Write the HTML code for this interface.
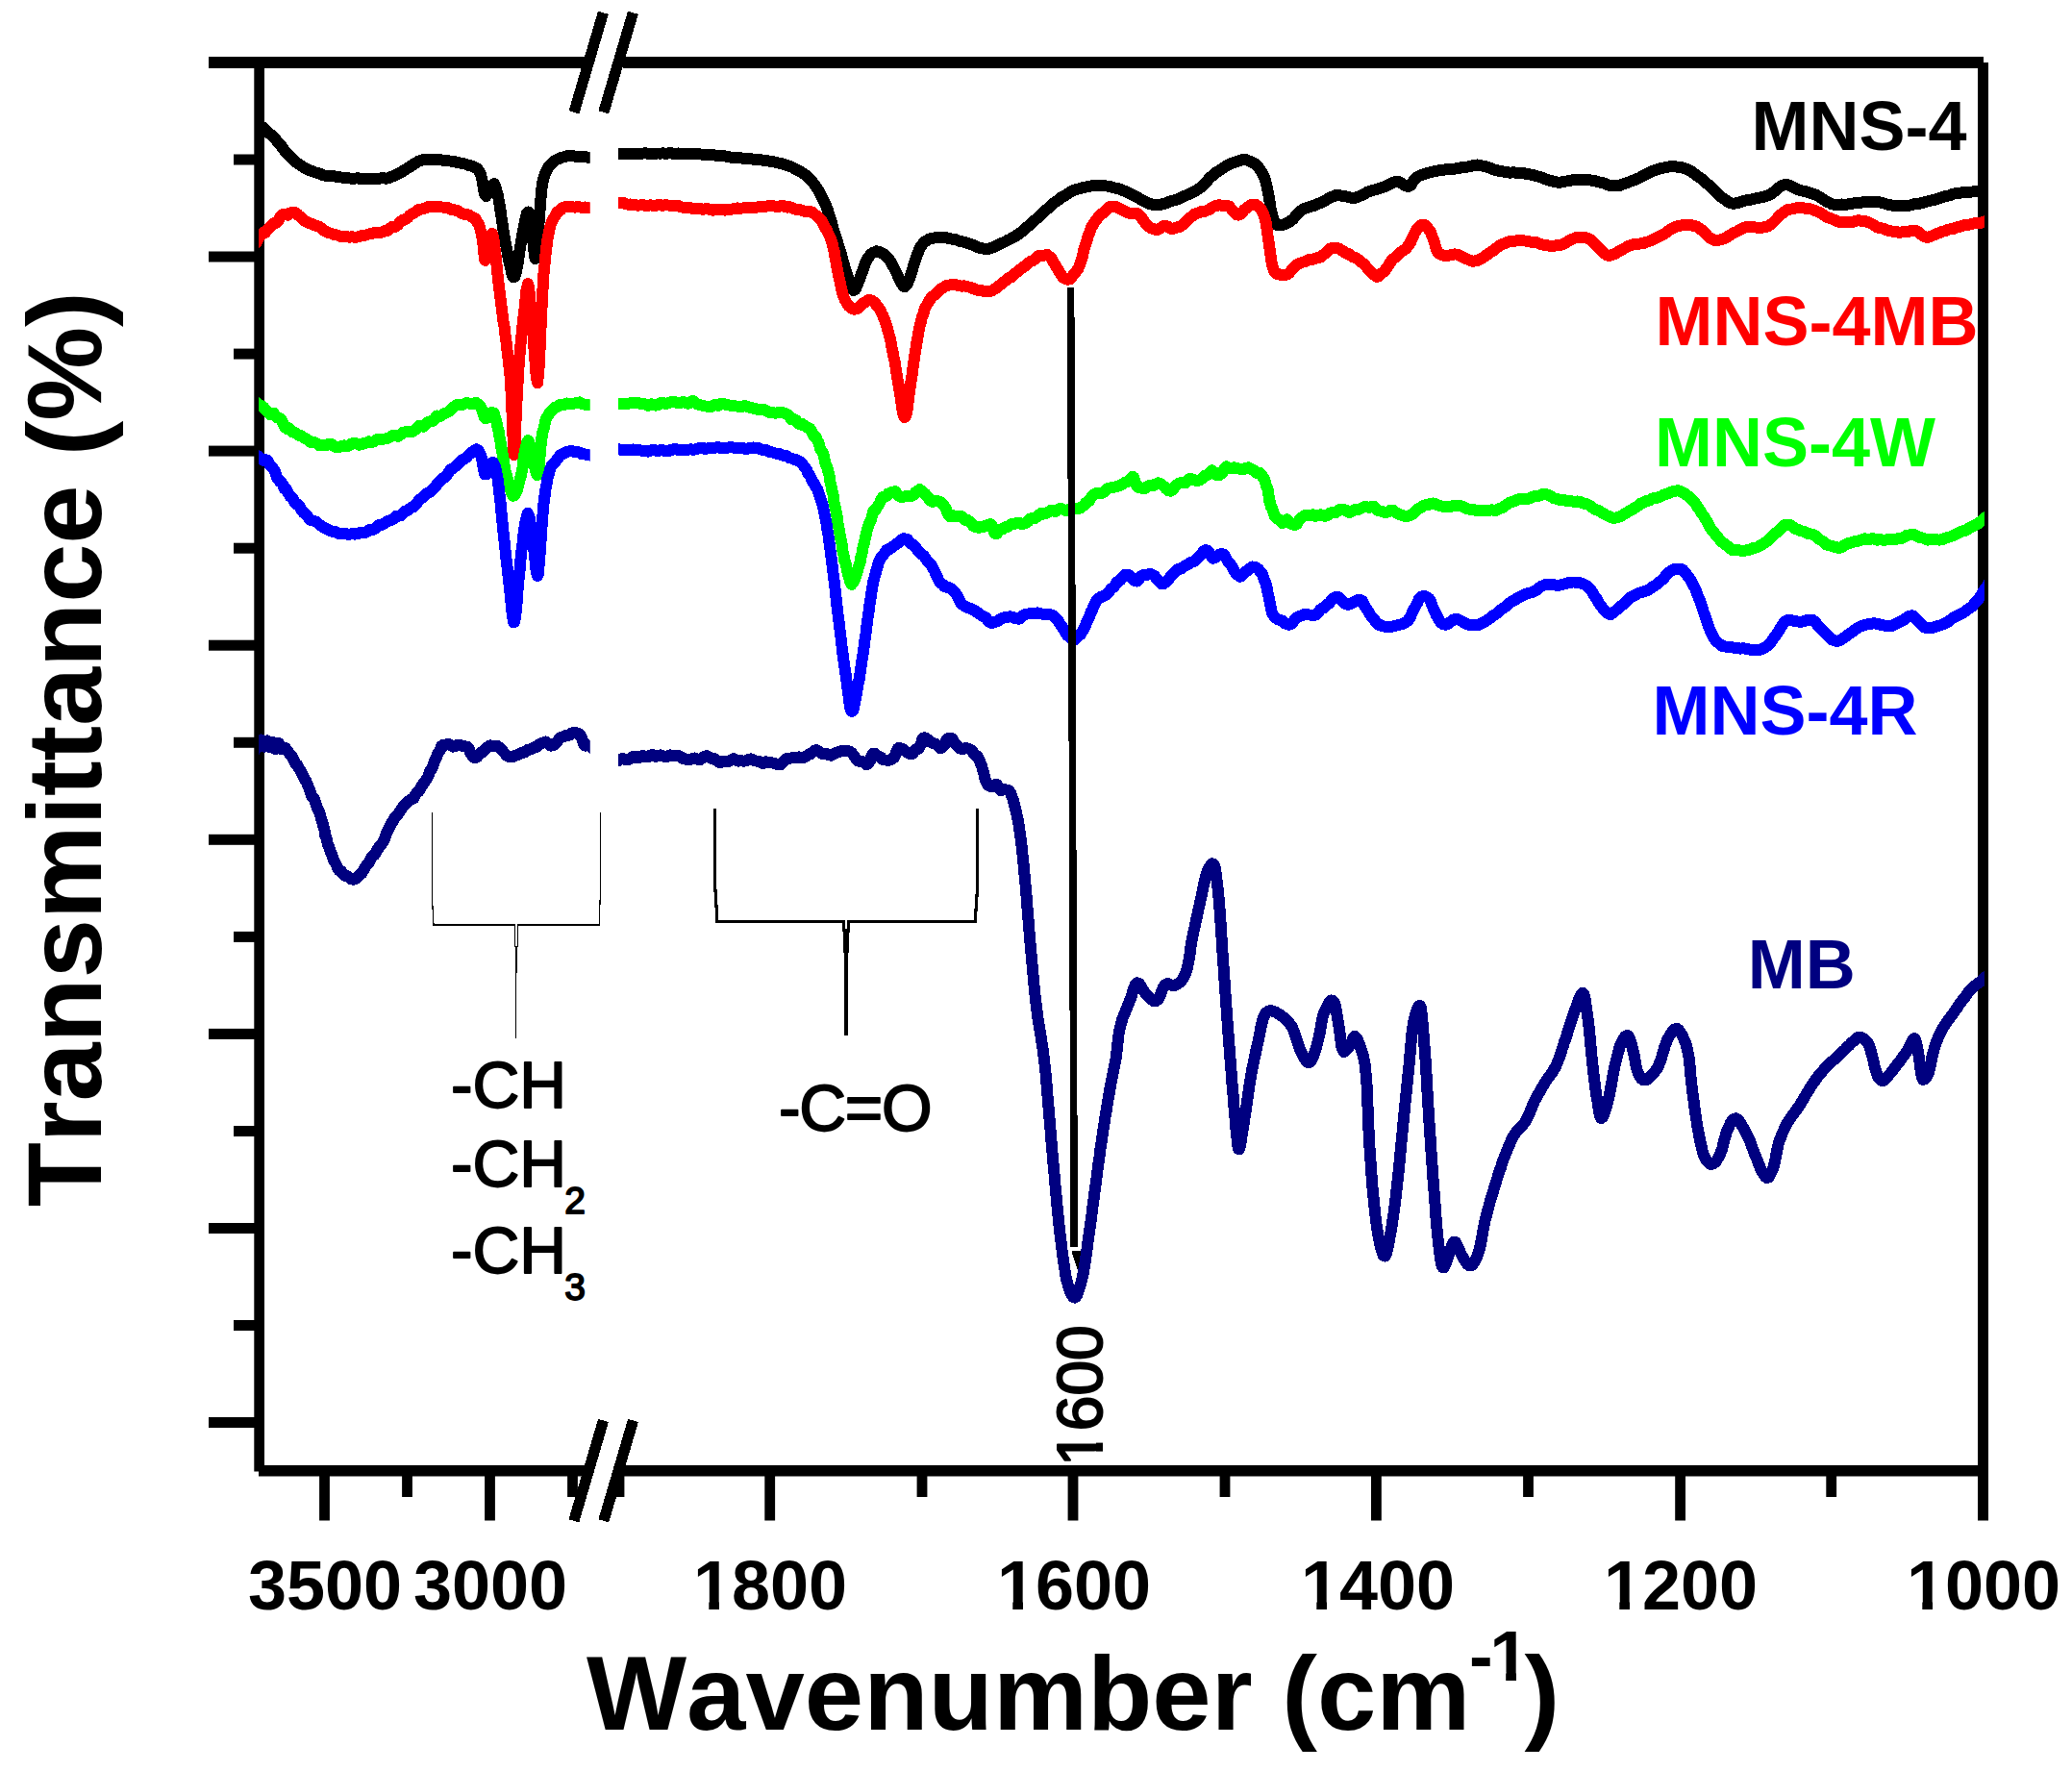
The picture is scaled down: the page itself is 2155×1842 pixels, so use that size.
<!DOCTYPE html>
<html lang="en"><head><meta charset="utf-8"><title>FTIR spectra</title>
<style>html,body{margin:0;padding:0;background:#fff;}svg{display:block;}text{font-family:"Liberation Sans",Arial,Helvetica,sans-serif;font-kerning:none;}.b{font-weight:bold;}</style></head><body>
<svg width="2155" height="1842" viewBox="0 0 2155 1842">
<rect x="0" y="0" width="2155" height="1842" fill="#ffffff"/>
<g id="brackets" fill="none" stroke="#000" shape-rendering="crispEdges">
<path d="M449.8,844.8 V940 L451,962 H535.2 V985 M538.4,985 V962 H623.2 L624.5,925 V844.8" stroke-width="1.2"/>
<path d="M536.8,984 V1012" stroke-width="2.4"/>
<path d="M536.8,1012 V1079.7" stroke-width="1.2"/>
<path d="M743.3,841 V915 L746,958.4 H877.6 V969 M882.7,970 V958.4 H1014.2 L1016.8,920 V841" stroke-width="3.2" stroke-linejoin="miter"/>
<path d="M880,966 V991" stroke-width="6"/>
<path d="M880,990 V1077" stroke-width="3.9"/>
</g>
<g id="axes" fill="#000">
<rect x="264.3" y="59" width="10.7" height="1471.5"/>
<rect x="2057" y="65" width="11" height="1516.5"/>
<rect x="217" y="59" width="393" height="12"/>
<rect x="648" y="59" width="1415" height="12"/>
<rect x="269" y="1524" width="340" height="11.5"/>
<rect x="648" y="1524" width="1420" height="11.5"/>
<rect x="217" y="261.5" width="48" height="11"/>
<rect x="217" y="463.6" width="48" height="11"/>
<rect x="217" y="665.7" width="48" height="11"/>
<rect x="217" y="867.8" width="48" height="11"/>
<rect x="217" y="1069.9" width="48" height="11"/>
<rect x="217" y="1272.0" width="48" height="11"/>
<rect x="217" y="1474.0" width="48" height="11"/>
<rect x="243" y="160.5" width="22" height="11"/>
<rect x="243" y="362.6" width="22" height="11"/>
<rect x="243" y="564.7" width="22" height="11"/>
<rect x="243" y="766.8" width="22" height="11"/>
<rect x="243" y="968.9" width="22" height="11"/>
<rect x="243" y="1171.0" width="22" height="11"/>
<rect x="243" y="1373.0" width="22" height="11"/>
<rect x="332.1" y="1530" width="10.8" height="51.5"/>
<rect x="504.1" y="1530" width="10.8" height="51.5"/>
<rect x="795.3" y="1530" width="10.8" height="51.5"/>
<rect x="1110.6" y="1530" width="10.8" height="51.5"/>
<rect x="1426.0" y="1530" width="10.8" height="51.5"/>
<rect x="1742.2" y="1530" width="10.8" height="51.5"/>
<rect x="418.1" y="1530" width="10.8" height="27"/>
<rect x="590.1" y="1530" width="10.8" height="27"/>
<rect x="638.6" y="1530" width="10.8" height="27"/>
<rect x="953.6" y="1530" width="10.8" height="27"/>
<rect x="1268.6" y="1530" width="10.8" height="27"/>
<rect x="1584.1" y="1530" width="10.8" height="27"/>
<rect x="1899.3" y="1530" width="10.8" height="27"/>
</g>
<g id="breaks" shape-rendering="crispEdges" stroke="#000" stroke-width="11.3" stroke-linecap="butt">
<polygon points="621,1500 611,1560 637,1560 650,1500" fill="#fff" stroke="none"/>
<polygon points="621,40 611,95 637,95 650,40" fill="#fff" stroke="none"/>
<line x1="627.5" y1="1477.5" x2="596.9" y2="1581.8"/>
<line x1="658.5" y1="1477.5" x2="627.8" y2="1581.8"/>
<line x1="627.4" y1="13.2" x2="597" y2="116.8"/>
<line x1="658.4" y1="13.2" x2="627.8" y2="116.8"/>
</g>
<defs><clipPath id="cl"><rect x="269.3" y="71" width="344.2" height="1453"/></clipPath><clipPath id="cr"><rect x="643" y="71" width="1420.8" height="1453"/></clipPath></defs>
<g id="curves" shape-rendering="crispEdges">
<g clip-path="url(#cl)"><polyline points="262.0,123.6 264.0,125.2 266.1,127.1 268.1,128.7 270.1,130.1 272.2,131.7 274.2,133.2 276.2,134.9 278.1,136.9 280.0,138.8 281.9,140.2 283.8,141.8 285.6,143.6 287.4,145.8 289.2,148.0 290.9,149.5 292.5,151.8 294.1,154.3 295.7,156.2 297.2,158.1 298.9,159.8 300.5,161.5 302.2,163.7 304.1,165.5 305.9,167.1 308.0,168.8 310.1,170.2 312.3,171.7 314.6,173.3 316.9,174.7 319.2,175.9 321.6,176.9 324.0,177.8 326.4,178.8 328.8,179.6 331.3,180.2 333.8,181.3 336.3,182.2 338.9,182.7 341.4,183.0 344.0,183.1 346.6,183.3 349.2,183.6 351.7,183.8 354.3,184.4 356.9,184.8 359.5,185.2 362.1,185.3 364.7,185.6 367.3,186.0 369.9,185.5 372.5,185.3 375.1,186.0 377.7,186.1 380.3,186.3 382.9,186.2 385.5,185.7 388.1,185.9 390.7,186.2 393.3,185.9 395.9,185.4 398.5,185.3 401.0,185.6 403.6,185.5 406.1,184.3 408.6,183.4 411.0,182.3 413.4,181.1 415.6,180.2 417.8,178.8 420.0,177.3 422.2,176.1 424.4,174.5 426.6,173.3 428.8,171.8 431.0,170.4 433.2,169.0 435.5,167.7 437.9,166.8 440.4,166.1 443.0,166.2 445.6,166.2 448.2,165.7 450.8,165.8 453.4,165.9 456.0,165.8 458.5,166.4 461.1,166.8 463.7,166.6 466.3,167.3 468.9,167.6 471.4,167.7 474.0,168.6 476.5,169.2 479.0,169.6 481.5,170.1 484.0,170.6 486.6,171.6 489.1,172.3 491.6,173.1 494.0,174.1 496.2,175.4 498.0,177.5 499.3,179.8 500.1,182.0 500.9,184.8 501.4,187.0 501.9,189.2 502.3,192.2 502.7,195.1 503.0,197.3 503.5,199.5 504.1,202.3 505.6,204.0 507.3,201.7 508.6,199.6 509.9,197.7 511.1,195.1 512.2,192.5 513.9,191.1 515.1,193.1 515.9,196.1 516.6,198.7 517.3,201.1 517.9,203.6 518.4,206.3 518.8,209.0 519.2,211.2 519.7,213.6 520.1,216.4 520.5,218.9 520.9,221.2 521.3,224.1 521.6,227.0 522.0,229.6 522.4,231.8 522.8,234.6 523.1,237.1 523.5,239.1 523.9,241.8 524.3,244.6 524.8,247.0 525.3,249.4 525.7,252.2 526.2,254.9 526.7,257.3 527.2,259.8 527.7,262.8 528.1,265.7 528.7,268.1 529.2,270.5 529.7,273.0 530.2,275.2 530.8,277.4 531.4,279.9 532.0,283.0 532.7,285.8 534.0,288.1 535.2,287.9 536.3,285.4 536.9,283.2 537.4,280.7 537.8,278.0 538.3,275.6 538.7,272.9 539.1,270.1 539.4,267.9 539.8,265.5 540.2,262.9 540.6,260.2 541.0,257.7 541.4,255.3 541.8,252.4 542.3,249.8 542.7,247.5 543.2,245.0 543.6,242.2 544.1,239.6 544.6,237.3 545.1,234.6 545.7,232.0 546.2,229.3 546.7,226.8 547.3,224.3 548.0,221.5 549.3,220.4 550.2,223.3 550.7,226.0 551.2,228.4 551.6,230.6 552.0,233.3 552.4,235.9 552.7,238.3 553.1,241.1 553.4,243.4 553.8,246.0 554.1,248.5 554.4,251.0 554.6,253.8 554.9,256.2 555.2,259.0 555.5,261.7 555.8,264.2 556.1,267.0 556.8,269.3 557.4,267.8 557.9,265.3 558.2,263.1 558.4,260.4 558.6,257.6 558.8,255.4 559.0,253.1 559.2,250.2 559.3,247.8 559.5,245.1 559.7,242.4 559.8,239.7 560.0,237.0 560.2,234.8 560.5,232.4 560.7,229.9 560.9,226.9 561.1,224.2 561.3,221.6 561.5,218.7 561.7,216.3 561.9,214.1 562.1,211.7 562.3,209.0 562.5,206.5 562.6,203.6 562.8,200.6 563.2,198.1 563.5,195.6 563.8,192.9 564.1,190.4 564.7,188.1 565.4,185.6 566.1,182.9 566.8,180.7 568.0,178.7 569.2,176.2 570.7,173.5 572.3,171.3 574.1,169.9 576.1,168.1 578.1,166.4 580.3,165.4 582.7,164.2 585.2,163.6 587.8,162.9 590.4,162.2 593.0,162.4 595.6,162.1 598.1,162.6 600.7,162.7 603.3,162.6 605.9,162.7 608.5,163.2 611.1,163.6 613.7,163.8 616.3,164.0 618.9,164.2 621.0,164.5" fill="none" stroke="#000000" stroke-width="11" stroke-linejoin="round" shape-rendering="auto"/><polyline points="262.0,123.6 264.0,125.2 266.1,127.1 268.1,128.7 270.1,130.1 272.2,131.7 274.2,133.2 276.2,134.9 278.1,136.9 280.0,138.8 281.9,140.2 283.8,141.8 285.6,143.6 287.4,145.8 289.2,148.0 290.9,149.5 292.5,151.8 294.1,154.3 295.7,156.2 297.2,158.1 298.9,159.8 300.5,161.5 302.2,163.7 304.1,165.5 305.9,167.1 308.0,168.8 310.1,170.2 312.3,171.7 314.6,173.3 316.9,174.7 319.2,175.9 321.6,176.9 324.0,177.8 326.4,178.8 328.8,179.6 331.3,180.2 333.8,181.3 336.3,182.2 338.9,182.7 341.4,183.0 344.0,183.1 346.6,183.3 349.2,183.6 351.7,183.8 354.3,184.4 356.9,184.8 359.5,185.2 362.1,185.3 364.7,185.6 367.3,186.0 369.9,185.5 372.5,185.3 375.1,186.0 377.7,186.1 380.3,186.3 382.9,186.2 385.5,185.7 388.1,185.9 390.7,186.2 393.3,185.9 395.9,185.4 398.5,185.3 401.0,185.6 403.6,185.5 406.1,184.3 408.6,183.4 411.0,182.3 413.4,181.1 415.6,180.2 417.8,178.8 420.0,177.3 422.2,176.1 424.4,174.5 426.6,173.3 428.8,171.8 431.0,170.4 433.2,169.0 435.5,167.7 437.9,166.8 440.4,166.1 443.0,166.2 445.6,166.2 448.2,165.7 450.8,165.8 453.4,165.9 456.0,165.8 458.5,166.4 461.1,166.8 463.7,166.6 466.3,167.3 468.9,167.6 471.4,167.7 474.0,168.6 476.5,169.2 479.0,169.6 481.5,170.1 484.0,170.6 486.6,171.6 489.1,172.3 491.6,173.1 494.0,174.1 496.2,175.4 498.0,177.5 499.3,179.8 500.1,182.0 500.9,184.8 501.4,187.0 501.9,189.2 502.3,192.2 502.7,195.1 503.0,197.3 503.5,199.5 504.1,202.3 505.6,204.0 507.3,201.7 508.6,199.6 509.9,197.7 511.1,195.1 512.2,192.5 513.9,191.1 515.1,193.1 515.9,196.1 516.6,198.7 517.3,201.1 517.9,203.6 518.4,206.3 518.8,209.0 519.2,211.2 519.7,213.6 520.1,216.4 520.5,218.9 520.9,221.2 521.3,224.1 521.6,227.0 522.0,229.6 522.4,231.8 522.8,234.6 523.1,237.1 523.5,239.1 523.9,241.8 524.3,244.6 524.8,247.0 525.3,249.4 525.7,252.2 526.2,254.9 526.7,257.3 527.2,259.8 527.7,262.8 528.1,265.7 528.7,268.1 529.2,270.5 529.7,273.0 530.2,275.2 530.8,277.4 531.4,279.9 532.0,283.0 532.7,285.8 534.0,288.1 535.2,287.9 536.3,285.4 536.9,283.2 537.4,280.7 537.8,278.0 538.3,275.6 538.7,272.9 539.1,270.1 539.4,267.9 539.8,265.5 540.2,262.9 540.6,260.2 541.0,257.7 541.4,255.3 541.8,252.4 542.3,249.8 542.7,247.5 543.2,245.0 543.6,242.2 544.1,239.6 544.6,237.3 545.1,234.6 545.7,232.0 546.2,229.3 546.7,226.8 547.3,224.3 548.0,221.5 549.3,220.4 550.2,223.3 550.7,226.0 551.2,228.4 551.6,230.6 552.0,233.3 552.4,235.9 552.7,238.3 553.1,241.1 553.4,243.4 553.8,246.0 554.1,248.5 554.4,251.0 554.6,253.8 554.9,256.2 555.2,259.0 555.5,261.7 555.8,264.2 556.1,267.0 556.8,269.3 557.4,267.8 557.9,265.3 558.2,263.1 558.4,260.4 558.6,257.6 558.8,255.4 559.0,253.1 559.2,250.2 559.3,247.8 559.5,245.1 559.7,242.4 559.8,239.7 560.0,237.0 560.2,234.8 560.5,232.4 560.7,229.9 560.9,226.9 561.1,224.2 561.3,221.6 561.5,218.7 561.7,216.3 561.9,214.1 562.1,211.7 562.3,209.0 562.5,206.5 562.6,203.6 562.8,200.6 563.2,198.1 563.5,195.6 563.8,192.9 564.1,190.4 564.7,188.1 565.4,185.6 566.1,182.9 566.8,180.7 568.0,178.7 569.2,176.2 570.7,173.5 572.3,171.3 574.1,169.9 576.1,168.1 578.1,166.4 580.3,165.4 582.7,164.2 585.2,163.6 587.8,162.9 590.4,162.2 593.0,162.4 595.6,162.1 598.1,162.6 600.7,162.7 603.3,162.6 605.9,162.7 608.5,163.2 611.1,163.6 613.7,163.8 616.3,164.0 618.9,164.2 621.0,164.5" fill="none" stroke="#000000" stroke-width="12" stroke-linejoin="round" shape-rendering="crispEdges"/></g>
<g clip-path="url(#cr)"><polyline points="635.0,160.0 637.6,160.1 640.2,160.2 642.8,159.9 645.4,159.6 648.0,159.7 650.6,159.7 653.2,159.9 655.8,160.1 658.4,159.9 661.0,159.8 663.6,159.8 666.2,159.6 668.8,159.5 671.4,159.4 674.0,159.7 676.6,159.6 679.2,159.6 681.8,159.5 684.4,159.5 687.0,159.6 689.6,159.4 692.2,159.7 694.8,159.5 697.4,159.2 700.0,159.7 702.6,159.9 705.2,159.5 707.8,159.9 710.4,160.3 713.0,159.9 715.6,159.8 718.2,159.8 720.8,159.9 723.4,160.3 726.0,160.3 728.6,160.5 731.2,160.5 733.8,160.5 736.4,161.0 739.0,161.3 741.6,161.3 744.1,161.6 746.7,161.9 749.3,162.0 751.9,162.0 754.5,162.5 757.1,163.2 759.7,163.6 762.3,163.7 764.8,163.7 767.4,163.8 770.0,164.3 772.6,164.7 775.2,164.7 777.8,164.8 780.4,165.2 782.9,165.5 785.5,166.0 788.1,166.2 790.7,166.1 793.3,166.7 795.9,167.1 798.4,167.3 801.0,167.7 803.6,168.1 806.1,168.7 808.6,169.4 811.2,169.8 813.7,170.4 816.2,171.2 818.7,172.1 821.1,172.9 823.5,173.7 825.8,175.0 828.2,176.3 830.4,177.4 832.7,178.6 834.9,180.1 837.0,181.5 839.1,183.2 841.1,185.2 842.9,187.0 844.6,189.0 846.3,190.8 847.8,193.0 849.2,195.2 850.6,197.1 851.9,199.5 853.2,202.1 854.4,204.0 855.6,206.1 856.7,208.8 857.7,211.2 858.8,213.3 859.8,215.6 860.7,217.9 861.5,220.7 862.4,223.6 863.2,226.2 863.9,228.5 864.6,230.5 865.4,232.9 866.1,235.8 866.8,238.5 867.5,240.9 868.3,243.1 869.1,245.6 869.8,248.2 870.6,250.7 871.4,253.1 872.1,255.8 872.9,258.5 873.6,260.6 874.4,262.8 875.2,265.7 875.9,268.1 876.6,270.7 877.3,273.3 878.0,275.7 878.7,278.3 879.5,280.5 880.2,282.8 880.9,285.3 881.7,288.0 882.6,290.7 883.4,292.9 884.3,295.5 885.1,298.0 886.2,300.1 887.8,302.1 889.7,301.0 890.7,298.7 891.7,296.1 892.6,293.9 893.6,291.6 894.5,289.1 895.4,286.4 896.3,283.9 897.2,281.7 898.0,279.3 898.8,276.7 899.7,274.0 900.8,271.6 902.0,269.5 903.5,267.4 905.2,265.1 907.1,263.4 909.2,262.3 911.6,261.4 914.2,261.7 916.5,262.9 918.7,264.1 920.7,265.8 922.5,267.5 924.2,269.1 925.7,271.3 927.1,273.6 928.4,276.1 929.7,278.5 930.8,280.6 932.0,283.0 933.1,285.1 934.1,287.5 935.1,290.1 936.3,292.4 937.4,294.5 938.9,296.6 940.8,298.3 942.6,296.9 944.0,294.6 945.0,291.9 945.9,289.6 946.7,287.4 947.4,285.1 948.2,282.6 949.0,280.2 949.8,277.6 950.6,274.7 951.5,272.3 952.3,270.0 953.1,267.4 953.9,265.1 954.8,262.7 955.7,260.0 956.8,257.7 958.1,255.8 959.7,253.6 961.6,251.6 963.8,250.2 966.1,248.9 968.5,248.1 971.0,247.5 973.6,247.4 976.2,247.3 978.8,247.2 981.4,247.2 984.0,247.3 986.5,247.9 989.1,248.5 991.6,248.9 994.2,249.3 996.7,250.3 999.2,251.2 1001.7,251.5 1004.2,252.2 1006.7,253.1 1009.1,253.9 1011.6,254.7 1014.0,255.8 1016.4,256.9 1018.9,257.7 1021.3,258.4 1023.9,258.7 1026.5,259.0 1029.0,258.6 1031.5,257.7 1033.9,256.8 1036.3,255.6 1038.6,254.4 1041.0,253.2 1043.3,252.3 1045.7,251.2 1048.0,249.8 1050.3,248.9 1052.6,247.6 1054.8,246.4 1057.0,245.1 1059.2,243.5 1061.2,242.1 1063.3,240.7 1065.3,238.8 1067.3,236.7 1069.3,235.2 1071.2,233.8 1073.2,232.1 1075.1,230.3 1077.0,228.5 1079.0,226.7 1080.9,224.8 1082.8,223.0 1084.7,221.3 1086.6,219.5 1088.6,217.8 1090.5,216.2 1092.4,214.3 1094.4,212.4 1096.4,210.8 1098.5,209.6 1100.6,208.1 1102.7,206.2 1104.8,204.9 1106.9,203.8 1109.2,202.4 1111.4,200.8 1113.7,199.6 1116.0,198.4 1118.5,197.2 1120.9,196.7 1123.4,196.2 1125.9,195.3 1128.5,194.8 1131.0,194.2 1133.6,193.6 1136.2,193.3 1138.8,193.0 1141.4,193.0 1144.0,193.3 1146.6,193.4 1149.2,193.3 1151.7,193.6 1154.3,194.0 1156.9,194.8 1159.4,195.5 1161.9,195.8 1164.4,196.6 1166.9,197.7 1169.3,198.5 1171.7,199.6 1174.0,200.7 1176.4,202.0 1178.7,203.0 1181.0,204.2 1183.3,205.4 1185.5,206.8 1187.7,208.1 1189.9,209.3 1192.3,210.6 1194.7,211.7 1197.2,212.3 1199.7,213.0 1202.3,213.2 1204.9,212.9 1207.5,212.6 1210.0,212.1 1212.5,211.3 1215.0,210.3 1217.5,209.4 1219.9,208.7 1222.4,208.0 1224.8,207.3 1227.3,206.0 1229.7,204.8 1232.1,203.8 1234.5,202.8 1236.9,201.7 1239.2,200.6 1241.5,199.4 1243.8,198.2 1245.9,196.9 1247.9,195.5 1249.9,194.0 1251.7,192.3 1253.6,190.3 1255.4,188.5 1257.2,186.2 1259.1,184.1 1261.0,182.8 1263.0,181.2 1265.1,179.3 1267.2,178.0 1269.4,176.6 1271.6,175.2 1273.8,173.7 1276.1,172.3 1278.4,171.0 1280.7,170.0 1283.0,169.3 1285.4,168.4 1287.8,167.4 1290.3,166.7 1292.9,166.1 1295.5,166.1 1298.0,167.0 1300.4,168.0 1302.7,169.1 1304.9,170.2 1306.9,171.7 1308.7,173.8 1310.3,176.0 1311.8,178.3 1313.1,180.6 1314.3,182.6 1315.3,184.9 1316.1,187.6 1316.7,190.4 1317.3,192.7 1317.8,194.9 1318.3,197.6 1318.8,200.3 1319.3,202.7 1319.8,205.1 1320.2,207.7 1320.6,210.4 1321.0,212.9 1321.4,215.4 1321.9,218.4 1322.5,221.0 1323.1,223.2 1323.7,225.6 1324.4,228.0 1325.2,230.6 1326.5,233.0 1328.6,234.1 1331.2,234.3 1333.7,234.0 1336.2,233.2 1338.6,232.1 1341.0,230.9 1343.0,229.3 1344.9,227.8 1346.6,225.8 1348.2,223.6 1350.0,221.7 1352.0,219.9 1354.1,218.5 1356.4,217.2 1358.8,216.2 1361.3,215.4 1363.7,214.5 1366.2,214.0 1368.6,213.1 1371.1,211.9 1373.4,211.0 1375.7,209.8 1378.0,208.6 1380.3,207.4 1382.6,205.9 1384.9,204.9 1387.4,203.9 1389.9,203.0 1392.4,203.1 1395.0,203.6 1397.5,204.1 1400.0,204.4 1402.5,205.0 1405.1,205.6 1407.7,206.0 1410.2,205.6 1412.7,204.6 1415.0,203.6 1417.3,202.6 1419.6,201.3 1421.9,200.0 1424.2,199.2 1426.7,198.3 1429.2,197.6 1431.7,196.8 1434.2,196.0 1436.7,195.2 1439.2,194.6 1441.6,193.8 1443.9,192.4 1446.2,191.0 1448.5,190.1 1450.9,189.1 1453.5,188.6 1455.9,189.5 1458.1,190.9 1460.3,192.2 1462.4,193.5 1464.9,193.9 1467.1,192.9 1468.4,191.0 1469.8,188.5 1471.3,186.5 1473.1,184.9 1475.4,183.3 1477.8,182.3 1480.2,181.5 1482.7,180.6 1485.3,179.8 1487.8,179.3 1490.3,178.6 1492.9,177.9 1495.4,177.5 1498.0,177.2 1500.6,176.8 1503.2,176.4 1505.7,176.4 1508.3,176.2 1510.9,175.7 1513.5,175.5 1516.1,175.4 1518.6,174.7 1521.2,173.9 1523.7,173.8 1526.3,173.5 1528.8,173.0 1531.4,172.4 1533.9,171.8 1536.5,171.5 1539.1,171.9 1541.7,172.6 1544.2,173.0 1546.7,173.9 1549.1,174.6 1551.6,175.4 1554.0,176.6 1556.5,177.1 1559.0,177.7 1561.5,178.1 1564.1,178.7 1566.7,179.3 1569.3,179.5 1571.9,179.5 1574.5,179.4 1577.1,179.7 1579.7,180.0 1582.2,180.2 1584.8,180.2 1587.4,180.8 1590.0,181.4 1592.6,181.6 1595.1,182.2 1597.6,183.1 1600.1,183.6 1602.6,184.3 1605.0,185.4 1607.4,186.2 1609.9,187.2 1612.3,187.8 1614.8,188.5 1617.4,189.2 1619.9,189.6 1622.5,189.7 1625.1,189.3 1627.7,188.6 1630.2,188.4 1632.8,188.0 1635.3,187.3 1637.9,187.1 1640.5,186.8 1643.1,187.0 1645.7,187.0 1648.3,187.0 1650.9,187.2 1653.4,187.4 1656.0,187.7 1658.6,188.1 1661.1,189.0 1663.7,189.5 1666.2,190.0 1668.7,190.7 1671.1,191.8 1673.6,192.7 1676.1,192.9 1678.7,193.4 1681.3,193.5 1683.9,193.2 1686.4,192.2 1688.9,191.2 1691.3,190.5 1693.7,189.5 1696.2,188.5 1698.6,187.8 1701.0,186.8 1703.4,185.8 1705.7,184.7 1708.0,183.3 1710.3,182.1 1712.7,181.0 1715.0,179.6 1717.4,178.4 1719.8,177.7 1722.2,176.9 1724.7,175.9 1727.2,175.2 1729.7,174.7 1732.3,174.0 1734.8,173.6 1737.4,173.3 1740.0,173.1 1742.6,173.3 1745.2,173.7 1747.7,173.8 1750.2,174.5 1752.7,175.4 1755.1,176.4 1757.4,177.4 1759.6,178.5 1761.8,180.3 1764.0,181.9 1766.0,183.4 1768.0,184.8 1770.0,186.2 1771.9,188.4 1773.9,190.0 1775.9,191.4 1777.8,193.2 1779.8,195.3 1781.7,197.1 1783.6,199.0 1785.5,200.8 1787.4,202.3 1789.3,204.2 1791.3,205.7 1793.4,206.9 1795.6,208.7 1797.8,210.4 1800.2,211.3 1802.7,211.7 1805.3,211.4 1807.8,210.8 1810.3,210.0 1812.8,209.1 1815.2,208.5 1817.8,208.2 1820.3,207.9 1822.8,207.1 1825.4,206.5 1827.9,206.0 1830.5,205.5 1833.0,205.0 1835.5,204.4 1838.0,203.6 1840.4,202.6 1842.7,201.3 1844.9,199.6 1846.9,198.0 1848.9,196.4 1850.9,194.6 1853.0,193.0 1855.5,192.2 1858.0,192.0 1860.5,192.5 1862.9,193.6 1865.3,194.9 1867.5,196.3 1869.9,197.2 1872.3,198.0 1874.8,198.6 1877.4,199.0 1879.9,199.8 1882.5,200.7 1884.9,201.3 1887.3,202.3 1889.6,203.2 1891.9,204.5 1894.0,205.9 1896.2,207.2 1898.4,208.8 1900.7,210.0 1903.0,211.0 1905.4,212.3 1907.9,212.9 1910.5,213.3 1913.1,213.1 1915.7,212.5 1918.3,212.7 1920.9,212.6 1923.5,212.3 1926.0,211.9 1928.6,211.2 1931.2,211.0 1933.8,210.8 1936.3,210.5 1938.9,210.1 1941.5,209.7 1944.1,209.9 1946.7,209.9 1949.3,210.2 1951.9,210.4 1954.5,210.4 1957.0,210.8 1959.6,211.5 1962.1,212.4 1964.7,213.2 1967.2,213.5 1969.8,213.7 1972.4,213.7 1975.0,214.2 1977.6,214.1 1980.2,213.8 1982.8,213.7 1985.3,213.7 1987.9,213.2 1990.5,212.4 1993.0,212.4 1995.6,211.8 1998.1,211.2 2000.7,210.7 2003.2,209.9 2005.7,209.2 2008.2,208.6 2010.7,208.2 2013.2,207.6 2015.7,206.7 2018.2,205.6 2020.7,204.8 2023.2,204.1 2025.7,203.7 2028.2,203.2 2030.7,202.1 2033.2,201.3 2035.8,201.3 2038.3,200.8 2040.9,200.1 2043.5,199.9 2046.1,200.0 2048.7,199.7 2051.3,199.5 2053.9,199.2 2056.5,199.0 2059.0,198.7 2061.6,198.4 2064.2,198.4 2065.0,198.5" fill="none" stroke="#000000" stroke-width="11" stroke-linejoin="round" shape-rendering="auto"/><polyline points="635.0,160.0 637.6,160.1 640.2,160.2 642.8,159.9 645.4,159.6 648.0,159.7 650.6,159.7 653.2,159.9 655.8,160.1 658.4,159.9 661.0,159.8 663.6,159.8 666.2,159.6 668.8,159.5 671.4,159.4 674.0,159.7 676.6,159.6 679.2,159.6 681.8,159.5 684.4,159.5 687.0,159.6 689.6,159.4 692.2,159.7 694.8,159.5 697.4,159.2 700.0,159.7 702.6,159.9 705.2,159.5 707.8,159.9 710.4,160.3 713.0,159.9 715.6,159.8 718.2,159.8 720.8,159.9 723.4,160.3 726.0,160.3 728.6,160.5 731.2,160.5 733.8,160.5 736.4,161.0 739.0,161.3 741.6,161.3 744.1,161.6 746.7,161.9 749.3,162.0 751.9,162.0 754.5,162.5 757.1,163.2 759.7,163.6 762.3,163.7 764.8,163.7 767.4,163.8 770.0,164.3 772.6,164.7 775.2,164.7 777.8,164.8 780.4,165.2 782.9,165.5 785.5,166.0 788.1,166.2 790.7,166.1 793.3,166.7 795.9,167.1 798.4,167.3 801.0,167.7 803.6,168.1 806.1,168.7 808.6,169.4 811.2,169.8 813.7,170.4 816.2,171.2 818.7,172.1 821.1,172.9 823.5,173.7 825.8,175.0 828.2,176.3 830.4,177.4 832.7,178.6 834.9,180.1 837.0,181.5 839.1,183.2 841.1,185.2 842.9,187.0 844.6,189.0 846.3,190.8 847.8,193.0 849.2,195.2 850.6,197.1 851.9,199.5 853.2,202.1 854.4,204.0 855.6,206.1 856.7,208.8 857.7,211.2 858.8,213.3 859.8,215.6 860.7,217.9 861.5,220.7 862.4,223.6 863.2,226.2 863.9,228.5 864.6,230.5 865.4,232.9 866.1,235.8 866.8,238.5 867.5,240.9 868.3,243.1 869.1,245.6 869.8,248.2 870.6,250.7 871.4,253.1 872.1,255.8 872.9,258.5 873.6,260.6 874.4,262.8 875.2,265.7 875.9,268.1 876.6,270.7 877.3,273.3 878.0,275.7 878.7,278.3 879.5,280.5 880.2,282.8 880.9,285.3 881.7,288.0 882.6,290.7 883.4,292.9 884.3,295.5 885.1,298.0 886.2,300.1 887.8,302.1 889.7,301.0 890.7,298.7 891.7,296.1 892.6,293.9 893.6,291.6 894.5,289.1 895.4,286.4 896.3,283.9 897.2,281.7 898.0,279.3 898.8,276.7 899.7,274.0 900.8,271.6 902.0,269.5 903.5,267.4 905.2,265.1 907.1,263.4 909.2,262.3 911.6,261.4 914.2,261.7 916.5,262.9 918.7,264.1 920.7,265.8 922.5,267.5 924.2,269.1 925.7,271.3 927.1,273.6 928.4,276.1 929.7,278.5 930.8,280.6 932.0,283.0 933.1,285.1 934.1,287.5 935.1,290.1 936.3,292.4 937.4,294.5 938.9,296.6 940.8,298.3 942.6,296.9 944.0,294.6 945.0,291.9 945.9,289.6 946.7,287.4 947.4,285.1 948.2,282.6 949.0,280.2 949.8,277.6 950.6,274.7 951.5,272.3 952.3,270.0 953.1,267.4 953.9,265.1 954.8,262.7 955.7,260.0 956.8,257.7 958.1,255.8 959.7,253.6 961.6,251.6 963.8,250.2 966.1,248.9 968.5,248.1 971.0,247.5 973.6,247.4 976.2,247.3 978.8,247.2 981.4,247.2 984.0,247.3 986.5,247.9 989.1,248.5 991.6,248.9 994.2,249.3 996.7,250.3 999.2,251.2 1001.7,251.5 1004.2,252.2 1006.7,253.1 1009.1,253.9 1011.6,254.7 1014.0,255.8 1016.4,256.9 1018.9,257.7 1021.3,258.4 1023.9,258.7 1026.5,259.0 1029.0,258.6 1031.5,257.7 1033.9,256.8 1036.3,255.6 1038.6,254.4 1041.0,253.2 1043.3,252.3 1045.7,251.2 1048.0,249.8 1050.3,248.9 1052.6,247.6 1054.8,246.4 1057.0,245.1 1059.2,243.5 1061.2,242.1 1063.3,240.7 1065.3,238.8 1067.3,236.7 1069.3,235.2 1071.2,233.8 1073.2,232.1 1075.1,230.3 1077.0,228.5 1079.0,226.7 1080.9,224.8 1082.8,223.0 1084.7,221.3 1086.6,219.5 1088.6,217.8 1090.5,216.2 1092.4,214.3 1094.4,212.4 1096.4,210.8 1098.5,209.6 1100.6,208.1 1102.7,206.2 1104.8,204.9 1106.9,203.8 1109.2,202.4 1111.4,200.8 1113.7,199.6 1116.0,198.4 1118.5,197.2 1120.9,196.7 1123.4,196.2 1125.9,195.3 1128.5,194.8 1131.0,194.2 1133.6,193.6 1136.2,193.3 1138.8,193.0 1141.4,193.0 1144.0,193.3 1146.6,193.4 1149.2,193.3 1151.7,193.6 1154.3,194.0 1156.9,194.8 1159.4,195.5 1161.9,195.8 1164.4,196.6 1166.9,197.7 1169.3,198.5 1171.7,199.6 1174.0,200.7 1176.4,202.0 1178.7,203.0 1181.0,204.2 1183.3,205.4 1185.5,206.8 1187.7,208.1 1189.9,209.3 1192.3,210.6 1194.7,211.7 1197.2,212.3 1199.7,213.0 1202.3,213.2 1204.9,212.9 1207.5,212.6 1210.0,212.1 1212.5,211.3 1215.0,210.3 1217.5,209.4 1219.9,208.7 1222.4,208.0 1224.8,207.3 1227.3,206.0 1229.7,204.8 1232.1,203.8 1234.5,202.8 1236.9,201.7 1239.2,200.6 1241.5,199.4 1243.8,198.2 1245.9,196.9 1247.9,195.5 1249.9,194.0 1251.7,192.3 1253.6,190.3 1255.4,188.5 1257.2,186.2 1259.1,184.1 1261.0,182.8 1263.0,181.2 1265.1,179.3 1267.2,178.0 1269.4,176.6 1271.6,175.2 1273.8,173.7 1276.1,172.3 1278.4,171.0 1280.7,170.0 1283.0,169.3 1285.4,168.4 1287.8,167.4 1290.3,166.7 1292.9,166.1 1295.5,166.1 1298.0,167.0 1300.4,168.0 1302.7,169.1 1304.9,170.2 1306.9,171.7 1308.7,173.8 1310.3,176.0 1311.8,178.3 1313.1,180.6 1314.3,182.6 1315.3,184.9 1316.1,187.6 1316.7,190.4 1317.3,192.7 1317.8,194.9 1318.3,197.6 1318.8,200.3 1319.3,202.7 1319.8,205.1 1320.2,207.7 1320.6,210.4 1321.0,212.9 1321.4,215.4 1321.9,218.4 1322.5,221.0 1323.1,223.2 1323.7,225.6 1324.4,228.0 1325.2,230.6 1326.5,233.0 1328.6,234.1 1331.2,234.3 1333.7,234.0 1336.2,233.2 1338.6,232.1 1341.0,230.9 1343.0,229.3 1344.9,227.8 1346.6,225.8 1348.2,223.6 1350.0,221.7 1352.0,219.9 1354.1,218.5 1356.4,217.2 1358.8,216.2 1361.3,215.4 1363.7,214.5 1366.2,214.0 1368.6,213.1 1371.1,211.9 1373.4,211.0 1375.7,209.8 1378.0,208.6 1380.3,207.4 1382.6,205.9 1384.9,204.9 1387.4,203.9 1389.9,203.0 1392.4,203.1 1395.0,203.6 1397.5,204.1 1400.0,204.4 1402.5,205.0 1405.1,205.6 1407.7,206.0 1410.2,205.6 1412.7,204.6 1415.0,203.6 1417.3,202.6 1419.6,201.3 1421.9,200.0 1424.2,199.2 1426.7,198.3 1429.2,197.6 1431.7,196.8 1434.2,196.0 1436.7,195.2 1439.2,194.6 1441.6,193.8 1443.9,192.4 1446.2,191.0 1448.5,190.1 1450.9,189.1 1453.5,188.6 1455.9,189.5 1458.1,190.9 1460.3,192.2 1462.4,193.5 1464.9,193.9 1467.1,192.9 1468.4,191.0 1469.8,188.5 1471.3,186.5 1473.1,184.9 1475.4,183.3 1477.8,182.3 1480.2,181.5 1482.7,180.6 1485.3,179.8 1487.8,179.3 1490.3,178.6 1492.9,177.9 1495.4,177.5 1498.0,177.2 1500.6,176.8 1503.2,176.4 1505.7,176.4 1508.3,176.2 1510.9,175.7 1513.5,175.5 1516.1,175.4 1518.6,174.7 1521.2,173.9 1523.7,173.8 1526.3,173.5 1528.8,173.0 1531.4,172.4 1533.9,171.8 1536.5,171.5 1539.1,171.9 1541.7,172.6 1544.2,173.0 1546.7,173.9 1549.1,174.6 1551.6,175.4 1554.0,176.6 1556.5,177.1 1559.0,177.7 1561.5,178.1 1564.1,178.7 1566.7,179.3 1569.3,179.5 1571.9,179.5 1574.5,179.4 1577.1,179.7 1579.7,180.0 1582.2,180.2 1584.8,180.2 1587.4,180.8 1590.0,181.4 1592.6,181.6 1595.1,182.2 1597.6,183.1 1600.1,183.6 1602.6,184.3 1605.0,185.4 1607.4,186.2 1609.9,187.2 1612.3,187.8 1614.8,188.5 1617.4,189.2 1619.9,189.6 1622.5,189.7 1625.1,189.3 1627.7,188.6 1630.2,188.4 1632.8,188.0 1635.3,187.3 1637.9,187.1 1640.5,186.8 1643.1,187.0 1645.7,187.0 1648.3,187.0 1650.9,187.2 1653.4,187.4 1656.0,187.7 1658.6,188.1 1661.1,189.0 1663.7,189.5 1666.2,190.0 1668.7,190.7 1671.1,191.8 1673.6,192.7 1676.1,192.9 1678.7,193.4 1681.3,193.5 1683.9,193.2 1686.4,192.2 1688.9,191.2 1691.3,190.5 1693.7,189.5 1696.2,188.5 1698.6,187.8 1701.0,186.8 1703.4,185.8 1705.7,184.7 1708.0,183.3 1710.3,182.1 1712.7,181.0 1715.0,179.6 1717.4,178.4 1719.8,177.7 1722.2,176.9 1724.7,175.9 1727.2,175.2 1729.7,174.7 1732.3,174.0 1734.8,173.6 1737.4,173.3 1740.0,173.1 1742.6,173.3 1745.2,173.7 1747.7,173.8 1750.2,174.5 1752.7,175.4 1755.1,176.4 1757.4,177.4 1759.6,178.5 1761.8,180.3 1764.0,181.9 1766.0,183.4 1768.0,184.8 1770.0,186.2 1771.9,188.4 1773.9,190.0 1775.9,191.4 1777.8,193.2 1779.8,195.3 1781.7,197.1 1783.6,199.0 1785.5,200.8 1787.4,202.3 1789.3,204.2 1791.3,205.7 1793.4,206.9 1795.6,208.7 1797.8,210.4 1800.2,211.3 1802.7,211.7 1805.3,211.4 1807.8,210.8 1810.3,210.0 1812.8,209.1 1815.2,208.5 1817.8,208.2 1820.3,207.9 1822.8,207.1 1825.4,206.5 1827.9,206.0 1830.5,205.5 1833.0,205.0 1835.5,204.4 1838.0,203.6 1840.4,202.6 1842.7,201.3 1844.9,199.6 1846.9,198.0 1848.9,196.4 1850.9,194.6 1853.0,193.0 1855.5,192.2 1858.0,192.0 1860.5,192.5 1862.9,193.6 1865.3,194.9 1867.5,196.3 1869.9,197.2 1872.3,198.0 1874.8,198.6 1877.4,199.0 1879.9,199.8 1882.5,200.7 1884.9,201.3 1887.3,202.3 1889.6,203.2 1891.9,204.5 1894.0,205.9 1896.2,207.2 1898.4,208.8 1900.7,210.0 1903.0,211.0 1905.4,212.3 1907.9,212.9 1910.5,213.3 1913.1,213.1 1915.7,212.5 1918.3,212.7 1920.9,212.6 1923.5,212.3 1926.0,211.9 1928.6,211.2 1931.2,211.0 1933.8,210.8 1936.3,210.5 1938.9,210.1 1941.5,209.7 1944.1,209.9 1946.7,209.9 1949.3,210.2 1951.9,210.4 1954.5,210.4 1957.0,210.8 1959.6,211.5 1962.1,212.4 1964.7,213.2 1967.2,213.5 1969.8,213.7 1972.4,213.7 1975.0,214.2 1977.6,214.1 1980.2,213.8 1982.8,213.7 1985.3,213.7 1987.9,213.2 1990.5,212.4 1993.0,212.4 1995.6,211.8 1998.1,211.2 2000.7,210.7 2003.2,209.9 2005.7,209.2 2008.2,208.6 2010.7,208.2 2013.2,207.6 2015.7,206.7 2018.2,205.6 2020.7,204.8 2023.2,204.1 2025.7,203.7 2028.2,203.2 2030.7,202.1 2033.2,201.3 2035.8,201.3 2038.3,200.8 2040.9,200.1 2043.5,199.9 2046.1,200.0 2048.7,199.7 2051.3,199.5 2053.9,199.2 2056.5,199.0 2059.0,198.7 2061.6,198.4 2064.2,198.4 2065.0,198.5" fill="none" stroke="#000000" stroke-width="12" stroke-linejoin="round" shape-rendering="crispEdges"/></g>
<g clip-path="url(#cl)"><polyline points="261.0,255.5 262.9,254.5 264.7,253.9 266.6,252.7 268.5,249.0 270.3,245.4 272.2,243.5 274.1,241.7 275.9,241.9 277.8,239.4 279.7,237.3 281.6,235.5 283.4,233.1 285.3,232.0 287.1,232.0 289.0,230.5 291.0,226.2 293.1,223.8 295.2,222.6 297.4,223.3 299.6,223.8 301.9,221.4 304.4,220.8 306.9,220.9 309.1,222.5 310.8,224.5 312.5,225.4 314.3,227.5 316.4,229.3 318.6,230.6 320.9,231.9 323.2,232.6 325.5,233.4 327.9,234.5 330.3,235.5 332.6,236.1 335.0,238.0 337.4,240.0 339.7,241.4 342.1,242.2 344.4,242.7 346.8,243.8 349.3,244.1 351.7,244.9 354.2,246.0 356.8,245.7 359.4,245.7 362.0,246.5 364.6,246.5 367.2,246.4 369.8,246.8 372.3,246.4 374.9,245.4 377.5,245.1 380.0,244.7 382.6,243.8 385.1,243.1 387.6,242.7 390.1,241.9 392.7,241.8 395.2,242.3 397.7,241.2 400.2,240.2 402.7,240.2 405.1,238.1 407.5,236.1 409.7,236.0 412.0,235.5 414.0,233.7 416.1,231.1 418.1,229.3 420.2,228.7 422.3,227.8 424.4,226.2 426.6,223.7 428.7,222.5 430.9,221.2 433.1,219.8 435.4,218.0 437.8,217.6 440.3,217.2 442.8,216.3 445.3,215.2 447.9,214.8 450.5,215.1 453.1,215.0 455.7,214.8 458.3,215.3 460.8,215.6 463.4,215.7 465.9,216.1 468.3,217.6 470.8,218.2 473.2,218.5 475.7,219.2 478.2,220.7 480.6,222.2 483.1,222.9 485.6,222.9 487.9,223.9 490.3,225.4 492.5,226.3 494.6,227.4 496.2,230.8 497.6,232.9 498.5,234.5 499.3,237.1 499.9,240.1 500.5,242.3 501.1,244.8 501.5,247.7 501.9,250.8 502.3,252.7 502.6,254.7 502.8,258.0 503.1,261.6 503.4,264.0 503.6,266.0 503.9,268.8 504.7,270.9 505.6,269.1 506.4,267.0 506.9,265.8 507.4,263.5 507.8,259.9 508.3,257.4 508.8,255.7 509.2,252.4 509.7,249.6 510.2,247.1 511.0,244.1 511.9,243.0 512.8,245.4 513.2,248.1 513.6,250.3 514.0,253.1 514.3,255.6 514.6,258.9 514.9,262.1 515.3,263.5 515.6,266.5 515.9,269.2 516.2,271.5 516.4,274.5 516.7,276.9 516.9,279.1 517.2,281.9 517.4,284.2 517.7,287.5 518.0,289.9 518.3,292.6 518.6,295.1 518.9,297.1 519.2,299.9 519.5,302.0 519.8,304.3 520.1,307.4 520.5,310.4 520.8,313.8 521.1,317.1 521.5,318.3 521.8,320.4 522.1,323.0 522.5,326.1 522.8,328.8 523.1,331.7 523.5,334.4 523.8,335.9 524.2,337.7 524.6,340.5 524.9,344.4 525.3,346.7 525.6,348.8 526.0,351.7 526.3,354.0 526.7,357.3 527.0,359.6 527.3,362.2 527.6,365.3 528.0,368.3 528.3,370.5 528.6,373.2 528.8,375.6 529.1,377.7 529.4,380.6 529.7,383.6 530.0,386.5 530.2,387.9 530.4,389.6 530.7,392.8 530.9,396.3 531.0,398.9 531.2,400.7 531.4,404.1 531.5,406.5 531.6,407.9 531.8,410.1 531.9,412.7 532.0,416.3 532.1,418.8 532.2,421.6 532.3,425.2 532.5,428.2 532.6,430.7 532.7,432.4 532.8,434.9 532.9,438.0 533.0,440.7 533.1,442.5 533.2,445.3 533.3,447.5 533.4,449.5 533.5,453.5 533.6,456.1 533.7,457.7 533.8,460.9 533.9,463.6 534.0,465.1 534.2,467.1 534.4,470.1 534.7,473.1 535.0,472.2 535.2,469.3 535.4,466.8 535.5,464.9 535.6,461.7 535.7,459.4 535.8,457.2 535.9,453.9 536.0,450.5 536.1,448.0 536.2,446.3 536.3,443.7 536.4,440.1 536.5,437.4 536.7,435.2 536.8,432.2 536.9,429.9 537.0,426.9 537.1,424.9 537.3,422.3 537.4,418.7 537.5,416.8 537.7,414.4 537.8,412.3 537.9,409.9 538.1,406.8 538.2,404.8 538.3,401.6 538.5,399.0 538.6,397.0 538.8,393.9 538.9,391.9 539.1,388.5 539.3,386.0 539.4,383.3 539.6,380.9 539.8,378.1 540.0,374.5 540.2,372.5 540.4,371.1 540.6,368.0 540.9,365.0 541.1,362.9 541.3,359.8 541.6,357.2 541.8,354.2 542.1,351.6 542.3,350.1 542.6,347.3 542.8,343.9 543.1,340.9 543.4,339.1 543.6,337.0 543.9,334.8 544.2,332.6 544.5,328.8 544.8,326.6 545.1,325.1 545.4,322.4 545.7,319.7 546.0,316.9 546.2,314.2 546.5,311.5 546.8,308.8 547.1,305.5 547.4,302.3 547.7,300.5 548.2,298.6 549.0,295.0 549.7,297.5 550.2,300.8 550.5,303.2 550.8,306.0 551.0,309.1 551.3,311.1 551.5,313.7 551.7,316.4 552.0,318.6 552.2,321.1 552.4,324.3 552.7,326.8 552.9,329.5 553.1,331.8 553.3,334.1 553.5,337.5 553.8,340.1 554.0,341.9 554.2,343.6 554.4,346.4 554.6,349.5 554.8,352.6 554.9,355.7 555.1,358.5 555.3,360.5 555.5,362.4 555.7,365.2 555.8,368.3 556.0,370.0 556.2,372.0 556.4,374.6 556.6,377.4 556.8,380.2 557.1,383.8 557.3,386.1 557.5,388.8 557.7,391.3 558.2,392.9 558.6,396.6 559.0,398.2 559.4,394.5 559.8,392.0 560.2,389.3 560.3,387.2 560.4,384.7 560.6,381.8 560.7,378.9 560.9,377.2 561.0,374.5 561.1,371.3 561.2,369.5 561.3,367.8 561.4,365.3 561.6,362.5 561.7,359.9 561.8,357.5 561.9,355.1 562.0,351.4 562.1,347.8 562.2,346.0 562.3,343.9 562.5,341.2 562.6,339.0 562.7,335.8 562.8,333.3 563.0,330.9 563.1,327.9 563.2,325.1 563.4,322.3 563.5,320.2 563.7,318.0 563.8,315.9 563.9,312.8 564.0,310.0 564.2,307.0 564.3,304.5 564.4,301.9 564.6,299.7 564.7,298.2 564.9,294.6 565.0,292.0 565.2,289.2 565.4,286.0 565.6,283.2 565.9,280.8 566.1,278.2 566.4,276.1 566.6,274.1 566.9,271.1 567.2,268.7 567.4,265.8 567.7,262.7 568.0,260.3 568.3,257.2 568.6,255.6 569.0,252.9 569.3,249.3 569.7,247.8 570.2,246.2 570.6,243.1 571.1,240.0 571.9,237.0 572.6,234.0 573.4,232.1 574.3,229.9 575.5,227.1 576.6,225.9 578.0,223.2 579.5,220.5 581.2,219.6 583.2,218.4 585.3,215.9 587.8,215.3 590.3,215.3 592.8,214.7 595.4,215.4 598.0,215.6 600.6,215.2 603.2,215.5 605.8,215.6 608.4,215.5 611.0,216.2 613.6,216.4 616.2,215.8 618.8,214.9 621.0,215.6" fill="none" stroke="#ff0000" stroke-width="11" stroke-linejoin="round" shape-rendering="auto"/><polyline points="261.0,255.5 262.9,254.5 264.7,253.9 266.6,252.7 268.5,249.0 270.3,245.4 272.2,243.5 274.1,241.7 275.9,241.9 277.8,239.4 279.7,237.3 281.6,235.5 283.4,233.1 285.3,232.0 287.1,232.0 289.0,230.5 291.0,226.2 293.1,223.8 295.2,222.6 297.4,223.3 299.6,223.8 301.9,221.4 304.4,220.8 306.9,220.9 309.1,222.5 310.8,224.5 312.5,225.4 314.3,227.5 316.4,229.3 318.6,230.6 320.9,231.9 323.2,232.6 325.5,233.4 327.9,234.5 330.3,235.5 332.6,236.1 335.0,238.0 337.4,240.0 339.7,241.4 342.1,242.2 344.4,242.7 346.8,243.8 349.3,244.1 351.7,244.9 354.2,246.0 356.8,245.7 359.4,245.7 362.0,246.5 364.6,246.5 367.2,246.4 369.8,246.8 372.3,246.4 374.9,245.4 377.5,245.1 380.0,244.7 382.6,243.8 385.1,243.1 387.6,242.7 390.1,241.9 392.7,241.8 395.2,242.3 397.7,241.2 400.2,240.2 402.7,240.2 405.1,238.1 407.5,236.1 409.7,236.0 412.0,235.5 414.0,233.7 416.1,231.1 418.1,229.3 420.2,228.7 422.3,227.8 424.4,226.2 426.6,223.7 428.7,222.5 430.9,221.2 433.1,219.8 435.4,218.0 437.8,217.6 440.3,217.2 442.8,216.3 445.3,215.2 447.9,214.8 450.5,215.1 453.1,215.0 455.7,214.8 458.3,215.3 460.8,215.6 463.4,215.7 465.9,216.1 468.3,217.6 470.8,218.2 473.2,218.5 475.7,219.2 478.2,220.7 480.6,222.2 483.1,222.9 485.6,222.9 487.9,223.9 490.3,225.4 492.5,226.3 494.6,227.4 496.2,230.8 497.6,232.9 498.5,234.5 499.3,237.1 499.9,240.1 500.5,242.3 501.1,244.8 501.5,247.7 501.9,250.8 502.3,252.7 502.6,254.7 502.8,258.0 503.1,261.6 503.4,264.0 503.6,266.0 503.9,268.8 504.7,270.9 505.6,269.1 506.4,267.0 506.9,265.8 507.4,263.5 507.8,259.9 508.3,257.4 508.8,255.7 509.2,252.4 509.7,249.6 510.2,247.1 511.0,244.1 511.9,243.0 512.8,245.4 513.2,248.1 513.6,250.3 514.0,253.1 514.3,255.6 514.6,258.9 514.9,262.1 515.3,263.5 515.6,266.5 515.9,269.2 516.2,271.5 516.4,274.5 516.7,276.9 516.9,279.1 517.2,281.9 517.4,284.2 517.7,287.5 518.0,289.9 518.3,292.6 518.6,295.1 518.9,297.1 519.2,299.9 519.5,302.0 519.8,304.3 520.1,307.4 520.5,310.4 520.8,313.8 521.1,317.1 521.5,318.3 521.8,320.4 522.1,323.0 522.5,326.1 522.8,328.8 523.1,331.7 523.5,334.4 523.8,335.9 524.2,337.7 524.6,340.5 524.9,344.4 525.3,346.7 525.6,348.8 526.0,351.7 526.3,354.0 526.7,357.3 527.0,359.6 527.3,362.2 527.6,365.3 528.0,368.3 528.3,370.5 528.6,373.2 528.8,375.6 529.1,377.7 529.4,380.6 529.7,383.6 530.0,386.5 530.2,387.9 530.4,389.6 530.7,392.8 530.9,396.3 531.0,398.9 531.2,400.7 531.4,404.1 531.5,406.5 531.6,407.9 531.8,410.1 531.9,412.7 532.0,416.3 532.1,418.8 532.2,421.6 532.3,425.2 532.5,428.2 532.6,430.7 532.7,432.4 532.8,434.9 532.9,438.0 533.0,440.7 533.1,442.5 533.2,445.3 533.3,447.5 533.4,449.5 533.5,453.5 533.6,456.1 533.7,457.7 533.8,460.9 533.9,463.6 534.0,465.1 534.2,467.1 534.4,470.1 534.7,473.1 535.0,472.2 535.2,469.3 535.4,466.8 535.5,464.9 535.6,461.7 535.7,459.4 535.8,457.2 535.9,453.9 536.0,450.5 536.1,448.0 536.2,446.3 536.3,443.7 536.4,440.1 536.5,437.4 536.7,435.2 536.8,432.2 536.9,429.9 537.0,426.9 537.1,424.9 537.3,422.3 537.4,418.7 537.5,416.8 537.7,414.4 537.8,412.3 537.9,409.9 538.1,406.8 538.2,404.8 538.3,401.6 538.5,399.0 538.6,397.0 538.8,393.9 538.9,391.9 539.1,388.5 539.3,386.0 539.4,383.3 539.6,380.9 539.8,378.1 540.0,374.5 540.2,372.5 540.4,371.1 540.6,368.0 540.9,365.0 541.1,362.9 541.3,359.8 541.6,357.2 541.8,354.2 542.1,351.6 542.3,350.1 542.6,347.3 542.8,343.9 543.1,340.9 543.4,339.1 543.6,337.0 543.9,334.8 544.2,332.6 544.5,328.8 544.8,326.6 545.1,325.1 545.4,322.4 545.7,319.7 546.0,316.9 546.2,314.2 546.5,311.5 546.8,308.8 547.1,305.5 547.4,302.3 547.7,300.5 548.2,298.6 549.0,295.0 549.7,297.5 550.2,300.8 550.5,303.2 550.8,306.0 551.0,309.1 551.3,311.1 551.5,313.7 551.7,316.4 552.0,318.6 552.2,321.1 552.4,324.3 552.7,326.8 552.9,329.5 553.1,331.8 553.3,334.1 553.5,337.5 553.8,340.1 554.0,341.9 554.2,343.6 554.4,346.4 554.6,349.5 554.8,352.6 554.9,355.7 555.1,358.5 555.3,360.5 555.5,362.4 555.7,365.2 555.8,368.3 556.0,370.0 556.2,372.0 556.4,374.6 556.6,377.4 556.8,380.2 557.1,383.8 557.3,386.1 557.5,388.8 557.7,391.3 558.2,392.9 558.6,396.6 559.0,398.2 559.4,394.5 559.8,392.0 560.2,389.3 560.3,387.2 560.4,384.7 560.6,381.8 560.7,378.9 560.9,377.2 561.0,374.5 561.1,371.3 561.2,369.5 561.3,367.8 561.4,365.3 561.6,362.5 561.7,359.9 561.8,357.5 561.9,355.1 562.0,351.4 562.1,347.8 562.2,346.0 562.3,343.9 562.5,341.2 562.6,339.0 562.7,335.8 562.8,333.3 563.0,330.9 563.1,327.9 563.2,325.1 563.4,322.3 563.5,320.2 563.7,318.0 563.8,315.9 563.9,312.8 564.0,310.0 564.2,307.0 564.3,304.5 564.4,301.9 564.6,299.7 564.7,298.2 564.9,294.6 565.0,292.0 565.2,289.2 565.4,286.0 565.6,283.2 565.9,280.8 566.1,278.2 566.4,276.1 566.6,274.1 566.9,271.1 567.2,268.7 567.4,265.8 567.7,262.7 568.0,260.3 568.3,257.2 568.6,255.6 569.0,252.9 569.3,249.3 569.7,247.8 570.2,246.2 570.6,243.1 571.1,240.0 571.9,237.0 572.6,234.0 573.4,232.1 574.3,229.9 575.5,227.1 576.6,225.9 578.0,223.2 579.5,220.5 581.2,219.6 583.2,218.4 585.3,215.9 587.8,215.3 590.3,215.3 592.8,214.7 595.4,215.4 598.0,215.6 600.6,215.2 603.2,215.5 605.8,215.6 608.4,215.5 611.0,216.2 613.6,216.4 616.2,215.8 618.8,214.9 621.0,215.6" fill="none" stroke="#ff0000" stroke-width="12" stroke-linejoin="round" shape-rendering="crispEdges"/></g>
<g clip-path="url(#cr)"><polyline points="635.0,209.2 637.6,209.8 640.2,210.7 642.7,211.4 645.3,211.2 647.9,210.9 650.4,211.9 653.0,212.6 655.6,212.5 658.2,212.9 660.8,213.3 663.3,213.7 665.9,213.4 668.5,213.0 671.1,214.0 673.7,214.0 676.3,213.3 678.9,213.8 681.5,214.1 684.1,213.2 686.7,213.2 689.3,213.8 691.9,213.3 694.5,213.5 697.1,213.5 699.7,213.5 702.3,213.6 704.9,213.8 707.5,215.2 710.0,215.6 712.6,216.0 715.2,216.2 717.8,216.2 720.4,216.9 723.0,217.2 725.6,216.6 728.1,216.9 730.7,217.7 733.3,217.4 735.9,217.1 738.5,218.2 741.1,218.7 743.7,218.0 746.3,218.1 748.9,218.1 751.5,218.4 754.1,218.6 756.7,217.7 759.3,217.9 761.9,217.5 764.4,216.8 767.0,216.4 769.6,216.8 772.2,216.5 774.8,216.1 777.4,215.7 780.0,215.6 782.6,216.0 785.2,215.8 787.8,215.4 790.3,215.2 792.9,215.0 795.5,215.0 798.1,214.3 800.7,214.1 803.3,214.1 805.9,214.6 808.5,215.3 811.1,214.4 813.7,213.7 816.3,214.8 818.9,215.6 821.4,215.2 824.0,216.0 826.5,217.6 829.0,217.9 831.6,217.9 834.1,218.7 836.6,219.8 839.2,219.9 841.7,219.8 844.2,220.5 846.5,222.1 848.6,224.0 850.5,225.3 852.2,227.2 853.8,228.9 855.4,231.0 856.8,234.3 858.1,236.7 859.4,238.2 860.6,241.0 861.6,243.3 862.6,245.0 863.5,247.1 864.4,249.4 865.2,252.1 866.0,254.6 866.6,258.0 867.2,260.4 867.8,262.3 868.3,265.3 868.7,268.6 869.2,270.7 869.6,273.2 870.1,275.8 870.5,278.2 871.1,281.0 871.6,284.0 872.1,286.6 872.6,288.7 873.2,291.4 873.7,293.7 874.2,295.8 874.7,299.0 875.3,301.6 876.0,304.0 876.7,306.2 877.6,308.9 878.6,311.5 879.6,313.2 881.0,315.8 882.5,318.1 884.2,319.4 886.1,321.0 888.4,321.8 890.9,321.3 892.9,320.4 894.8,318.4 896.6,316.1 898.6,314.8 900.7,313.7 903.0,312.3 905.5,312.3 907.8,313.3 909.7,314.7 911.3,316.9 912.9,318.7 914.3,320.6 915.7,322.8 916.9,325.8 918.1,328.0 919.1,330.4 920.1,332.8 921.0,335.3 921.8,338.2 922.6,340.3 923.3,343.2 924.1,346.0 924.7,348.1 925.3,349.9 925.9,352.3 926.4,355.1 927.0,357.7 927.5,361.0 928.0,364.0 928.5,365.5 929.0,368.0 929.5,371.5 930.0,373.8 930.5,375.4 931.0,378.5 931.4,381.3 931.8,384.1 932.2,387.1 932.6,389.5 933.0,392.1 933.4,393.7 933.8,396.3 934.3,399.0 934.7,400.9 935.1,403.6 935.5,406.6 935.9,408.7 936.3,411.2 936.7,414.6 937.1,417.2 937.5,419.5 937.9,421.8 938.3,425.0 938.7,427.4 939.2,429.7 939.8,432.6 940.8,434.2 941.8,433.1 942.6,430.7 943.1,428.3 943.5,426.4 943.9,423.7 944.3,421.1 944.6,417.9 944.9,414.9 945.3,412.2 945.6,410.3 946.0,407.2 946.3,403.8 946.7,402.4 947.1,400.4 947.4,397.6 947.8,395.2 948.2,392.4 948.6,389.8 948.9,387.0 949.3,384.6 949.6,381.5 950.0,378.5 950.4,376.5 950.7,374.3 951.1,371.5 951.5,368.9 951.9,366.9 952.3,364.0 952.7,360.6 953.1,357.6 953.6,355.9 954.0,353.7 954.5,350.6 954.9,348.1 955.4,345.2 955.9,342.4 956.4,339.9 957.0,337.4 957.6,335.7 958.2,333.0 959.0,329.7 959.7,328.0 960.5,325.9 961.3,322.5 962.2,320.3 963.2,318.6 964.4,316.3 965.7,314.1 967.2,311.7 968.9,309.1 970.7,307.8 972.7,306.5 974.7,304.8 976.7,302.6 978.7,300.5 980.6,299.4 982.8,297.9 985.1,296.8 987.7,296.5 990.3,296.4 992.9,296.4 995.5,296.5 998.0,297.4 1000.6,297.6 1003.1,297.4 1005.7,298.2 1008.2,298.6 1010.8,299.7 1013.3,300.4 1015.7,301.3 1018.2,302.3 1020.7,302.1 1023.3,302.9 1025.9,303.5 1028.4,303.4 1030.9,302.7 1033.2,301.3 1035.4,300.3 1037.5,298.4 1039.6,296.9 1041.8,295.1 1043.9,293.4 1046.0,291.8 1048.0,289.9 1050.1,288.9 1052.1,288.2 1054.2,286.1 1056.2,284.0 1058.2,282.5 1060.2,281.1 1062.3,279.3 1064.3,277.5 1066.4,276.5 1068.4,275.1 1070.5,272.9 1072.5,271.7 1074.6,270.9 1076.8,268.9 1079.1,266.7 1081.5,265.7 1084.1,266.1 1086.6,265.5 1089.2,265.0 1091.5,266.9 1093.4,268.4 1094.7,270.9 1096.0,273.1 1097.1,275.0 1098.4,277.7 1099.8,279.5 1101.2,282.0 1102.7,284.4 1104.2,286.6 1105.8,288.9 1107.8,289.7 1110.2,290.6 1112.6,290.4 1114.6,288.0 1116.4,286.0 1118.1,283.9 1119.6,281.8 1121.0,280.3 1122.1,277.7 1123.2,275.1 1124.0,272.3 1124.8,270.3 1125.5,268.3 1126.1,265.7 1126.7,262.5 1127.3,260.0 1128.0,257.4 1128.8,254.8 1129.5,252.4 1130.3,250.4 1131.1,247.7 1131.9,244.8 1132.8,242.7 1133.7,240.2 1134.6,237.3 1135.7,235.4 1136.9,234.0 1138.3,231.4 1139.8,229.3 1141.4,227.1 1143.1,224.5 1144.9,222.8 1146.8,221.8 1148.6,220.3 1150.6,218.1 1152.7,215.8 1155.1,214.7 1157.6,214.6 1160.2,214.7 1162.6,216.1 1164.9,217.4 1167.3,218.2 1169.7,219.5 1172.2,220.9 1174.8,221.7 1177.4,222.0 1179.9,221.7 1182.4,221.7 1184.5,223.9 1186.3,225.8 1187.9,227.2 1189.5,229.8 1191.2,232.0 1193.0,234.0 1195.0,235.8 1197.1,237.4 1199.3,237.9 1201.8,238.8 1204.4,238.7 1206.7,237.4 1209.0,235.8 1211.5,234.6 1213.9,235.3 1216.0,236.7 1218.5,238.0 1221.1,237.6 1223.7,236.4 1226.1,236.2 1228.5,235.0 1230.6,233.1 1232.6,231.5 1234.4,229.6 1236.2,227.4 1238.0,226.2 1239.8,225.0 1241.8,222.9 1244.1,222.0 1246.6,221.4 1249.1,220.2 1251.7,220.3 1254.2,219.4 1256.5,218.3 1258.8,217.6 1261.1,215.4 1263.4,214.4 1265.8,213.9 1268.4,213.2 1271.0,213.8 1273.6,213.9 1276.1,213.8 1278.4,214.5 1280.4,217.0 1282.0,219.3 1283.7,221.2 1285.7,223.0 1288.0,223.6 1290.2,222.6 1292.1,220.8 1293.9,218.4 1295.9,216.8 1298.1,215.2 1300.5,213.3 1303.0,213.0 1305.6,212.7 1307.9,214.2 1309.9,216.0 1311.5,217.5 1312.8,219.7 1314.0,221.9 1314.8,224.7 1315.6,227.7 1316.2,229.5 1316.7,231.7 1317.1,234.5 1317.6,237.8 1317.9,240.5 1318.2,242.5 1318.6,245.7 1318.9,248.1 1319.3,250.1 1319.7,252.7 1320.1,255.1 1320.5,258.1 1320.9,260.6 1321.2,263.0 1321.6,265.9 1321.9,268.8 1322.4,271.5 1322.8,273.7 1323.4,276.6 1324.2,279.5 1325.2,281.9 1326.6,283.8 1328.5,285.0 1330.9,285.5 1333.5,286.3 1336.1,286.1 1338.6,285.4 1340.8,283.9 1342.7,281.7 1344.4,279.4 1346.1,277.9 1348.0,276.3 1350.0,274.5 1352.3,273.6 1354.6,272.8 1357.0,272.1 1359.4,271.0 1362.0,269.8 1364.6,269.9 1367.2,269.2 1369.7,268.1 1372.0,267.9 1374.2,267.0 1376.3,265.0 1378.3,263.5 1380.4,261.4 1382.6,259.1 1384.9,258.2 1387.4,258.4 1389.9,258.2 1392.4,258.4 1394.8,260.0 1397.0,261.1 1399.2,262.9 1401.5,264.0 1403.8,264.4 1406.1,266.7 1408.4,267.7 1410.6,268.3 1412.8,270.1 1415.0,272.3 1417.1,273.6 1419.1,275.0 1420.9,277.4 1422.6,279.3 1424.3,281.4 1425.9,282.7 1427.6,284.4 1429.5,286.1 1431.8,287.8 1434.3,287.2 1436.3,284.9 1438.1,283.5 1439.9,282.2 1441.6,279.6 1443.1,277.7 1444.5,275.5 1446.0,273.0 1447.4,270.8 1449.0,269.3 1450.8,267.9 1452.7,266.2 1454.7,264.2 1456.7,262.2 1458.8,261.1 1460.8,259.7 1462.7,258.0 1464.5,255.8 1465.9,253.7 1467.3,251.6 1468.3,249.1 1469.3,246.6 1470.4,244.3 1471.6,241.9 1472.9,239.4 1474.6,237.4 1476.4,235.3 1478.4,233.9 1480.9,233.7 1483.1,234.7 1484.9,236.9 1486.4,239.2 1487.8,241.1 1488.8,243.8 1489.8,246.5 1490.6,248.6 1491.4,250.9 1492.1,253.1 1492.8,255.5 1493.6,258.7 1494.8,261.0 1496.1,263.3 1498.0,264.6 1500.3,265.3 1502.8,266.0 1505.4,265.9 1507.8,265.4 1510.2,265.0 1512.7,264.4 1515.2,264.6 1517.6,265.4 1519.8,266.6 1522.0,267.8 1524.4,269.0 1526.8,269.9 1529.3,271.0 1531.8,271.7 1534.4,271.4 1536.9,270.9 1539.2,269.7 1541.4,268.4 1543.6,267.2 1545.7,265.6 1547.9,264.0 1550.0,262.5 1552.1,261.2 1554.2,259.9 1556.3,258.1 1558.4,256.6 1560.6,254.9 1562.8,253.8 1565.3,253.1 1567.7,252.1 1570.3,251.1 1572.8,250.9 1575.4,250.7 1578.0,250.2 1580.6,250.5 1583.2,250.3 1585.8,250.5 1588.4,250.8 1590.9,251.4 1593.5,251.7 1596.1,251.7 1598.6,252.5 1601.1,253.4 1603.6,254.3 1606.1,254.9 1608.6,255.3 1611.2,255.6 1613.8,255.9 1616.4,255.6 1618.9,255.4 1621.5,255.3 1624.0,254.7 1626.5,253.4 1628.8,252.3 1631.1,250.8 1633.3,249.5 1635.6,248.7 1638.0,247.5 1640.6,247.0 1643.2,247.3 1645.8,247.0 1648.3,247.0 1650.9,247.9 1653.2,248.8 1655.4,250.0 1657.3,252.1 1659.1,254.1 1660.9,255.7 1662.7,257.3 1664.6,259.4 1666.4,261.7 1668.3,263.2 1670.3,264.7 1672.7,265.9 1675.3,265.5 1677.7,264.5 1680.0,263.7 1682.3,262.2 1684.7,261.0 1687.0,260.0 1689.2,258.4 1691.5,257.2 1693.8,256.0 1696.2,255.0 1698.7,254.1 1701.2,253.6 1703.8,253.7 1706.4,253.4 1708.9,253.1 1711.5,252.0 1714.0,251.4 1716.4,250.4 1718.8,249.4 1721.1,248.3 1723.4,247.1 1725.7,245.8 1728.0,244.8 1730.3,243.5 1732.5,242.1 1734.7,240.4 1736.9,239.0 1739.1,237.6 1741.4,236.3 1743.8,235.4 1746.3,234.8 1748.8,234.4 1751.4,233.8 1754.0,234.1 1756.6,234.1 1759.1,234.3 1761.7,234.9 1764.1,235.5 1766.5,236.7 1768.7,238.5 1770.8,239.9 1772.7,241.6 1774.5,243.8 1776.3,245.8 1778.2,247.6 1780.4,248.6 1782.7,249.8 1785.3,250.3 1787.9,249.7 1790.4,249.1 1792.7,248.3 1795.0,247.2 1797.2,245.9 1799.5,244.4 1801.7,243.0 1804.0,241.8 1806.3,240.9 1808.5,239.7 1810.8,238.4 1813.2,237.3 1815.7,236.2 1818.3,235.8 1820.9,235.8 1823.5,236.4 1826.1,236.5 1828.7,236.6 1831.3,236.9 1833.9,236.4 1836.4,236.0 1838.8,235.2 1840.9,234.1 1842.9,232.6 1844.9,230.6 1846.9,228.6 1848.8,226.7 1850.5,224.8 1852.3,223.1 1854.2,221.7 1856.4,220.0 1858.7,218.3 1861.2,217.8 1863.7,217.4 1866.3,216.8 1868.8,216.2 1871.4,216.3 1874.0,216.2 1876.6,216.5 1879.2,217.0 1881.8,217.1 1884.4,217.8 1886.8,218.6 1889.2,219.6 1891.4,220.7 1893.6,221.6 1895.8,223.1 1898.1,224.6 1900.5,225.9 1902.9,226.6 1905.3,227.7 1907.7,228.7 1910.1,229.8 1912.6,230.8 1915.1,231.5 1917.7,231.4 1920.2,231.4 1922.8,231.3 1925.4,231.2 1927.9,230.5 1930.4,229.8 1933.0,229.2 1935.6,229.7 1938.1,230.2 1940.7,230.4 1943.1,231.1 1945.4,232.2 1947.8,233.4 1950.1,234.9 1952.5,236.4 1954.9,237.3 1957.4,237.5 1959.9,238.2 1962.4,239.4 1964.9,239.9 1967.4,240.5 1970.0,240.8 1972.5,241.0 1975.1,241.8 1977.7,241.5 1980.3,240.8 1982.8,240.8 1985.4,240.7 1988.0,239.8 1990.6,239.9 1993.0,240.3 1995.4,241.5 1997.4,243.4 1999.5,244.9 2001.8,246.0 2004.2,246.8 2006.8,246.4 2009.3,245.3 2011.7,244.2 2014.1,243.2 2016.4,242.5 2018.8,241.3 2021.2,240.6 2023.7,239.9 2026.2,238.6 2028.7,238.3 2031.2,238.1 2033.7,237.0 2036.2,236.2 2038.8,235.5 2041.3,234.7 2043.8,234.0 2046.4,234.0 2048.9,233.5 2051.5,232.7 2054.0,232.2 2056.6,231.8 2059.2,231.9 2061.7,231.3 2064.3,230.4 2066.8,229.8 2069.4,229.7 2071.0,229.4" fill="none" stroke="#ff0000" stroke-width="11" stroke-linejoin="round" shape-rendering="auto"/><polyline points="635.0,209.2 637.6,209.8 640.2,210.7 642.7,211.4 645.3,211.2 647.9,210.9 650.4,211.9 653.0,212.6 655.6,212.5 658.2,212.9 660.8,213.3 663.3,213.7 665.9,213.4 668.5,213.0 671.1,214.0 673.7,214.0 676.3,213.3 678.9,213.8 681.5,214.1 684.1,213.2 686.7,213.2 689.3,213.8 691.9,213.3 694.5,213.5 697.1,213.5 699.7,213.5 702.3,213.6 704.9,213.8 707.5,215.2 710.0,215.6 712.6,216.0 715.2,216.2 717.8,216.2 720.4,216.9 723.0,217.2 725.6,216.6 728.1,216.9 730.7,217.7 733.3,217.4 735.9,217.1 738.5,218.2 741.1,218.7 743.7,218.0 746.3,218.1 748.9,218.1 751.5,218.4 754.1,218.6 756.7,217.7 759.3,217.9 761.9,217.5 764.4,216.8 767.0,216.4 769.6,216.8 772.2,216.5 774.8,216.1 777.4,215.7 780.0,215.6 782.6,216.0 785.2,215.8 787.8,215.4 790.3,215.2 792.9,215.0 795.5,215.0 798.1,214.3 800.7,214.1 803.3,214.1 805.9,214.6 808.5,215.3 811.1,214.4 813.7,213.7 816.3,214.8 818.9,215.6 821.4,215.2 824.0,216.0 826.5,217.6 829.0,217.9 831.6,217.9 834.1,218.7 836.6,219.8 839.2,219.9 841.7,219.8 844.2,220.5 846.5,222.1 848.6,224.0 850.5,225.3 852.2,227.2 853.8,228.9 855.4,231.0 856.8,234.3 858.1,236.7 859.4,238.2 860.6,241.0 861.6,243.3 862.6,245.0 863.5,247.1 864.4,249.4 865.2,252.1 866.0,254.6 866.6,258.0 867.2,260.4 867.8,262.3 868.3,265.3 868.7,268.6 869.2,270.7 869.6,273.2 870.1,275.8 870.5,278.2 871.1,281.0 871.6,284.0 872.1,286.6 872.6,288.7 873.2,291.4 873.7,293.7 874.2,295.8 874.7,299.0 875.3,301.6 876.0,304.0 876.7,306.2 877.6,308.9 878.6,311.5 879.6,313.2 881.0,315.8 882.5,318.1 884.2,319.4 886.1,321.0 888.4,321.8 890.9,321.3 892.9,320.4 894.8,318.4 896.6,316.1 898.6,314.8 900.7,313.7 903.0,312.3 905.5,312.3 907.8,313.3 909.7,314.7 911.3,316.9 912.9,318.7 914.3,320.6 915.7,322.8 916.9,325.8 918.1,328.0 919.1,330.4 920.1,332.8 921.0,335.3 921.8,338.2 922.6,340.3 923.3,343.2 924.1,346.0 924.7,348.1 925.3,349.9 925.9,352.3 926.4,355.1 927.0,357.7 927.5,361.0 928.0,364.0 928.5,365.5 929.0,368.0 929.5,371.5 930.0,373.8 930.5,375.4 931.0,378.5 931.4,381.3 931.8,384.1 932.2,387.1 932.6,389.5 933.0,392.1 933.4,393.7 933.8,396.3 934.3,399.0 934.7,400.9 935.1,403.6 935.5,406.6 935.9,408.7 936.3,411.2 936.7,414.6 937.1,417.2 937.5,419.5 937.9,421.8 938.3,425.0 938.7,427.4 939.2,429.7 939.8,432.6 940.8,434.2 941.8,433.1 942.6,430.7 943.1,428.3 943.5,426.4 943.9,423.7 944.3,421.1 944.6,417.9 944.9,414.9 945.3,412.2 945.6,410.3 946.0,407.2 946.3,403.8 946.7,402.4 947.1,400.4 947.4,397.6 947.8,395.2 948.2,392.4 948.6,389.8 948.9,387.0 949.3,384.6 949.6,381.5 950.0,378.5 950.4,376.5 950.7,374.3 951.1,371.5 951.5,368.9 951.9,366.9 952.3,364.0 952.7,360.6 953.1,357.6 953.6,355.9 954.0,353.7 954.5,350.6 954.9,348.1 955.4,345.2 955.9,342.4 956.4,339.9 957.0,337.4 957.6,335.7 958.2,333.0 959.0,329.7 959.7,328.0 960.5,325.9 961.3,322.5 962.2,320.3 963.2,318.6 964.4,316.3 965.7,314.1 967.2,311.7 968.9,309.1 970.7,307.8 972.7,306.5 974.7,304.8 976.7,302.6 978.7,300.5 980.6,299.4 982.8,297.9 985.1,296.8 987.7,296.5 990.3,296.4 992.9,296.4 995.5,296.5 998.0,297.4 1000.6,297.6 1003.1,297.4 1005.7,298.2 1008.2,298.6 1010.8,299.7 1013.3,300.4 1015.7,301.3 1018.2,302.3 1020.7,302.1 1023.3,302.9 1025.9,303.5 1028.4,303.4 1030.9,302.7 1033.2,301.3 1035.4,300.3 1037.5,298.4 1039.6,296.9 1041.8,295.1 1043.9,293.4 1046.0,291.8 1048.0,289.9 1050.1,288.9 1052.1,288.2 1054.2,286.1 1056.2,284.0 1058.2,282.5 1060.2,281.1 1062.3,279.3 1064.3,277.5 1066.4,276.5 1068.4,275.1 1070.5,272.9 1072.5,271.7 1074.6,270.9 1076.8,268.9 1079.1,266.7 1081.5,265.7 1084.1,266.1 1086.6,265.5 1089.2,265.0 1091.5,266.9 1093.4,268.4 1094.7,270.9 1096.0,273.1 1097.1,275.0 1098.4,277.7 1099.8,279.5 1101.2,282.0 1102.7,284.4 1104.2,286.6 1105.8,288.9 1107.8,289.7 1110.2,290.6 1112.6,290.4 1114.6,288.0 1116.4,286.0 1118.1,283.9 1119.6,281.8 1121.0,280.3 1122.1,277.7 1123.2,275.1 1124.0,272.3 1124.8,270.3 1125.5,268.3 1126.1,265.7 1126.7,262.5 1127.3,260.0 1128.0,257.4 1128.8,254.8 1129.5,252.4 1130.3,250.4 1131.1,247.7 1131.9,244.8 1132.8,242.7 1133.7,240.2 1134.6,237.3 1135.7,235.4 1136.9,234.0 1138.3,231.4 1139.8,229.3 1141.4,227.1 1143.1,224.5 1144.9,222.8 1146.8,221.8 1148.6,220.3 1150.6,218.1 1152.7,215.8 1155.1,214.7 1157.6,214.6 1160.2,214.7 1162.6,216.1 1164.9,217.4 1167.3,218.2 1169.7,219.5 1172.2,220.9 1174.8,221.7 1177.4,222.0 1179.9,221.7 1182.4,221.7 1184.5,223.9 1186.3,225.8 1187.9,227.2 1189.5,229.8 1191.2,232.0 1193.0,234.0 1195.0,235.8 1197.1,237.4 1199.3,237.9 1201.8,238.8 1204.4,238.7 1206.7,237.4 1209.0,235.8 1211.5,234.6 1213.9,235.3 1216.0,236.7 1218.5,238.0 1221.1,237.6 1223.7,236.4 1226.1,236.2 1228.5,235.0 1230.6,233.1 1232.6,231.5 1234.4,229.6 1236.2,227.4 1238.0,226.2 1239.8,225.0 1241.8,222.9 1244.1,222.0 1246.6,221.4 1249.1,220.2 1251.7,220.3 1254.2,219.4 1256.5,218.3 1258.8,217.6 1261.1,215.4 1263.4,214.4 1265.8,213.9 1268.4,213.2 1271.0,213.8 1273.6,213.9 1276.1,213.8 1278.4,214.5 1280.4,217.0 1282.0,219.3 1283.7,221.2 1285.7,223.0 1288.0,223.6 1290.2,222.6 1292.1,220.8 1293.9,218.4 1295.9,216.8 1298.1,215.2 1300.5,213.3 1303.0,213.0 1305.6,212.7 1307.9,214.2 1309.9,216.0 1311.5,217.5 1312.8,219.7 1314.0,221.9 1314.8,224.7 1315.6,227.7 1316.2,229.5 1316.7,231.7 1317.1,234.5 1317.6,237.8 1317.9,240.5 1318.2,242.5 1318.6,245.7 1318.9,248.1 1319.3,250.1 1319.7,252.7 1320.1,255.1 1320.5,258.1 1320.9,260.6 1321.2,263.0 1321.6,265.9 1321.9,268.8 1322.4,271.5 1322.8,273.7 1323.4,276.6 1324.2,279.5 1325.2,281.9 1326.6,283.8 1328.5,285.0 1330.9,285.5 1333.5,286.3 1336.1,286.1 1338.6,285.4 1340.8,283.9 1342.7,281.7 1344.4,279.4 1346.1,277.9 1348.0,276.3 1350.0,274.5 1352.3,273.6 1354.6,272.8 1357.0,272.1 1359.4,271.0 1362.0,269.8 1364.6,269.9 1367.2,269.2 1369.7,268.1 1372.0,267.9 1374.2,267.0 1376.3,265.0 1378.3,263.5 1380.4,261.4 1382.6,259.1 1384.9,258.2 1387.4,258.4 1389.9,258.2 1392.4,258.4 1394.8,260.0 1397.0,261.1 1399.2,262.9 1401.5,264.0 1403.8,264.4 1406.1,266.7 1408.4,267.7 1410.6,268.3 1412.8,270.1 1415.0,272.3 1417.1,273.6 1419.1,275.0 1420.9,277.4 1422.6,279.3 1424.3,281.4 1425.9,282.7 1427.6,284.4 1429.5,286.1 1431.8,287.8 1434.3,287.2 1436.3,284.9 1438.1,283.5 1439.9,282.2 1441.6,279.6 1443.1,277.7 1444.5,275.5 1446.0,273.0 1447.4,270.8 1449.0,269.3 1450.8,267.9 1452.7,266.2 1454.7,264.2 1456.7,262.2 1458.8,261.1 1460.8,259.7 1462.7,258.0 1464.5,255.8 1465.9,253.7 1467.3,251.6 1468.3,249.1 1469.3,246.6 1470.4,244.3 1471.6,241.9 1472.9,239.4 1474.6,237.4 1476.4,235.3 1478.4,233.9 1480.9,233.7 1483.1,234.7 1484.9,236.9 1486.4,239.2 1487.8,241.1 1488.8,243.8 1489.8,246.5 1490.6,248.6 1491.4,250.9 1492.1,253.1 1492.8,255.5 1493.6,258.7 1494.8,261.0 1496.1,263.3 1498.0,264.6 1500.3,265.3 1502.8,266.0 1505.4,265.9 1507.8,265.4 1510.2,265.0 1512.7,264.4 1515.2,264.6 1517.6,265.4 1519.8,266.6 1522.0,267.8 1524.4,269.0 1526.8,269.9 1529.3,271.0 1531.8,271.7 1534.4,271.4 1536.9,270.9 1539.2,269.7 1541.4,268.4 1543.6,267.2 1545.7,265.6 1547.9,264.0 1550.0,262.5 1552.1,261.2 1554.2,259.9 1556.3,258.1 1558.4,256.6 1560.6,254.9 1562.8,253.8 1565.3,253.1 1567.7,252.1 1570.3,251.1 1572.8,250.9 1575.4,250.7 1578.0,250.2 1580.6,250.5 1583.2,250.3 1585.8,250.5 1588.4,250.8 1590.9,251.4 1593.5,251.7 1596.1,251.7 1598.6,252.5 1601.1,253.4 1603.6,254.3 1606.1,254.9 1608.6,255.3 1611.2,255.6 1613.8,255.9 1616.4,255.6 1618.9,255.4 1621.5,255.3 1624.0,254.7 1626.5,253.4 1628.8,252.3 1631.1,250.8 1633.3,249.5 1635.6,248.7 1638.0,247.5 1640.6,247.0 1643.2,247.3 1645.8,247.0 1648.3,247.0 1650.9,247.9 1653.2,248.8 1655.4,250.0 1657.3,252.1 1659.1,254.1 1660.9,255.7 1662.7,257.3 1664.6,259.4 1666.4,261.7 1668.3,263.2 1670.3,264.7 1672.7,265.9 1675.3,265.5 1677.7,264.5 1680.0,263.7 1682.3,262.2 1684.7,261.0 1687.0,260.0 1689.2,258.4 1691.5,257.2 1693.8,256.0 1696.2,255.0 1698.7,254.1 1701.2,253.6 1703.8,253.7 1706.4,253.4 1708.9,253.1 1711.5,252.0 1714.0,251.4 1716.4,250.4 1718.8,249.4 1721.1,248.3 1723.4,247.1 1725.7,245.8 1728.0,244.8 1730.3,243.5 1732.5,242.1 1734.7,240.4 1736.9,239.0 1739.1,237.6 1741.4,236.3 1743.8,235.4 1746.3,234.8 1748.8,234.4 1751.4,233.8 1754.0,234.1 1756.6,234.1 1759.1,234.3 1761.7,234.9 1764.1,235.5 1766.5,236.7 1768.7,238.5 1770.8,239.9 1772.7,241.6 1774.5,243.8 1776.3,245.8 1778.2,247.6 1780.4,248.6 1782.7,249.8 1785.3,250.3 1787.9,249.7 1790.4,249.1 1792.7,248.3 1795.0,247.2 1797.2,245.9 1799.5,244.4 1801.7,243.0 1804.0,241.8 1806.3,240.9 1808.5,239.7 1810.8,238.4 1813.2,237.3 1815.7,236.2 1818.3,235.8 1820.9,235.8 1823.5,236.4 1826.1,236.5 1828.7,236.6 1831.3,236.9 1833.9,236.4 1836.4,236.0 1838.8,235.2 1840.9,234.1 1842.9,232.6 1844.9,230.6 1846.9,228.6 1848.8,226.7 1850.5,224.8 1852.3,223.1 1854.2,221.7 1856.4,220.0 1858.7,218.3 1861.2,217.8 1863.7,217.4 1866.3,216.8 1868.8,216.2 1871.4,216.3 1874.0,216.2 1876.6,216.5 1879.2,217.0 1881.8,217.1 1884.4,217.8 1886.8,218.6 1889.2,219.6 1891.4,220.7 1893.6,221.6 1895.8,223.1 1898.1,224.6 1900.5,225.9 1902.9,226.6 1905.3,227.7 1907.7,228.7 1910.1,229.8 1912.6,230.8 1915.1,231.5 1917.7,231.4 1920.2,231.4 1922.8,231.3 1925.4,231.2 1927.9,230.5 1930.4,229.8 1933.0,229.2 1935.6,229.7 1938.1,230.2 1940.7,230.4 1943.1,231.1 1945.4,232.2 1947.8,233.4 1950.1,234.9 1952.5,236.4 1954.9,237.3 1957.4,237.5 1959.9,238.2 1962.4,239.4 1964.9,239.9 1967.4,240.5 1970.0,240.8 1972.5,241.0 1975.1,241.8 1977.7,241.5 1980.3,240.8 1982.8,240.8 1985.4,240.7 1988.0,239.8 1990.6,239.9 1993.0,240.3 1995.4,241.5 1997.4,243.4 1999.5,244.9 2001.8,246.0 2004.2,246.8 2006.8,246.4 2009.3,245.3 2011.7,244.2 2014.1,243.2 2016.4,242.5 2018.8,241.3 2021.2,240.6 2023.7,239.9 2026.2,238.6 2028.7,238.3 2031.2,238.1 2033.7,237.0 2036.2,236.2 2038.8,235.5 2041.3,234.7 2043.8,234.0 2046.4,234.0 2048.9,233.5 2051.5,232.7 2054.0,232.2 2056.6,231.8 2059.2,231.9 2061.7,231.3 2064.3,230.4 2066.8,229.8 2069.4,229.7 2071.0,229.4" fill="none" stroke="#ff0000" stroke-width="12" stroke-linejoin="round" shape-rendering="crispEdges"/></g>
<g clip-path="url(#cl)"><polyline points="261.0,417.3 263.2,416.5 265.4,417.6 267.6,419.1 269.8,421.8 272.1,422.0 274.3,423.6 276.5,426.9 278.7,428.4 280.8,431.0 282.9,430.1 284.8,429.8 286.8,433.2 288.7,434.5 290.6,434.9 292.5,436.5 294.4,440.5 296.3,444.3 298.3,445.8 300.2,445.2 302.1,447.4 304.1,449.5 306.2,449.6 308.4,451.0 310.6,452.7 312.9,453.1 315.2,454.7 317.6,456.3 320.0,457.4 322.4,459.5 324.9,460.4 327.3,460.1 329.8,461.4 332.3,463.3 334.9,462.9 337.4,463.5 340.0,462.7 342.6,461.6 345.2,462.2 347.7,464.2 350.3,465.3 352.9,464.9 355.5,463.9 358.1,463.4 360.7,464.5 363.3,463.2 365.9,461.4 368.5,461.0 371.0,461.4 373.6,462.7 376.2,462.3 378.7,461.0 381.3,460.4 383.8,459.3 386.4,459.9 388.9,459.4 391.4,457.4 394.0,456.7 396.5,457.4 399.0,456.6 401.5,456.4 404.1,455.5 406.6,454.1 409.1,452.8 411.6,453.3 414.1,453.9 416.6,452.1 419.0,449.9 421.5,449.2 423.9,448.8 426.4,448.7 428.8,448.8 431.2,447.5 433.6,445.1 435.9,442.7 438.3,443.1 440.7,443.7 443.0,440.8 445.3,438.9 447.6,438.3 449.8,438.1 452.1,435.6 454.3,432.5 456.5,433.0 458.8,432.6 461.1,430.6 463.4,429.8 465.6,428.7 467.9,427.3 470.2,425.3 472.5,422.8 474.8,421.2 477.2,420.7 479.6,421.2 482.1,420.4 484.7,419.3 487.2,419.4 489.8,419.8 492.4,419.7 495.0,418.9 497.4,420.3 499.5,422.6 500.9,425.0 501.7,427.6 502.3,428.1 502.9,430.5 503.5,433.5 504.8,435.2 506.9,434.6 508.4,431.8 509.9,429.3 511.6,429.2 513.6,429.6 514.5,432.2 515.1,435.3 515.7,436.5 516.3,438.4 516.9,441.5 517.5,444.8 518.0,446.7 518.5,448.0 519.0,450.3 519.5,454.6 520.0,458.1 520.4,459.0 520.9,462.1 521.3,465.4 521.8,466.9 522.2,470.3 522.6,472.2 523.1,473.3 523.5,476.3 523.9,480.3 524.4,483.1 524.8,485.2 525.3,488.6 525.8,490.8 526.4,493.2 527.0,494.7 527.6,497.5 528.2,500.1 528.9,502.6 529.7,506.4 530.5,508.8 531.3,510.8 532.3,512.9 533.5,515.6 535.3,515.4 536.8,512.2 537.6,510.3 538.4,508.3 539.1,504.8 539.7,502.5 540.4,500.6 541.0,497.2 541.6,495.4 542.1,494.0 542.6,490.6 543.0,488.4 543.4,487.1 543.8,484.0 544.1,480.3 544.6,476.9 545.0,473.8 545.5,471.3 545.9,470.7 546.4,467.3 546.8,464.9 547.4,463.5 548.0,460.8 549.3,458.1 550.3,460.4 551.0,463.0 551.6,465.7 552.1,469.4 552.7,472.0 553.3,474.0 553.9,477.0 554.5,478.6 555.1,479.8 555.6,483.8 556.2,485.8 556.9,487.7 557.5,490.9 558.7,494.2 559.5,492.5 560.2,489.5 560.6,487.1 560.8,484.3 561.0,481.7 561.2,479.1 561.4,476.8 561.6,474.0 561.8,471.1 562.0,469.7 562.2,468.1 562.5,464.0 562.7,461.6 563.0,458.2 563.4,454.6 563.8,453.9 564.2,450.8 564.6,448.0 565.2,447.1 565.9,444.4 566.6,440.8 567.5,437.1 568.3,434.8 569.3,433.2 570.4,431.6 571.8,429.1 573.4,427.3 575.3,425.4 577.4,423.6 579.7,423.2 582.2,421.2 584.7,421.1 587.2,420.9 589.7,419.5 592.3,420.5 594.9,420.3 597.5,419.5 600.1,418.8 602.7,418.4 605.3,419.9 607.9,420.6 610.5,420.7 613.1,421.2 615.7,421.4 618.3,420.6 620.9,421.3 621.0,421.4" fill="none" stroke="#00ff00" stroke-width="11" stroke-linejoin="round" shape-rendering="auto"/><polyline points="261.0,417.3 263.2,416.5 265.4,417.6 267.6,419.1 269.8,421.8 272.1,422.0 274.3,423.6 276.5,426.9 278.7,428.4 280.8,431.0 282.9,430.1 284.8,429.8 286.8,433.2 288.7,434.5 290.6,434.9 292.5,436.5 294.4,440.5 296.3,444.3 298.3,445.8 300.2,445.2 302.1,447.4 304.1,449.5 306.2,449.6 308.4,451.0 310.6,452.7 312.9,453.1 315.2,454.7 317.6,456.3 320.0,457.4 322.4,459.5 324.9,460.4 327.3,460.1 329.8,461.4 332.3,463.3 334.9,462.9 337.4,463.5 340.0,462.7 342.6,461.6 345.2,462.2 347.7,464.2 350.3,465.3 352.9,464.9 355.5,463.9 358.1,463.4 360.7,464.5 363.3,463.2 365.9,461.4 368.5,461.0 371.0,461.4 373.6,462.7 376.2,462.3 378.7,461.0 381.3,460.4 383.8,459.3 386.4,459.9 388.9,459.4 391.4,457.4 394.0,456.7 396.5,457.4 399.0,456.6 401.5,456.4 404.1,455.5 406.6,454.1 409.1,452.8 411.6,453.3 414.1,453.9 416.6,452.1 419.0,449.9 421.5,449.2 423.9,448.8 426.4,448.7 428.8,448.8 431.2,447.5 433.6,445.1 435.9,442.7 438.3,443.1 440.7,443.7 443.0,440.8 445.3,438.9 447.6,438.3 449.8,438.1 452.1,435.6 454.3,432.5 456.5,433.0 458.8,432.6 461.1,430.6 463.4,429.8 465.6,428.7 467.9,427.3 470.2,425.3 472.5,422.8 474.8,421.2 477.2,420.7 479.6,421.2 482.1,420.4 484.7,419.3 487.2,419.4 489.8,419.8 492.4,419.7 495.0,418.9 497.4,420.3 499.5,422.6 500.9,425.0 501.7,427.6 502.3,428.1 502.9,430.5 503.5,433.5 504.8,435.2 506.9,434.6 508.4,431.8 509.9,429.3 511.6,429.2 513.6,429.6 514.5,432.2 515.1,435.3 515.7,436.5 516.3,438.4 516.9,441.5 517.5,444.8 518.0,446.7 518.5,448.0 519.0,450.3 519.5,454.6 520.0,458.1 520.4,459.0 520.9,462.1 521.3,465.4 521.8,466.9 522.2,470.3 522.6,472.2 523.1,473.3 523.5,476.3 523.9,480.3 524.4,483.1 524.8,485.2 525.3,488.6 525.8,490.8 526.4,493.2 527.0,494.7 527.6,497.5 528.2,500.1 528.9,502.6 529.7,506.4 530.5,508.8 531.3,510.8 532.3,512.9 533.5,515.6 535.3,515.4 536.8,512.2 537.6,510.3 538.4,508.3 539.1,504.8 539.7,502.5 540.4,500.6 541.0,497.2 541.6,495.4 542.1,494.0 542.6,490.6 543.0,488.4 543.4,487.1 543.8,484.0 544.1,480.3 544.6,476.9 545.0,473.8 545.5,471.3 545.9,470.7 546.4,467.3 546.8,464.9 547.4,463.5 548.0,460.8 549.3,458.1 550.3,460.4 551.0,463.0 551.6,465.7 552.1,469.4 552.7,472.0 553.3,474.0 553.9,477.0 554.5,478.6 555.1,479.8 555.6,483.8 556.2,485.8 556.9,487.7 557.5,490.9 558.7,494.2 559.5,492.5 560.2,489.5 560.6,487.1 560.8,484.3 561.0,481.7 561.2,479.1 561.4,476.8 561.6,474.0 561.8,471.1 562.0,469.7 562.2,468.1 562.5,464.0 562.7,461.6 563.0,458.2 563.4,454.6 563.8,453.9 564.2,450.8 564.6,448.0 565.2,447.1 565.9,444.4 566.6,440.8 567.5,437.1 568.3,434.8 569.3,433.2 570.4,431.6 571.8,429.1 573.4,427.3 575.3,425.4 577.4,423.6 579.7,423.2 582.2,421.2 584.7,421.1 587.2,420.9 589.7,419.5 592.3,420.5 594.9,420.3 597.5,419.5 600.1,418.8 602.7,418.4 605.3,419.9 607.9,420.6 610.5,420.7 613.1,421.2 615.7,421.4 618.3,420.6 620.9,421.3 621.0,421.4" fill="none" stroke="#00ff00" stroke-width="12" stroke-linejoin="round" shape-rendering="crispEdges"/></g>
<g clip-path="url(#cr)"><polyline points="635.0,419.7 637.6,419.7 640.2,419.8 642.8,419.7 645.4,419.7 648.0,420.2 650.6,419.7 653.2,419.9 655.8,419.1 658.4,418.6 661.0,419.3 663.6,418.9 666.2,419.9 668.8,420.1 671.4,420.4 674.0,421.8 676.6,420.4 679.2,420.5 681.8,421.6 684.4,421.1 687.0,419.2 689.6,418.9 692.2,420.0 694.8,419.4 697.4,418.4 700.0,418.3 702.6,418.2 705.2,419.2 707.8,419.0 710.4,418.1 712.9,418.7 715.5,419.8 718.1,418.6 720.7,416.8 723.3,418.9 725.9,420.7 728.3,421.1 730.4,421.8 732.4,422.3 734.7,422.6 737.3,422.6 739.8,422.8 742.3,421.3 744.8,421.3 747.2,421.8 749.8,419.6 752.4,419.9 754.9,420.9 757.5,421.4 760.1,421.7 762.6,422.0 765.2,422.4 767.7,422.7 770.3,423.3 772.8,422.4 775.4,422.2 777.9,423.0 780.5,424.0 783.1,424.5 785.7,425.2 788.3,426.1 790.8,426.0 793.4,425.6 796.0,426.4 798.6,428.2 801.1,429.2 803.7,429.0 806.2,429.7 808.7,429.2 811.2,428.5 813.7,429.0 816.1,430.0 818.5,430.8 820.9,433.2 823.2,436.3 825.5,436.1 827.8,437.1 830.1,440.2 832.3,441.6 834.5,441.1 836.6,442.6 838.7,444.1 840.7,444.8 842.6,446.0 844.4,448.9 845.9,453.0 847.4,453.9 848.6,454.7 849.8,457.6 850.9,459.6 852.0,462.3 853.0,466.3 854.0,468.5 854.9,469.4 855.8,470.9 856.7,473.8 857.5,477.8 858.3,481.8 859.0,483.8 859.7,484.4 860.4,486.4 861.1,489.7 861.7,491.8 862.3,493.7 862.9,497.1 863.5,501.3 864.0,503.1 864.6,506.1 865.1,509.9 865.5,511.3 866.0,512.5 866.5,514.5 867.0,518.2 867.4,522.1 867.9,525.1 868.4,526.1 868.8,527.9 869.3,529.9 869.7,532.3 870.2,535.4 870.6,537.5 871.1,539.6 871.5,544.4 872.0,547.1 872.4,548.7 872.9,551.8 873.3,554.3 873.8,557.0 874.2,559.6 874.7,561.9 875.1,563.4 875.6,566.5 876.0,570.3 876.4,573.1 876.9,574.7 877.4,576.8 877.9,580.5 878.4,583.6 879.0,584.3 879.6,586.2 880.2,588.9 880.8,592.4 881.4,595.2 882.0,597.1 882.6,599.2 883.4,601.9 884.2,605.5 885.7,607.9 887.5,605.6 888.6,602.8 889.6,601.3 890.4,597.9 891.2,596.4 891.9,593.4 892.7,590.7 893.4,588.2 894.0,586.7 894.6,585.2 895.1,580.9 895.6,578.1 896.1,577.0 896.6,575.1 897.1,572.1 897.6,569.1 898.2,566.8 898.8,564.9 899.4,561.7 900.0,558.6 900.7,556.8 901.3,553.9 902.0,550.1 902.8,547.9 903.5,545.6 904.4,543.6 905.2,541.9 906.2,540.0 907.1,535.9 908.2,531.7 909.3,531.4 910.4,530.4 911.6,528.4 913.0,526.3 914.5,524.1 916.2,520.4 918.0,517.0 919.9,516.4 922.0,516.1 924.1,513.3 926.3,512.6 928.7,511.7 931.0,511.1 932.7,513.5 934.3,515.5 936.1,516.5 938.4,517.0 941.0,516.4 943.4,515.6 945.6,515.9 947.9,516.0 950.1,514.8 952.1,512.2 954.2,510.8 956.6,509.1 958.8,511.0 960.6,513.2 962.2,513.6 963.8,515.7 965.5,517.8 967.4,520.5 969.7,521.8 972.2,521.0 974.8,521.1 977.3,521.6 979.8,524.3 982.0,526.1 983.4,528.1 984.3,530.8 985.1,532.4 986.2,535.2 987.9,537.2 990.5,536.0 993.1,537.0 995.6,536.9 998.2,536.5 1000.5,537.6 1002.6,539.9 1004.5,540.9 1006.3,540.9 1008.3,542.3 1010.4,544.7 1012.8,547.5 1015.3,548.1 1017.9,548.9 1020.5,548.0 1023.0,548.1 1025.4,546.7 1027.7,545.7 1030.1,545.2 1031.8,546.7 1032.8,549.9 1033.8,553.3 1035.0,554.9 1037.0,555.0 1038.6,551.8 1040.6,550.7 1042.9,550.2 1045.2,548.3 1047.6,548.2 1050.0,546.5 1052.4,545.0 1054.9,544.9 1057.4,543.8 1059.9,543.7 1062.2,545.0 1064.7,544.7 1067.0,543.9 1069.1,542.5 1071.1,539.7 1073.3,539.1 1075.5,539.5 1077.8,538.1 1080.2,535.6 1082.6,534.0 1085.0,534.7 1087.5,533.9 1090.0,532.8 1092.5,531.1 1095.0,531.0 1097.5,532.1 1100.1,530.3 1102.7,528.8 1105.3,529.6 1107.9,531.0 1110.5,531.3 1113.1,529.2 1115.7,527.8 1118.2,529.5 1120.8,529.4 1123.1,528.6 1125.3,527.2 1127.4,525.5 1129.3,523.1 1131.3,521.9 1133.2,520.5 1135.3,516.7 1137.3,514.7 1139.5,513.3 1141.7,512.5 1143.9,513.1 1146.1,512.9 1148.3,511.5 1150.6,508.9 1153.0,507.7 1155.4,507.3 1157.8,506.7 1160.3,506.4 1162.8,505.7 1165.4,504.7 1168.0,503.1 1170.5,501.5 1173.0,500.9 1174.7,499.2 1176.1,497.9 1178.0,495.7 1179.4,496.7 1180.1,500.6 1180.8,502.5 1181.5,503.7 1182.7,505.9 1184.5,507.4 1187.0,507.4 1189.5,508.3 1191.9,507.4 1194.3,505.2 1196.9,505.2 1199.4,505.1 1201.9,503.4 1204.5,502.4 1207.1,503.1 1209.4,504.9 1211.2,506.4 1212.9,508.5 1215.2,510.2 1217.6,510.7 1219.8,509.4 1221.9,506.4 1224.1,504.2 1226.3,502.6 1228.6,501.8 1230.9,502.3 1233.2,502.3 1235.5,499.2 1238.0,497.9 1240.5,498.8 1243.1,499.6 1245.7,499.8 1248.3,499.2 1250.8,497.0 1252.8,494.7 1254.5,494.8 1256.1,494.0 1257.9,492.0 1260.1,489.4 1262.4,490.7 1264.1,493.5 1265.9,494.4 1268.2,494.1 1270.2,492.7 1271.8,491.1 1273.4,487.9 1275.4,485.2 1277.9,487.0 1280.5,487.4 1283.1,486.3 1285.7,487.0 1288.3,487.5 1290.9,488.0 1293.4,488.2 1296.0,486.9 1298.6,486.4 1301.1,487.6 1303.6,489.0 1306.1,491.6 1308.5,492.6 1310.7,492.1 1312.6,494.8 1314.1,497.1 1315.2,498.7 1316.1,501.8 1316.9,504.9 1317.7,506.4 1318.4,508.4 1319.0,510.3 1319.4,514.3 1319.8,518.6 1320.2,520.9 1320.7,521.8 1321.3,524.1 1321.9,527.0 1322.8,528.4 1323.8,530.4 1324.9,534.5 1326.1,537.4 1327.6,539.0 1329.4,539.8 1331.4,541.6 1333.8,544.1 1336.2,542.2 1338.7,540.2 1340.9,543.2 1342.7,544.9 1344.8,545.4 1347.2,546.0 1349.1,544.7 1350.9,541.4 1352.9,538.9 1355.1,537.4 1357.6,535.9 1360.1,536.2 1362.7,536.0 1365.3,535.3 1367.9,536.8 1370.5,536.4 1373.0,535.4 1375.6,535.6 1378.2,536.8 1380.6,536.0 1382.8,533.9 1385.0,533.2 1387.2,532.8 1389.6,532.9 1392.1,530.6 1394.7,529.6 1397.2,530.0 1399.7,530.8 1402.3,532.7 1404.9,532.6 1407.3,531.3 1409.6,530.0 1411.8,530.0 1414.0,529.6 1416.3,528.3 1418.8,527.1 1421.4,527.3 1423.9,527.9 1426.4,526.9 1428.8,526.7 1431.3,529.6 1433.8,531.1 1436.2,531.6 1438.7,532.3 1441.3,533.2 1443.9,532.2 1446.5,530.6 1449.1,530.9 1451.5,533.0 1453.9,534.3 1456.2,535.3 1458.6,536.0 1461.0,536.8 1463.6,537.2 1466.0,536.0 1468.2,535.4 1470.1,534.2 1472.0,532.3 1473.9,530.0 1476.0,528.6 1478.2,527.7 1480.5,525.9 1483.0,525.3 1485.5,525.1 1488.1,523.8 1490.6,523.5 1493.2,524.2 1495.6,525.5 1498.1,526.3 1500.6,526.6 1503.2,526.9 1505.7,527.1 1508.3,526.9 1510.8,526.4 1513.3,525.5 1515.9,525.5 1518.5,526.1 1520.9,526.6 1523.3,528.0 1525.7,529.2 1528.1,529.7 1530.6,530.0 1533.2,530.2 1535.8,531.0 1538.4,531.2 1541.0,530.7 1543.6,531.0 1546.2,531.2 1548.8,530.8 1551.4,530.4 1553.9,530.8 1556.5,530.8 1558.9,529.4 1561.3,528.4 1563.6,527.3 1565.9,525.5 1568.1,524.2 1570.4,522.7 1572.7,521.8 1575.1,521.1 1577.6,519.9 1580.1,519.3 1582.7,518.8 1585.2,518.6 1587.8,518.8 1590.4,518.5 1592.9,517.1 1595.5,516.4 1598.0,516.1 1600.4,515.7 1602.9,514.7 1605.5,513.7 1608.1,514.2 1610.6,515.0 1613.0,516.4 1615.5,517.9 1617.9,518.6 1620.3,519.4 1622.8,520.0 1625.3,520.0 1627.9,520.4 1630.5,521.1 1633.1,521.1 1635.7,521.6 1638.3,521.9 1640.9,521.5 1643.4,522.1 1646.0,523.3 1648.4,523.9 1650.8,524.3 1653.2,525.7 1655.4,527.5 1657.7,529.1 1660.0,530.1 1662.3,530.8 1664.5,532.1 1666.7,533.8 1668.9,534.9 1671.2,536.1 1673.5,537.1 1676.0,538.3 1678.5,538.9 1681.1,538.4 1683.5,537.7 1686.0,536.9 1688.3,535.2 1690.6,533.9 1692.9,532.5 1695.2,531.3 1697.4,530.1 1699.5,528.6 1701.7,527.5 1703.8,525.8 1706.0,523.8 1708.2,523.0 1710.5,521.8 1712.9,521.0 1715.4,520.6 1717.8,519.0 1720.3,517.9 1722.8,517.9 1725.3,517.2 1727.7,516.2 1730.2,514.8 1732.6,513.8 1735.0,513.4 1737.4,511.9 1739.9,511.1 1742.4,510.7 1745.0,510.1 1747.6,511.2 1750.0,512.1 1752.3,513.1 1754.4,515.2 1756.5,516.4 1758.4,518.3 1760.2,520.1 1761.8,521.9 1763.3,523.6 1764.8,526.2 1766.3,528.6 1767.8,530.4 1769.2,533.1 1770.6,535.1 1771.9,536.4 1773.2,538.7 1774.5,540.9 1775.9,542.9 1777.2,546.0 1778.6,548.8 1780.0,550.8 1781.6,552.8 1783.1,554.5 1784.7,556.6 1786.3,558.5 1788.0,560.5 1789.9,562.8 1791.7,564.4 1793.6,565.6 1795.6,567.3 1797.7,568.8 1799.9,570.8 1802.3,572.4 1804.8,572.5 1807.3,572.2 1809.9,572.6 1812.5,573.1 1815.1,572.5 1817.7,572.1 1820.2,571.5 1822.7,570.3 1825.1,569.9 1827.5,569.3 1829.9,567.9 1832.2,566.7 1834.5,565.3 1836.6,563.9 1838.6,562.5 1840.5,560.6 1842.4,558.4 1844.3,556.8 1846.2,554.9 1848.1,553.6 1850.0,552.0 1851.8,550.0 1853.9,547.8 1856.1,546.0 1858.6,545.6 1861.1,546.0 1863.5,547.1 1865.8,548.7 1868.0,550.4 1870.3,551.0 1872.7,552.1 1875.2,552.7 1877.8,553.5 1880.3,554.8 1882.8,555.4 1885.2,555.8 1887.5,556.8 1889.6,558.7 1891.6,560.8 1893.6,561.8 1895.7,562.9 1897.8,565.1 1900.1,566.7 1902.4,567.3 1904.8,567.8 1907.2,568.5 1909.8,569.2 1912.3,570.0 1914.8,569.5 1917.2,567.8 1919.6,566.3 1922.0,565.3 1924.4,564.7 1926.9,564.0 1929.4,563.0 1931.9,562.8 1934.5,562.1 1937.0,561.1 1939.5,560.4 1942.1,560.9 1944.7,561.0 1947.3,560.2 1949.9,560.6 1952.5,561.7 1955.0,561.1 1957.6,561.6 1960.2,561.7 1962.8,561.3 1965.4,561.2 1968.0,561.3 1970.6,561.4 1973.1,560.5 1975.6,560.0 1978.2,559.9 1980.6,558.5 1983.0,556.9 1985.4,556.6 1987.9,555.8 1990.5,555.8 1992.9,557.0 1995.2,558.5 1997.5,559.2 2000.0,559.6 2002.6,560.6 2005.2,561.6 2007.7,561.2 2010.3,561.3 2012.9,561.3 2015.5,561.5 2018.1,561.5 2020.7,560.8 2023.2,559.8 2025.6,558.7 2028.0,558.5 2030.4,557.4 2032.8,556.1 2035.2,555.3 2037.6,553.9 2040.0,552.5 2042.4,552.3 2044.8,551.6 2047.2,549.7 2049.5,548.5 2051.8,547.4 2054.0,546.3 2056.2,545.1 2058.3,543.9 2060.5,542.2 2062.6,540.0 2064.7,538.5 2066.9,537.0 2069.0,535.5 2071.0,534.5" fill="none" stroke="#00ff00" stroke-width="11" stroke-linejoin="round" shape-rendering="auto"/><polyline points="635.0,419.7 637.6,419.7 640.2,419.8 642.8,419.7 645.4,419.7 648.0,420.2 650.6,419.7 653.2,419.9 655.8,419.1 658.4,418.6 661.0,419.3 663.6,418.9 666.2,419.9 668.8,420.1 671.4,420.4 674.0,421.8 676.6,420.4 679.2,420.5 681.8,421.6 684.4,421.1 687.0,419.2 689.6,418.9 692.2,420.0 694.8,419.4 697.4,418.4 700.0,418.3 702.6,418.2 705.2,419.2 707.8,419.0 710.4,418.1 712.9,418.7 715.5,419.8 718.1,418.6 720.7,416.8 723.3,418.9 725.9,420.7 728.3,421.1 730.4,421.8 732.4,422.3 734.7,422.6 737.3,422.6 739.8,422.8 742.3,421.3 744.8,421.3 747.2,421.8 749.8,419.6 752.4,419.9 754.9,420.9 757.5,421.4 760.1,421.7 762.6,422.0 765.2,422.4 767.7,422.7 770.3,423.3 772.8,422.4 775.4,422.2 777.9,423.0 780.5,424.0 783.1,424.5 785.7,425.2 788.3,426.1 790.8,426.0 793.4,425.6 796.0,426.4 798.6,428.2 801.1,429.2 803.7,429.0 806.2,429.7 808.7,429.2 811.2,428.5 813.7,429.0 816.1,430.0 818.5,430.8 820.9,433.2 823.2,436.3 825.5,436.1 827.8,437.1 830.1,440.2 832.3,441.6 834.5,441.1 836.6,442.6 838.7,444.1 840.7,444.8 842.6,446.0 844.4,448.9 845.9,453.0 847.4,453.9 848.6,454.7 849.8,457.6 850.9,459.6 852.0,462.3 853.0,466.3 854.0,468.5 854.9,469.4 855.8,470.9 856.7,473.8 857.5,477.8 858.3,481.8 859.0,483.8 859.7,484.4 860.4,486.4 861.1,489.7 861.7,491.8 862.3,493.7 862.9,497.1 863.5,501.3 864.0,503.1 864.6,506.1 865.1,509.9 865.5,511.3 866.0,512.5 866.5,514.5 867.0,518.2 867.4,522.1 867.9,525.1 868.4,526.1 868.8,527.9 869.3,529.9 869.7,532.3 870.2,535.4 870.6,537.5 871.1,539.6 871.5,544.4 872.0,547.1 872.4,548.7 872.9,551.8 873.3,554.3 873.8,557.0 874.2,559.6 874.7,561.9 875.1,563.4 875.6,566.5 876.0,570.3 876.4,573.1 876.9,574.7 877.4,576.8 877.9,580.5 878.4,583.6 879.0,584.3 879.6,586.2 880.2,588.9 880.8,592.4 881.4,595.2 882.0,597.1 882.6,599.2 883.4,601.9 884.2,605.5 885.7,607.9 887.5,605.6 888.6,602.8 889.6,601.3 890.4,597.9 891.2,596.4 891.9,593.4 892.7,590.7 893.4,588.2 894.0,586.7 894.6,585.2 895.1,580.9 895.6,578.1 896.1,577.0 896.6,575.1 897.1,572.1 897.6,569.1 898.2,566.8 898.8,564.9 899.4,561.7 900.0,558.6 900.7,556.8 901.3,553.9 902.0,550.1 902.8,547.9 903.5,545.6 904.4,543.6 905.2,541.9 906.2,540.0 907.1,535.9 908.2,531.7 909.3,531.4 910.4,530.4 911.6,528.4 913.0,526.3 914.5,524.1 916.2,520.4 918.0,517.0 919.9,516.4 922.0,516.1 924.1,513.3 926.3,512.6 928.7,511.7 931.0,511.1 932.7,513.5 934.3,515.5 936.1,516.5 938.4,517.0 941.0,516.4 943.4,515.6 945.6,515.9 947.9,516.0 950.1,514.8 952.1,512.2 954.2,510.8 956.6,509.1 958.8,511.0 960.6,513.2 962.2,513.6 963.8,515.7 965.5,517.8 967.4,520.5 969.7,521.8 972.2,521.0 974.8,521.1 977.3,521.6 979.8,524.3 982.0,526.1 983.4,528.1 984.3,530.8 985.1,532.4 986.2,535.2 987.9,537.2 990.5,536.0 993.1,537.0 995.6,536.9 998.2,536.5 1000.5,537.6 1002.6,539.9 1004.5,540.9 1006.3,540.9 1008.3,542.3 1010.4,544.7 1012.8,547.5 1015.3,548.1 1017.9,548.9 1020.5,548.0 1023.0,548.1 1025.4,546.7 1027.7,545.7 1030.1,545.2 1031.8,546.7 1032.8,549.9 1033.8,553.3 1035.0,554.9 1037.0,555.0 1038.6,551.8 1040.6,550.7 1042.9,550.2 1045.2,548.3 1047.6,548.2 1050.0,546.5 1052.4,545.0 1054.9,544.9 1057.4,543.8 1059.9,543.7 1062.2,545.0 1064.7,544.7 1067.0,543.9 1069.1,542.5 1071.1,539.7 1073.3,539.1 1075.5,539.5 1077.8,538.1 1080.2,535.6 1082.6,534.0 1085.0,534.7 1087.5,533.9 1090.0,532.8 1092.5,531.1 1095.0,531.0 1097.5,532.1 1100.1,530.3 1102.7,528.8 1105.3,529.6 1107.9,531.0 1110.5,531.3 1113.1,529.2 1115.7,527.8 1118.2,529.5 1120.8,529.4 1123.1,528.6 1125.3,527.2 1127.4,525.5 1129.3,523.1 1131.3,521.9 1133.2,520.5 1135.3,516.7 1137.3,514.7 1139.5,513.3 1141.7,512.5 1143.9,513.1 1146.1,512.9 1148.3,511.5 1150.6,508.9 1153.0,507.7 1155.4,507.3 1157.8,506.7 1160.3,506.4 1162.8,505.7 1165.4,504.7 1168.0,503.1 1170.5,501.5 1173.0,500.9 1174.7,499.2 1176.1,497.9 1178.0,495.7 1179.4,496.7 1180.1,500.6 1180.8,502.5 1181.5,503.7 1182.7,505.9 1184.5,507.4 1187.0,507.4 1189.5,508.3 1191.9,507.4 1194.3,505.2 1196.9,505.2 1199.4,505.1 1201.9,503.4 1204.5,502.4 1207.1,503.1 1209.4,504.9 1211.2,506.4 1212.9,508.5 1215.2,510.2 1217.6,510.7 1219.8,509.4 1221.9,506.4 1224.1,504.2 1226.3,502.6 1228.6,501.8 1230.9,502.3 1233.2,502.3 1235.5,499.2 1238.0,497.9 1240.5,498.8 1243.1,499.6 1245.7,499.8 1248.3,499.2 1250.8,497.0 1252.8,494.7 1254.5,494.8 1256.1,494.0 1257.9,492.0 1260.1,489.4 1262.4,490.7 1264.1,493.5 1265.9,494.4 1268.2,494.1 1270.2,492.7 1271.8,491.1 1273.4,487.9 1275.4,485.2 1277.9,487.0 1280.5,487.4 1283.1,486.3 1285.7,487.0 1288.3,487.5 1290.9,488.0 1293.4,488.2 1296.0,486.9 1298.6,486.4 1301.1,487.6 1303.6,489.0 1306.1,491.6 1308.5,492.6 1310.7,492.1 1312.6,494.8 1314.1,497.1 1315.2,498.7 1316.1,501.8 1316.9,504.9 1317.7,506.4 1318.4,508.4 1319.0,510.3 1319.4,514.3 1319.8,518.6 1320.2,520.9 1320.7,521.8 1321.3,524.1 1321.9,527.0 1322.8,528.4 1323.8,530.4 1324.9,534.5 1326.1,537.4 1327.6,539.0 1329.4,539.8 1331.4,541.6 1333.8,544.1 1336.2,542.2 1338.7,540.2 1340.9,543.2 1342.7,544.9 1344.8,545.4 1347.2,546.0 1349.1,544.7 1350.9,541.4 1352.9,538.9 1355.1,537.4 1357.6,535.9 1360.1,536.2 1362.7,536.0 1365.3,535.3 1367.9,536.8 1370.5,536.4 1373.0,535.4 1375.6,535.6 1378.2,536.8 1380.6,536.0 1382.8,533.9 1385.0,533.2 1387.2,532.8 1389.6,532.9 1392.1,530.6 1394.7,529.6 1397.2,530.0 1399.7,530.8 1402.3,532.7 1404.9,532.6 1407.3,531.3 1409.6,530.0 1411.8,530.0 1414.0,529.6 1416.3,528.3 1418.8,527.1 1421.4,527.3 1423.9,527.9 1426.4,526.9 1428.8,526.7 1431.3,529.6 1433.8,531.1 1436.2,531.6 1438.7,532.3 1441.3,533.2 1443.9,532.2 1446.5,530.6 1449.1,530.9 1451.5,533.0 1453.9,534.3 1456.2,535.3 1458.6,536.0 1461.0,536.8 1463.6,537.2 1466.0,536.0 1468.2,535.4 1470.1,534.2 1472.0,532.3 1473.9,530.0 1476.0,528.6 1478.2,527.7 1480.5,525.9 1483.0,525.3 1485.5,525.1 1488.1,523.8 1490.6,523.5 1493.2,524.2 1495.6,525.5 1498.1,526.3 1500.6,526.6 1503.2,526.9 1505.7,527.1 1508.3,526.9 1510.8,526.4 1513.3,525.5 1515.9,525.5 1518.5,526.1 1520.9,526.6 1523.3,528.0 1525.7,529.2 1528.1,529.7 1530.6,530.0 1533.2,530.2 1535.8,531.0 1538.4,531.2 1541.0,530.7 1543.6,531.0 1546.2,531.2 1548.8,530.8 1551.4,530.4 1553.9,530.8 1556.5,530.8 1558.9,529.4 1561.3,528.4 1563.6,527.3 1565.9,525.5 1568.1,524.2 1570.4,522.7 1572.7,521.8 1575.1,521.1 1577.6,519.9 1580.1,519.3 1582.7,518.8 1585.2,518.6 1587.8,518.8 1590.4,518.5 1592.9,517.1 1595.5,516.4 1598.0,516.1 1600.4,515.7 1602.9,514.7 1605.5,513.7 1608.1,514.2 1610.6,515.0 1613.0,516.4 1615.5,517.9 1617.9,518.6 1620.3,519.4 1622.8,520.0 1625.3,520.0 1627.9,520.4 1630.5,521.1 1633.1,521.1 1635.7,521.6 1638.3,521.9 1640.9,521.5 1643.4,522.1 1646.0,523.3 1648.4,523.9 1650.8,524.3 1653.2,525.7 1655.4,527.5 1657.7,529.1 1660.0,530.1 1662.3,530.8 1664.5,532.1 1666.7,533.8 1668.9,534.9 1671.2,536.1 1673.5,537.1 1676.0,538.3 1678.5,538.9 1681.1,538.4 1683.5,537.7 1686.0,536.9 1688.3,535.2 1690.6,533.9 1692.9,532.5 1695.2,531.3 1697.4,530.1 1699.5,528.6 1701.7,527.5 1703.8,525.8 1706.0,523.8 1708.2,523.0 1710.5,521.8 1712.9,521.0 1715.4,520.6 1717.8,519.0 1720.3,517.9 1722.8,517.9 1725.3,517.2 1727.7,516.2 1730.2,514.8 1732.6,513.8 1735.0,513.4 1737.4,511.9 1739.9,511.1 1742.4,510.7 1745.0,510.1 1747.6,511.2 1750.0,512.1 1752.3,513.1 1754.4,515.2 1756.5,516.4 1758.4,518.3 1760.2,520.1 1761.8,521.9 1763.3,523.6 1764.8,526.2 1766.3,528.6 1767.8,530.4 1769.2,533.1 1770.6,535.1 1771.9,536.4 1773.2,538.7 1774.5,540.9 1775.9,542.9 1777.2,546.0 1778.6,548.8 1780.0,550.8 1781.6,552.8 1783.1,554.5 1784.7,556.6 1786.3,558.5 1788.0,560.5 1789.9,562.8 1791.7,564.4 1793.6,565.6 1795.6,567.3 1797.7,568.8 1799.9,570.8 1802.3,572.4 1804.8,572.5 1807.3,572.2 1809.9,572.6 1812.5,573.1 1815.1,572.5 1817.7,572.1 1820.2,571.5 1822.7,570.3 1825.1,569.9 1827.5,569.3 1829.9,567.9 1832.2,566.7 1834.5,565.3 1836.6,563.9 1838.6,562.5 1840.5,560.6 1842.4,558.4 1844.3,556.8 1846.2,554.9 1848.1,553.6 1850.0,552.0 1851.8,550.0 1853.9,547.8 1856.1,546.0 1858.6,545.6 1861.1,546.0 1863.5,547.1 1865.8,548.7 1868.0,550.4 1870.3,551.0 1872.7,552.1 1875.2,552.7 1877.8,553.5 1880.3,554.8 1882.8,555.4 1885.2,555.8 1887.5,556.8 1889.6,558.7 1891.6,560.8 1893.6,561.8 1895.7,562.9 1897.8,565.1 1900.1,566.7 1902.4,567.3 1904.8,567.8 1907.2,568.5 1909.8,569.2 1912.3,570.0 1914.8,569.5 1917.2,567.8 1919.6,566.3 1922.0,565.3 1924.4,564.7 1926.9,564.0 1929.4,563.0 1931.9,562.8 1934.5,562.1 1937.0,561.1 1939.5,560.4 1942.1,560.9 1944.7,561.0 1947.3,560.2 1949.9,560.6 1952.5,561.7 1955.0,561.1 1957.6,561.6 1960.2,561.7 1962.8,561.3 1965.4,561.2 1968.0,561.3 1970.6,561.4 1973.1,560.5 1975.6,560.0 1978.2,559.9 1980.6,558.5 1983.0,556.9 1985.4,556.6 1987.9,555.8 1990.5,555.8 1992.9,557.0 1995.2,558.5 1997.5,559.2 2000.0,559.6 2002.6,560.6 2005.2,561.6 2007.7,561.2 2010.3,561.3 2012.9,561.3 2015.5,561.5 2018.1,561.5 2020.7,560.8 2023.2,559.8 2025.6,558.7 2028.0,558.5 2030.4,557.4 2032.8,556.1 2035.2,555.3 2037.6,553.9 2040.0,552.5 2042.4,552.3 2044.8,551.6 2047.2,549.7 2049.5,548.5 2051.8,547.4 2054.0,546.3 2056.2,545.1 2058.3,543.9 2060.5,542.2 2062.6,540.0 2064.7,538.5 2066.9,537.0 2069.0,535.5 2071.0,534.5" fill="none" stroke="#00ff00" stroke-width="12" stroke-linejoin="round" shape-rendering="crispEdges"/></g>
<g clip-path="url(#cl)"><polyline points="261.0,468.4 263.0,471.0 265.1,473.8 267.1,473.7 269.2,475.0 271.3,477.6 273.4,478.8 275.5,478.5 277.6,478.4 279.5,481.0 281.4,484.9 283.0,486.4 284.5,488.0 285.9,490.2 287.2,493.6 288.5,497.6 289.9,498.3 291.3,501.0 292.7,501.8 294.2,503.9 295.6,508.1 297.1,508.1 298.6,510.2 300.1,513.3 301.6,516.2 303.2,517.0 304.7,518.2 306.3,522.2 307.9,524.3 309.6,524.7 311.2,526.0 312.8,529.2 314.5,531.6 316.2,533.8 318.0,534.9 319.8,536.8 321.7,539.5 323.6,541.4 325.7,541.5 327.8,542.3 330.1,543.6 332.3,545.8 334.6,547.3 336.9,549.0 339.2,549.9 341.6,550.8 344.0,552.5 346.5,552.5 348.9,552.9 351.4,554.8 354.0,555.2 356.5,554.9 359.1,554.8 361.7,555.8 364.3,555.5 366.9,555.4 369.5,555.6 372.0,555.1 374.6,553.9 377.1,553.6 379.6,554.1 382.1,552.7 384.5,551.0 387.0,551.1 389.3,550.3 391.7,548.2 394.1,546.2 396.4,545.9 398.7,545.1 401.0,543.5 403.3,542.1 405.6,541.3 407.9,540.7 410.2,538.9 412.4,536.6 414.7,536.6 416.9,536.4 419.1,533.4 421.3,531.6 423.5,531.2 425.6,529.3 427.7,528.0 429.8,527.3 431.8,525.3 433.8,522.8 435.8,520.5 437.8,518.7 439.8,516.9 441.7,514.9 443.6,513.3 445.5,512.8 447.4,511.4 449.2,509.5 451.1,508.3 452.9,506.4 454.7,503.0 456.5,501.6 458.3,499.5 460.2,497.7 462.0,497.0 463.9,495.0 465.8,492.5 467.7,489.8 469.7,487.6 471.6,486.8 473.5,485.2 475.5,483.4 477.5,481.7 479.5,479.5 481.4,477.9 483.4,477.1 485.3,475.5 487.2,473.3 489.1,471.5 491.1,470.1 493.2,468.5 495.5,467.3 497.7,468.5 499.0,471.0 499.7,472.3 500.3,474.2 500.9,476.7 501.4,479.3 502.0,481.5 502.4,484.9 502.8,488.2 503.4,490.2 504.2,493.3 505.6,493.5 507.0,490.9 508.0,489.5 509.0,486.9 510.0,484.1 511.2,481.5 512.9,481.1 514.2,483.8 515.0,485.2 515.5,487.1 516.1,490.2 516.6,492.9 517.1,495.4 517.5,497.4 517.9,500.1 518.3,503.5 518.6,506.4 518.9,508.5 519.1,510.6 519.4,513.3 519.7,516.0 520.0,518.5 520.2,520.2 520.5,522.6 520.8,526.8 521.1,530.2 521.3,531.9 521.6,534.4 521.9,536.5 522.1,538.4 522.4,541.5 522.6,544.8 522.9,546.4 523.2,548.8 523.4,552.8 523.7,555.5 524.0,558.4 524.2,559.9 524.5,562.6 524.8,566.3 525.1,567.3 525.4,569.6 525.6,573.3 525.9,575.3 526.2,577.9 526.5,581.4 526.8,584.2 527.1,586.1 527.3,587.5 527.6,590.4 527.9,593.0 528.2,595.7 528.5,598.3 528.8,600.7 529.1,603.7 529.4,607.1 529.7,610.3 530.0,612.1 530.3,613.2 530.5,616.5 530.8,619.4 531.1,622.2 531.3,625.5 531.6,626.8 531.8,629.4 532.1,632.2 532.3,634.3 532.6,636.9 532.9,639.9 533.3,642.2 533.6,644.8 534.3,647.3 535.0,646.8 535.6,644.3 536.1,642.7 536.3,640.1 536.6,636.7 536.8,634.3 537.1,631.7 537.3,630.2 537.5,628.4 537.7,624.4 537.9,621.1 538.1,619.0 538.3,616.8 538.5,614.1 538.8,611.5 539.0,609.5 539.2,606.2 539.4,603.5 539.7,600.8 539.9,598.3 540.2,595.8 540.4,593.8 540.7,592.0 540.9,589.7 541.2,586.2 541.4,583.2 541.6,580.2 541.9,577.9 542.2,576.2 542.4,573.1 542.7,569.8 543.0,567.8 543.4,565.9 543.7,563.4 544.0,560.0 544.4,556.6 544.7,553.9 545.1,551.3 545.5,548.3 545.9,545.7 546.3,543.9 546.7,541.8 547.2,539.9 547.7,537.1 548.8,533.7 549.9,536.2 550.6,538.3 551.1,540.0 551.6,543.7 551.9,546.1 552.3,549.2 552.7,552.3 553.1,553.8 553.5,556.7 553.8,560.2 554.2,562.1 554.5,563.5 554.8,565.5 555.1,569.2 555.4,573.0 555.7,575.3 555.9,577.7 556.2,580.5 556.4,582.1 556.7,583.9 557.0,587.6 557.3,591.1 557.5,592.9 557.8,594.6 558.4,596.6 559.0,599.1 559.6,597.9 560.1,594.8 560.3,591.4 560.5,588.5 560.8,586.4 561.0,583.7 561.2,581.5 561.3,579.4 561.5,576.5 561.7,573.5 561.8,570.7 562.0,569.2 562.2,567.6 562.4,564.7 562.6,560.9 562.7,557.5 562.9,555.2 563.1,553.7 563.3,552.0 563.5,548.2 563.7,545.3 563.9,542.9 564.1,540.0 564.3,537.1 564.5,535.1 564.7,533.3 564.9,531.1 565.1,527.9 565.3,524.6 565.7,522.3 566.0,519.2 566.3,517.1 566.7,515.5 567.1,511.8 567.4,508.7 567.8,506.6 568.2,504.7 568.7,502.4 569.1,498.8 569.6,496.9 570.2,495.4 570.9,492.7 571.8,489.5 572.8,486.6 573.9,484.0 575.4,482.8 576.9,480.7 578.7,478.9 580.5,476.4 582.5,473.4 584.7,472.4 587.0,471.4 589.4,470.1 591.9,469.4 594.5,469.1 597.1,469.9 599.6,470.2 602.2,470.5 604.7,472.0 607.2,472.4 609.8,472.6 612.3,473.4 614.9,473.7 617.4,474.4 620.0,475.6 621.0,474.7" fill="none" stroke="#0000ff" stroke-width="11" stroke-linejoin="round" shape-rendering="auto"/><polyline points="261.0,468.4 263.0,471.0 265.1,473.8 267.1,473.7 269.2,475.0 271.3,477.6 273.4,478.8 275.5,478.5 277.6,478.4 279.5,481.0 281.4,484.9 283.0,486.4 284.5,488.0 285.9,490.2 287.2,493.6 288.5,497.6 289.9,498.3 291.3,501.0 292.7,501.8 294.2,503.9 295.6,508.1 297.1,508.1 298.6,510.2 300.1,513.3 301.6,516.2 303.2,517.0 304.7,518.2 306.3,522.2 307.9,524.3 309.6,524.7 311.2,526.0 312.8,529.2 314.5,531.6 316.2,533.8 318.0,534.9 319.8,536.8 321.7,539.5 323.6,541.4 325.7,541.5 327.8,542.3 330.1,543.6 332.3,545.8 334.6,547.3 336.9,549.0 339.2,549.9 341.6,550.8 344.0,552.5 346.5,552.5 348.9,552.9 351.4,554.8 354.0,555.2 356.5,554.9 359.1,554.8 361.7,555.8 364.3,555.5 366.9,555.4 369.5,555.6 372.0,555.1 374.6,553.9 377.1,553.6 379.6,554.1 382.1,552.7 384.5,551.0 387.0,551.1 389.3,550.3 391.7,548.2 394.1,546.2 396.4,545.9 398.7,545.1 401.0,543.5 403.3,542.1 405.6,541.3 407.9,540.7 410.2,538.9 412.4,536.6 414.7,536.6 416.9,536.4 419.1,533.4 421.3,531.6 423.5,531.2 425.6,529.3 427.7,528.0 429.8,527.3 431.8,525.3 433.8,522.8 435.8,520.5 437.8,518.7 439.8,516.9 441.7,514.9 443.6,513.3 445.5,512.8 447.4,511.4 449.2,509.5 451.1,508.3 452.9,506.4 454.7,503.0 456.5,501.6 458.3,499.5 460.2,497.7 462.0,497.0 463.9,495.0 465.8,492.5 467.7,489.8 469.7,487.6 471.6,486.8 473.5,485.2 475.5,483.4 477.5,481.7 479.5,479.5 481.4,477.9 483.4,477.1 485.3,475.5 487.2,473.3 489.1,471.5 491.1,470.1 493.2,468.5 495.5,467.3 497.7,468.5 499.0,471.0 499.7,472.3 500.3,474.2 500.9,476.7 501.4,479.3 502.0,481.5 502.4,484.9 502.8,488.2 503.4,490.2 504.2,493.3 505.6,493.5 507.0,490.9 508.0,489.5 509.0,486.9 510.0,484.1 511.2,481.5 512.9,481.1 514.2,483.8 515.0,485.2 515.5,487.1 516.1,490.2 516.6,492.9 517.1,495.4 517.5,497.4 517.9,500.1 518.3,503.5 518.6,506.4 518.9,508.5 519.1,510.6 519.4,513.3 519.7,516.0 520.0,518.5 520.2,520.2 520.5,522.6 520.8,526.8 521.1,530.2 521.3,531.9 521.6,534.4 521.9,536.5 522.1,538.4 522.4,541.5 522.6,544.8 522.9,546.4 523.2,548.8 523.4,552.8 523.7,555.5 524.0,558.4 524.2,559.9 524.5,562.6 524.8,566.3 525.1,567.3 525.4,569.6 525.6,573.3 525.9,575.3 526.2,577.9 526.5,581.4 526.8,584.2 527.1,586.1 527.3,587.5 527.6,590.4 527.9,593.0 528.2,595.7 528.5,598.3 528.8,600.7 529.1,603.7 529.4,607.1 529.7,610.3 530.0,612.1 530.3,613.2 530.5,616.5 530.8,619.4 531.1,622.2 531.3,625.5 531.6,626.8 531.8,629.4 532.1,632.2 532.3,634.3 532.6,636.9 532.9,639.9 533.3,642.2 533.6,644.8 534.3,647.3 535.0,646.8 535.6,644.3 536.1,642.7 536.3,640.1 536.6,636.7 536.8,634.3 537.1,631.7 537.3,630.2 537.5,628.4 537.7,624.4 537.9,621.1 538.1,619.0 538.3,616.8 538.5,614.1 538.8,611.5 539.0,609.5 539.2,606.2 539.4,603.5 539.7,600.8 539.9,598.3 540.2,595.8 540.4,593.8 540.7,592.0 540.9,589.7 541.2,586.2 541.4,583.2 541.6,580.2 541.9,577.9 542.2,576.2 542.4,573.1 542.7,569.8 543.0,567.8 543.4,565.9 543.7,563.4 544.0,560.0 544.4,556.6 544.7,553.9 545.1,551.3 545.5,548.3 545.9,545.7 546.3,543.9 546.7,541.8 547.2,539.9 547.7,537.1 548.8,533.7 549.9,536.2 550.6,538.3 551.1,540.0 551.6,543.7 551.9,546.1 552.3,549.2 552.7,552.3 553.1,553.8 553.5,556.7 553.8,560.2 554.2,562.1 554.5,563.5 554.8,565.5 555.1,569.2 555.4,573.0 555.7,575.3 555.9,577.7 556.2,580.5 556.4,582.1 556.7,583.9 557.0,587.6 557.3,591.1 557.5,592.9 557.8,594.6 558.4,596.6 559.0,599.1 559.6,597.9 560.1,594.8 560.3,591.4 560.5,588.5 560.8,586.4 561.0,583.7 561.2,581.5 561.3,579.4 561.5,576.5 561.7,573.5 561.8,570.7 562.0,569.2 562.2,567.6 562.4,564.7 562.6,560.9 562.7,557.5 562.9,555.2 563.1,553.7 563.3,552.0 563.5,548.2 563.7,545.3 563.9,542.9 564.1,540.0 564.3,537.1 564.5,535.1 564.7,533.3 564.9,531.1 565.1,527.9 565.3,524.6 565.7,522.3 566.0,519.2 566.3,517.1 566.7,515.5 567.1,511.8 567.4,508.7 567.8,506.6 568.2,504.7 568.7,502.4 569.1,498.8 569.6,496.9 570.2,495.4 570.9,492.7 571.8,489.5 572.8,486.6 573.9,484.0 575.4,482.8 576.9,480.7 578.7,478.9 580.5,476.4 582.5,473.4 584.7,472.4 587.0,471.4 589.4,470.1 591.9,469.4 594.5,469.1 597.1,469.9 599.6,470.2 602.2,470.5 604.7,472.0 607.2,472.4 609.8,472.6 612.3,473.4 614.9,473.7 617.4,474.4 620.0,475.6 621.0,474.7" fill="none" stroke="#0000ff" stroke-width="12" stroke-linejoin="round" shape-rendering="crispEdges"/></g>
<g clip-path="url(#cr)"><polyline points="635.0,467.4 637.6,467.8 640.2,467.9 642.8,467.3 645.4,467.6 648.0,468.1 650.6,468.1 653.2,468.1 655.8,467.8 658.4,467.5 661.0,468.3 663.6,468.3 666.2,468.4 668.8,469.1 671.4,469.4 674.0,469.6 676.6,468.6 679.2,467.7 681.8,468.5 684.4,468.9 687.0,468.1 689.6,468.3 692.2,469.2 694.8,469.3 697.4,468.2 700.0,467.4 702.6,467.0 705.2,468.1 707.8,468.0 710.4,467.7 713.0,467.9 715.6,467.6 718.2,467.4 720.8,467.6 723.4,467.5 726.0,466.6 728.6,465.8 731.1,466.0 733.7,467.0 736.3,466.3 738.9,466.0 741.5,466.5 744.1,465.6 746.7,465.0 749.3,465.8 751.9,466.0 754.5,465.6 757.1,465.6 759.7,465.1 762.3,465.5 764.9,466.2 767.5,465.9 770.1,465.6 772.7,466.2 775.3,466.9 777.9,466.7 780.5,465.7 783.1,465.5 785.7,465.8 788.3,466.0 790.9,467.1 793.4,468.1 796.0,467.9 798.5,469.1 801.1,470.1 803.6,470.5 806.1,471.4 808.7,471.9 811.1,472.3 813.6,473.6 816.1,473.7 818.5,474.3 821.0,476.2 823.4,476.7 825.8,477.8 828.2,478.3 830.4,479.2 832.5,480.7 834.4,482.5 836.2,485.1 837.6,486.7 839.0,488.5 840.2,491.9 841.5,493.9 842.7,495.2 844.0,498.6 845.3,501.3 846.6,502.2 847.8,504.7 848.9,507.0 850.1,508.8 851.1,512.2 852.1,515.2 853.0,517.1 853.8,519.5 854.6,522.1 855.3,524.5 855.9,526.4 856.5,529.5 857.1,532.9 857.6,534.9 858.1,537.0 858.6,539.8 859.1,542.4 859.6,544.7 860.0,547.9 860.4,551.1 860.8,552.5 861.2,554.2 861.6,557.7 862.0,561.4 862.3,563.8 862.7,565.4 863.0,567.0 863.4,570.5 863.7,574.3 864.1,576.7 864.4,579.0 864.8,582.0 865.1,584.1 865.4,586.8 865.7,588.8 866.0,590.2 866.3,593.8 866.6,597.1 866.9,599.7 867.2,601.3 867.5,603.3 867.8,606.6 868.1,608.7 868.4,611.0 868.7,614.4 869.0,617.9 869.3,620.5 869.6,622.3 869.9,624.5 870.2,627.3 870.5,630.4 870.8,633.6 871.1,635.0 871.4,637.8 871.7,641.3 872.0,642.5 872.3,644.5 872.6,647.4 872.9,649.9 873.2,652.3 873.5,654.8 873.8,658.2 874.2,661.1 874.5,662.8 874.8,666.1 875.1,669.7 875.4,671.3 875.8,674.1 876.1,677.3 876.4,679.4 876.8,681.0 877.1,684.0 877.5,687.6 877.8,690.4 878.1,693.1 878.5,694.5 878.8,697.4 879.2,699.6 879.6,701.5 879.9,704.7 880.3,707.6 880.7,710.1 881.1,713.2 881.4,716.0 881.8,718.6 882.1,721.0 882.5,722.9 882.8,724.5 883.1,727.6 883.5,731.4 883.9,733.2 884.3,736.0 884.7,738.1 885.8,739.8 886.9,739.3 887.9,737.3 888.4,734.5 889.0,731.3 889.5,728.4 890.0,725.6 890.4,723.7 890.9,720.8 891.4,717.6 891.8,716.1 892.3,713.9 892.7,710.3 893.1,707.8 893.6,706.6 894.0,704.0 894.5,700.5 894.9,697.4 895.3,695.3 895.6,692.8 896.0,689.9 896.4,687.0 896.8,685.0 897.1,683.5 897.5,680.7 897.9,677.9 898.2,675.0 898.6,673.1 898.9,670.3 899.3,667.8 899.6,664.6 900.0,661.9 900.3,660.5 900.7,657.7 901.0,654.2 901.3,651.1 901.7,649.7 902.0,648.2 902.4,644.4 902.7,641.2 903.0,639.5 903.4,637.5 903.8,633.7 904.2,630.8 904.5,628.4 904.9,625.2 905.3,623.4 905.7,621.3 906.1,618.0 906.5,616.0 906.9,613.4 907.3,610.2 907.8,607.6 908.2,604.9 908.8,603.3 909.4,600.8 910.0,598.5 910.7,596.4 911.4,593.4 912.1,591.3 912.9,588.4 913.8,584.7 914.8,582.9 915.8,580.4 917.1,578.7 918.5,577.7 920.2,574.9 922.2,572.0 924.3,571.5 926.4,570.0 928.5,568.7 930.5,567.2 932.6,565.5 934.6,564.4 936.8,561.9 939.2,560.3 941.7,560.5 944.1,561.3 946.0,563.9 947.8,565.6 949.5,566.7 951.2,568.6 953.0,570.3 954.9,573.1 956.8,574.8 958.7,576.4 960.6,577.9 962.4,580.3 964.2,583.0 965.9,585.2 967.5,586.0 969.0,588.0 970.3,591.1 971.5,592.9 972.6,595.3 973.7,597.5 974.8,599.8 976.0,602.9 977.2,605.5 978.8,606.7 980.5,607.9 982.7,610.3 985.1,611.0 987.5,611.3 989.8,612.8 991.8,614.3 993.4,616.5 994.8,618.3 996.1,620.5 997.4,623.6 998.7,626.3 1000.2,628.2 1001.9,629.3 1003.8,630.7 1006.0,632.0 1008.4,632.7 1010.9,633.7 1013.4,634.7 1015.8,636.6 1018.2,638.1 1020.3,639.7 1022.3,640.9 1024.2,641.6 1026.1,643.5 1028.1,645.9 1030.4,647.8 1032.8,647.6 1035.3,646.7 1037.5,646.3 1039.8,644.5 1042.3,643.2 1044.8,642.1 1047.4,642.0 1049.9,641.4 1052.5,641.6 1055.1,642.9 1057.6,643.5 1060.2,643.7 1062.6,641.6 1064.3,639.9 1066.4,639.1 1068.8,638.5 1071.4,638.4 1074.0,637.6 1076.6,637.7 1079.2,637.4 1081.8,638.0 1084.4,638.8 1086.9,638.9 1089.5,639.1 1092.0,639.3 1094.5,639.7 1096.7,641.5 1098.6,643.6 1100.2,644.8 1101.6,647.4 1103.1,650.0 1104.5,651.7 1105.9,654.2 1107.3,656.4 1108.7,658.5 1110.1,660.7 1111.8,662.3 1113.6,663.8 1115.8,665.6 1118.3,665.0 1120.3,662.9 1122.1,661.2 1123.7,660.0 1125.1,657.5 1126.4,655.5 1127.7,653.3 1128.7,651.3 1129.8,648.4 1130.7,646.1 1131.7,644.6 1132.7,642.2 1133.8,639.5 1134.8,636.3 1135.9,634.6 1137.0,631.9 1138.1,629.4 1139.4,627.2 1140.8,624.1 1142.5,622.3 1144.6,621.1 1147.0,620.6 1149.3,619.2 1151.5,618.0 1153.4,615.8 1155.1,612.9 1156.7,611.7 1158.2,610.8 1159.8,608.7 1161.6,605.6 1163.5,604.5 1165.4,603.3 1167.3,600.2 1169.5,598.1 1171.9,597.7 1174.3,598.4 1176.4,600.1 1178.4,602.3 1180.3,603.9 1182.7,604.5 1184.6,602.4 1186.3,599.5 1188.2,598.3 1190.7,598.4 1193.3,597.9 1195.9,597.0 1198.4,597.7 1200.7,598.9 1202.7,601.5 1204.4,603.5 1206.0,604.9 1207.8,607.2 1210.2,607.3 1212.4,605.3 1214.2,604.2 1215.8,602.2 1217.3,599.5 1218.7,598.2 1220.4,597.0 1222.1,594.9 1224.1,592.4 1226.4,591.5 1228.7,591.5 1231.1,589.4 1233.5,588.1 1235.9,586.9 1238.2,585.0 1240.5,584.2 1242.5,583.8 1244.4,582.1 1246.1,579.6 1247.8,578.3 1249.7,576.1 1251.6,573.6 1254.0,572.1 1256.4,573.1 1258.2,575.7 1259.9,578.6 1261.9,580.7 1264.3,579.8 1266.5,578.2 1268.5,576.6 1271.0,576.0 1273.2,576.9 1274.8,579.6 1276.4,582.7 1277.8,584.6 1279.2,586.6 1280.7,588.1 1282.1,590.7 1283.4,593.0 1284.6,595.1 1286.0,596.9 1287.6,598.3 1289.9,599.7 1292.1,598.5 1294.0,595.8 1296.0,594.2 1298.1,593.1 1300.1,591.3 1302.3,589.5 1304.7,589.6 1307.1,590.7 1309.0,592.2 1310.6,594.6 1312.0,596.0 1313.3,598.1 1314.4,601.8 1315.3,603.8 1316.1,606.0 1316.8,608.2 1317.4,610.4 1317.9,613.3 1318.4,615.6 1318.9,617.9 1319.5,620.6 1320.1,623.5 1320.6,626.0 1321.1,628.7 1321.6,631.0 1322.1,633.6 1322.8,636.9 1323.7,639.1 1325.0,640.8 1327.0,643.0 1329.4,644.3 1331.8,644.9 1334.0,645.9 1336.1,648.2 1338.4,648.9 1340.9,649.7 1343.2,648.6 1345.0,646.9 1346.7,644.3 1348.4,642.3 1350.5,641.2 1353.0,640.5 1355.5,639.4 1358.1,639.1 1360.7,639.4 1363.3,639.6 1365.9,639.7 1368.4,639.6 1370.6,637.5 1372.7,634.7 1374.6,632.9 1376.5,632.4 1378.4,631.0 1380.2,628.9 1382.0,627.7 1383.7,625.8 1385.5,623.4 1387.5,621.8 1390.0,620.5 1392.4,621.6 1394.4,623.1 1396.5,625.0 1398.4,627.5 1400.6,628.5 1403.0,628.7 1405.5,627.5 1407.8,626.7 1410.0,625.4 1412.3,624.1 1414.8,623.9 1416.9,625.0 1418.5,628.1 1420.0,631.1 1421.3,633.1 1422.6,635.1 1424.0,637.6 1425.4,639.7 1426.8,641.7 1428.1,643.1 1429.5,644.5 1431.2,647.5 1433.3,649.6 1435.6,650.1 1438.1,651.3 1440.7,651.8 1443.3,651.6 1445.9,652.2 1448.5,651.5 1451.0,650.8 1453.6,650.2 1456.1,649.6 1458.6,649.1 1461.0,648.0 1463.2,646.4 1464.9,644.7 1466.3,642.6 1467.5,640.2 1468.6,637.8 1469.8,635.2 1470.9,632.8 1472.1,630.9 1473.2,628.6 1474.4,626.4 1475.6,623.6 1477.4,621.3 1479.6,620.1 1482.2,620.2 1484.6,621.3 1486.4,622.7 1487.5,624.5 1488.6,627.0 1489.6,629.9 1490.6,632.5 1491.7,634.8 1492.8,637.2 1493.8,639.7 1494.9,641.4 1496.1,643.4 1497.6,646.1 1499.4,648.2 1501.7,649.5 1504.2,649.6 1506.6,648.7 1508.7,646.8 1510.9,645.0 1513.2,643.9 1515.7,643.9 1518.2,645.1 1520.4,646.2 1522.6,647.5 1524.8,648.6 1527.2,649.6 1529.8,649.9 1532.4,649.8 1535.0,650.1 1537.6,650.1 1540.0,648.9 1542.4,647.6 1544.6,646.4 1546.7,645.1 1548.9,643.5 1551.0,642.0 1553.1,640.3 1555.2,639.0 1557.2,637.7 1559.3,635.7 1561.3,634.0 1563.4,632.7 1565.5,631.2 1567.6,629.3 1569.7,627.5 1571.8,626.0 1574.0,624.8 1576.1,624.0 1578.3,622.1 1580.6,620.8 1582.8,619.9 1585.2,618.6 1587.7,617.6 1590.2,616.8 1592.7,616.3 1595.1,615.5 1597.3,614.2 1599.5,612.6 1601.6,610.9 1603.7,609.5 1606.1,608.6 1608.5,607.8 1611.1,607.7 1613.6,608.1 1616.2,608.4 1618.8,608.6 1621.3,608.8 1623.9,608.1 1626.4,607.5 1628.9,607.0 1631.4,606.1 1634.0,605.6 1636.6,605.5 1639.2,605.7 1641.7,606.0 1644.3,606.6 1646.7,607.3 1649.0,608.5 1650.9,610.0 1652.8,611.9 1654.5,613.7 1656.1,615.9 1657.6,618.6 1658.9,620.5 1660.2,622.3 1661.4,624.4 1662.7,627.0 1664.2,629.0 1665.7,630.9 1667.3,633.0 1668.9,634.9 1670.8,636.8 1673.0,638.6 1675.5,638.9 1677.8,637.3 1679.8,635.7 1681.8,633.8 1683.8,632.2 1685.8,630.6 1687.7,628.9 1689.6,627.1 1691.5,625.5 1693.4,623.4 1695.4,621.3 1697.5,620.4 1699.8,619.5 1702.1,618.0 1704.6,616.7 1707.0,616.1 1709.5,615.5 1712.0,614.5 1714.3,613.7 1716.6,612.1 1718.7,610.4 1720.9,609.3 1722.9,607.8 1725.0,606.1 1727.0,604.5 1729.0,602.6 1730.8,600.8 1732.6,598.8 1734.5,596.8 1736.3,595.0 1738.4,593.5 1740.7,592.2 1743.1,591.8 1745.7,592.0 1748.2,592.0 1750.4,592.8 1752.4,595.1 1754.1,597.5 1755.8,599.5 1757.3,601.7 1758.7,603.6 1759.9,605.9 1761.1,608.5 1762.2,610.4 1763.2,612.5 1764.2,615.0 1765.2,617.8 1766.1,620.2 1767.0,622.2 1768.0,624.8 1768.8,627.2 1769.6,629.6 1770.4,632.0 1771.2,634.4 1772.0,637.0 1772.9,639.2 1773.7,641.9 1774.6,644.8 1775.5,646.8 1776.3,648.9 1777.2,651.7 1778.1,654.2 1779.0,656.2 1780.1,658.6 1781.3,661.0 1782.7,663.7 1784.2,666.1 1785.9,667.5 1787.7,669.2 1789.8,671.2 1792.2,672.2 1794.7,672.6 1797.2,672.7 1799.8,673.0 1802.4,673.5 1805.0,674.0 1807.6,674.3 1810.2,674.6 1812.8,674.3 1815.3,674.6 1817.9,675.4 1820.4,675.6 1823.0,675.7 1825.6,676.2 1828.1,676.1 1830.6,675.7 1833.1,675.0 1835.4,673.5 1837.6,672.2 1839.6,670.2 1841.4,668.3 1843.0,666.3 1844.5,664.1 1845.9,662.1 1847.3,660.2 1848.7,658.3 1850.2,655.9 1851.6,653.3 1852.9,651.3 1854.2,649.5 1855.8,647.4 1857.9,645.6 1860.4,644.7 1863.0,645.2 1865.5,645.7 1868.0,646.2 1870.6,646.6 1873.2,646.7 1875.7,646.2 1878.1,645.5 1880.6,645.0 1883.2,644.5 1885.5,645.1 1887.7,646.8 1889.5,649.1 1891.2,651.1 1892.8,652.9 1894.5,654.5 1896.3,656.2 1898.1,658.4 1900.0,660.2 1901.9,662.1 1903.8,664.2 1905.9,665.6 1908.3,666.4 1910.8,666.8 1913.3,666.3 1915.6,664.9 1917.8,663.4 1919.9,661.9 1922.1,660.3 1924.2,658.5 1926.4,657.3 1928.5,655.7 1930.5,654.0 1932.6,652.7 1934.9,651.6 1937.2,650.6 1939.7,650.0 1942.2,649.4 1944.8,648.9 1947.4,648.5 1950.0,648.4 1952.6,648.8 1955.1,649.5 1957.6,650.2 1960.2,650.6 1962.7,650.8 1965.3,651.2 1967.9,650.9 1970.3,649.5 1972.7,648.3 1975.0,647.3 1977.3,645.9 1979.6,644.9 1981.7,643.6 1983.8,641.9 1986.0,640.7 1988.5,640.3 1990.8,641.3 1992.7,643.3 1994.3,645.3 1996.1,646.7 1997.9,648.8 1999.8,651.1 2001.8,652.7 2004.3,652.9 2006.8,653.1 2009.4,653.0 2012.0,652.2 2014.4,651.5 2016.9,650.7 2019.3,649.9 2021.7,649.0 2024.1,647.8 2026.3,646.5 2028.5,644.9 2030.7,643.0 2032.9,641.7 2035.1,640.6 2037.3,639.4 2039.6,638.3 2041.9,637.2 2044.2,635.6 2046.5,634.0 2048.6,632.4 2050.5,631.2 2052.4,629.2 2054.1,626.9 2055.8,625.5 2057.4,623.7 2059.0,621.5 2060.4,619.5 2061.8,616.8 2063.2,614.5 2064.7,612.5 2066.1,610.5 2067.6,608.1 2069.0,605.6 2070.5,603.9 2071.0,603.6" fill="none" stroke="#0000ff" stroke-width="11" stroke-linejoin="round" shape-rendering="auto"/><polyline points="635.0,467.4 637.6,467.8 640.2,467.9 642.8,467.3 645.4,467.6 648.0,468.1 650.6,468.1 653.2,468.1 655.8,467.8 658.4,467.5 661.0,468.3 663.6,468.3 666.2,468.4 668.8,469.1 671.4,469.4 674.0,469.6 676.6,468.6 679.2,467.7 681.8,468.5 684.4,468.9 687.0,468.1 689.6,468.3 692.2,469.2 694.8,469.3 697.4,468.2 700.0,467.4 702.6,467.0 705.2,468.1 707.8,468.0 710.4,467.7 713.0,467.9 715.6,467.6 718.2,467.4 720.8,467.6 723.4,467.5 726.0,466.6 728.6,465.8 731.1,466.0 733.7,467.0 736.3,466.3 738.9,466.0 741.5,466.5 744.1,465.6 746.7,465.0 749.3,465.8 751.9,466.0 754.5,465.6 757.1,465.6 759.7,465.1 762.3,465.5 764.9,466.2 767.5,465.9 770.1,465.6 772.7,466.2 775.3,466.9 777.9,466.7 780.5,465.7 783.1,465.5 785.7,465.8 788.3,466.0 790.9,467.1 793.4,468.1 796.0,467.9 798.5,469.1 801.1,470.1 803.6,470.5 806.1,471.4 808.7,471.9 811.1,472.3 813.6,473.6 816.1,473.7 818.5,474.3 821.0,476.2 823.4,476.7 825.8,477.8 828.2,478.3 830.4,479.2 832.5,480.7 834.4,482.5 836.2,485.1 837.6,486.7 839.0,488.5 840.2,491.9 841.5,493.9 842.7,495.2 844.0,498.6 845.3,501.3 846.6,502.2 847.8,504.7 848.9,507.0 850.1,508.8 851.1,512.2 852.1,515.2 853.0,517.1 853.8,519.5 854.6,522.1 855.3,524.5 855.9,526.4 856.5,529.5 857.1,532.9 857.6,534.9 858.1,537.0 858.6,539.8 859.1,542.4 859.6,544.7 860.0,547.9 860.4,551.1 860.8,552.5 861.2,554.2 861.6,557.7 862.0,561.4 862.3,563.8 862.7,565.4 863.0,567.0 863.4,570.5 863.7,574.3 864.1,576.7 864.4,579.0 864.8,582.0 865.1,584.1 865.4,586.8 865.7,588.8 866.0,590.2 866.3,593.8 866.6,597.1 866.9,599.7 867.2,601.3 867.5,603.3 867.8,606.6 868.1,608.7 868.4,611.0 868.7,614.4 869.0,617.9 869.3,620.5 869.6,622.3 869.9,624.5 870.2,627.3 870.5,630.4 870.8,633.6 871.1,635.0 871.4,637.8 871.7,641.3 872.0,642.5 872.3,644.5 872.6,647.4 872.9,649.9 873.2,652.3 873.5,654.8 873.8,658.2 874.2,661.1 874.5,662.8 874.8,666.1 875.1,669.7 875.4,671.3 875.8,674.1 876.1,677.3 876.4,679.4 876.8,681.0 877.1,684.0 877.5,687.6 877.8,690.4 878.1,693.1 878.5,694.5 878.8,697.4 879.2,699.6 879.6,701.5 879.9,704.7 880.3,707.6 880.7,710.1 881.1,713.2 881.4,716.0 881.8,718.6 882.1,721.0 882.5,722.9 882.8,724.5 883.1,727.6 883.5,731.4 883.9,733.2 884.3,736.0 884.7,738.1 885.8,739.8 886.9,739.3 887.9,737.3 888.4,734.5 889.0,731.3 889.5,728.4 890.0,725.6 890.4,723.7 890.9,720.8 891.4,717.6 891.8,716.1 892.3,713.9 892.7,710.3 893.1,707.8 893.6,706.6 894.0,704.0 894.5,700.5 894.9,697.4 895.3,695.3 895.6,692.8 896.0,689.9 896.4,687.0 896.8,685.0 897.1,683.5 897.5,680.7 897.9,677.9 898.2,675.0 898.6,673.1 898.9,670.3 899.3,667.8 899.6,664.6 900.0,661.9 900.3,660.5 900.7,657.7 901.0,654.2 901.3,651.1 901.7,649.7 902.0,648.2 902.4,644.4 902.7,641.2 903.0,639.5 903.4,637.5 903.8,633.7 904.2,630.8 904.5,628.4 904.9,625.2 905.3,623.4 905.7,621.3 906.1,618.0 906.5,616.0 906.9,613.4 907.3,610.2 907.8,607.6 908.2,604.9 908.8,603.3 909.4,600.8 910.0,598.5 910.7,596.4 911.4,593.4 912.1,591.3 912.9,588.4 913.8,584.7 914.8,582.9 915.8,580.4 917.1,578.7 918.5,577.7 920.2,574.9 922.2,572.0 924.3,571.5 926.4,570.0 928.5,568.7 930.5,567.2 932.6,565.5 934.6,564.4 936.8,561.9 939.2,560.3 941.7,560.5 944.1,561.3 946.0,563.9 947.8,565.6 949.5,566.7 951.2,568.6 953.0,570.3 954.9,573.1 956.8,574.8 958.7,576.4 960.6,577.9 962.4,580.3 964.2,583.0 965.9,585.2 967.5,586.0 969.0,588.0 970.3,591.1 971.5,592.9 972.6,595.3 973.7,597.5 974.8,599.8 976.0,602.9 977.2,605.5 978.8,606.7 980.5,607.9 982.7,610.3 985.1,611.0 987.5,611.3 989.8,612.8 991.8,614.3 993.4,616.5 994.8,618.3 996.1,620.5 997.4,623.6 998.7,626.3 1000.2,628.2 1001.9,629.3 1003.8,630.7 1006.0,632.0 1008.4,632.7 1010.9,633.7 1013.4,634.7 1015.8,636.6 1018.2,638.1 1020.3,639.7 1022.3,640.9 1024.2,641.6 1026.1,643.5 1028.1,645.9 1030.4,647.8 1032.8,647.6 1035.3,646.7 1037.5,646.3 1039.8,644.5 1042.3,643.2 1044.8,642.1 1047.4,642.0 1049.9,641.4 1052.5,641.6 1055.1,642.9 1057.6,643.5 1060.2,643.7 1062.6,641.6 1064.3,639.9 1066.4,639.1 1068.8,638.5 1071.4,638.4 1074.0,637.6 1076.6,637.7 1079.2,637.4 1081.8,638.0 1084.4,638.8 1086.9,638.9 1089.5,639.1 1092.0,639.3 1094.5,639.7 1096.7,641.5 1098.6,643.6 1100.2,644.8 1101.6,647.4 1103.1,650.0 1104.5,651.7 1105.9,654.2 1107.3,656.4 1108.7,658.5 1110.1,660.7 1111.8,662.3 1113.6,663.8 1115.8,665.6 1118.3,665.0 1120.3,662.9 1122.1,661.2 1123.7,660.0 1125.1,657.5 1126.4,655.5 1127.7,653.3 1128.7,651.3 1129.8,648.4 1130.7,646.1 1131.7,644.6 1132.7,642.2 1133.8,639.5 1134.8,636.3 1135.9,634.6 1137.0,631.9 1138.1,629.4 1139.4,627.2 1140.8,624.1 1142.5,622.3 1144.6,621.1 1147.0,620.6 1149.3,619.2 1151.5,618.0 1153.4,615.8 1155.1,612.9 1156.7,611.7 1158.2,610.8 1159.8,608.7 1161.6,605.6 1163.5,604.5 1165.4,603.3 1167.3,600.2 1169.5,598.1 1171.9,597.7 1174.3,598.4 1176.4,600.1 1178.4,602.3 1180.3,603.9 1182.7,604.5 1184.6,602.4 1186.3,599.5 1188.2,598.3 1190.7,598.4 1193.3,597.9 1195.9,597.0 1198.4,597.7 1200.7,598.9 1202.7,601.5 1204.4,603.5 1206.0,604.9 1207.8,607.2 1210.2,607.3 1212.4,605.3 1214.2,604.2 1215.8,602.2 1217.3,599.5 1218.7,598.2 1220.4,597.0 1222.1,594.9 1224.1,592.4 1226.4,591.5 1228.7,591.5 1231.1,589.4 1233.5,588.1 1235.9,586.9 1238.2,585.0 1240.5,584.2 1242.5,583.8 1244.4,582.1 1246.1,579.6 1247.8,578.3 1249.7,576.1 1251.6,573.6 1254.0,572.1 1256.4,573.1 1258.2,575.7 1259.9,578.6 1261.9,580.7 1264.3,579.8 1266.5,578.2 1268.5,576.6 1271.0,576.0 1273.2,576.9 1274.8,579.6 1276.4,582.7 1277.8,584.6 1279.2,586.6 1280.7,588.1 1282.1,590.7 1283.4,593.0 1284.6,595.1 1286.0,596.9 1287.6,598.3 1289.9,599.7 1292.1,598.5 1294.0,595.8 1296.0,594.2 1298.1,593.1 1300.1,591.3 1302.3,589.5 1304.7,589.6 1307.1,590.7 1309.0,592.2 1310.6,594.6 1312.0,596.0 1313.3,598.1 1314.4,601.8 1315.3,603.8 1316.1,606.0 1316.8,608.2 1317.4,610.4 1317.9,613.3 1318.4,615.6 1318.9,617.9 1319.5,620.6 1320.1,623.5 1320.6,626.0 1321.1,628.7 1321.6,631.0 1322.1,633.6 1322.8,636.9 1323.7,639.1 1325.0,640.8 1327.0,643.0 1329.4,644.3 1331.8,644.9 1334.0,645.9 1336.1,648.2 1338.4,648.9 1340.9,649.7 1343.2,648.6 1345.0,646.9 1346.7,644.3 1348.4,642.3 1350.5,641.2 1353.0,640.5 1355.5,639.4 1358.1,639.1 1360.7,639.4 1363.3,639.6 1365.9,639.7 1368.4,639.6 1370.6,637.5 1372.7,634.7 1374.6,632.9 1376.5,632.4 1378.4,631.0 1380.2,628.9 1382.0,627.7 1383.7,625.8 1385.5,623.4 1387.5,621.8 1390.0,620.5 1392.4,621.6 1394.4,623.1 1396.5,625.0 1398.4,627.5 1400.6,628.5 1403.0,628.7 1405.5,627.5 1407.8,626.7 1410.0,625.4 1412.3,624.1 1414.8,623.9 1416.9,625.0 1418.5,628.1 1420.0,631.1 1421.3,633.1 1422.6,635.1 1424.0,637.6 1425.4,639.7 1426.8,641.7 1428.1,643.1 1429.5,644.5 1431.2,647.5 1433.3,649.6 1435.6,650.1 1438.1,651.3 1440.7,651.8 1443.3,651.6 1445.9,652.2 1448.5,651.5 1451.0,650.8 1453.6,650.2 1456.1,649.6 1458.6,649.1 1461.0,648.0 1463.2,646.4 1464.9,644.7 1466.3,642.6 1467.5,640.2 1468.6,637.8 1469.8,635.2 1470.9,632.8 1472.1,630.9 1473.2,628.6 1474.4,626.4 1475.6,623.6 1477.4,621.3 1479.6,620.1 1482.2,620.2 1484.6,621.3 1486.4,622.7 1487.5,624.5 1488.6,627.0 1489.6,629.9 1490.6,632.5 1491.7,634.8 1492.8,637.2 1493.8,639.7 1494.9,641.4 1496.1,643.4 1497.6,646.1 1499.4,648.2 1501.7,649.5 1504.2,649.6 1506.6,648.7 1508.7,646.8 1510.9,645.0 1513.2,643.9 1515.7,643.9 1518.2,645.1 1520.4,646.2 1522.6,647.5 1524.8,648.6 1527.2,649.6 1529.8,649.9 1532.4,649.8 1535.0,650.1 1537.6,650.1 1540.0,648.9 1542.4,647.6 1544.6,646.4 1546.7,645.1 1548.9,643.5 1551.0,642.0 1553.1,640.3 1555.2,639.0 1557.2,637.7 1559.3,635.7 1561.3,634.0 1563.4,632.7 1565.5,631.2 1567.6,629.3 1569.7,627.5 1571.8,626.0 1574.0,624.8 1576.1,624.0 1578.3,622.1 1580.6,620.8 1582.8,619.9 1585.2,618.6 1587.7,617.6 1590.2,616.8 1592.7,616.3 1595.1,615.5 1597.3,614.2 1599.5,612.6 1601.6,610.9 1603.7,609.5 1606.1,608.6 1608.5,607.8 1611.1,607.7 1613.6,608.1 1616.2,608.4 1618.8,608.6 1621.3,608.8 1623.9,608.1 1626.4,607.5 1628.9,607.0 1631.4,606.1 1634.0,605.6 1636.6,605.5 1639.2,605.7 1641.7,606.0 1644.3,606.6 1646.7,607.3 1649.0,608.5 1650.9,610.0 1652.8,611.9 1654.5,613.7 1656.1,615.9 1657.6,618.6 1658.9,620.5 1660.2,622.3 1661.4,624.4 1662.7,627.0 1664.2,629.0 1665.7,630.9 1667.3,633.0 1668.9,634.9 1670.8,636.8 1673.0,638.6 1675.5,638.9 1677.8,637.3 1679.8,635.7 1681.8,633.8 1683.8,632.2 1685.8,630.6 1687.7,628.9 1689.6,627.1 1691.5,625.5 1693.4,623.4 1695.4,621.3 1697.5,620.4 1699.8,619.5 1702.1,618.0 1704.6,616.7 1707.0,616.1 1709.5,615.5 1712.0,614.5 1714.3,613.7 1716.6,612.1 1718.7,610.4 1720.9,609.3 1722.9,607.8 1725.0,606.1 1727.0,604.5 1729.0,602.6 1730.8,600.8 1732.6,598.8 1734.5,596.8 1736.3,595.0 1738.4,593.5 1740.7,592.2 1743.1,591.8 1745.7,592.0 1748.2,592.0 1750.4,592.8 1752.4,595.1 1754.1,597.5 1755.8,599.5 1757.3,601.7 1758.7,603.6 1759.9,605.9 1761.1,608.5 1762.2,610.4 1763.2,612.5 1764.2,615.0 1765.2,617.8 1766.1,620.2 1767.0,622.2 1768.0,624.8 1768.8,627.2 1769.6,629.6 1770.4,632.0 1771.2,634.4 1772.0,637.0 1772.9,639.2 1773.7,641.9 1774.6,644.8 1775.5,646.8 1776.3,648.9 1777.2,651.7 1778.1,654.2 1779.0,656.2 1780.1,658.6 1781.3,661.0 1782.7,663.7 1784.2,666.1 1785.9,667.5 1787.7,669.2 1789.8,671.2 1792.2,672.2 1794.7,672.6 1797.2,672.7 1799.8,673.0 1802.4,673.5 1805.0,674.0 1807.6,674.3 1810.2,674.6 1812.8,674.3 1815.3,674.6 1817.9,675.4 1820.4,675.6 1823.0,675.7 1825.6,676.2 1828.1,676.1 1830.6,675.7 1833.1,675.0 1835.4,673.5 1837.6,672.2 1839.6,670.2 1841.4,668.3 1843.0,666.3 1844.5,664.1 1845.9,662.1 1847.3,660.2 1848.7,658.3 1850.2,655.9 1851.6,653.3 1852.9,651.3 1854.2,649.5 1855.8,647.4 1857.9,645.6 1860.4,644.7 1863.0,645.2 1865.5,645.7 1868.0,646.2 1870.6,646.6 1873.2,646.7 1875.7,646.2 1878.1,645.5 1880.6,645.0 1883.2,644.5 1885.5,645.1 1887.7,646.8 1889.5,649.1 1891.2,651.1 1892.8,652.9 1894.5,654.5 1896.3,656.2 1898.1,658.4 1900.0,660.2 1901.9,662.1 1903.8,664.2 1905.9,665.6 1908.3,666.4 1910.8,666.8 1913.3,666.3 1915.6,664.9 1917.8,663.4 1919.9,661.9 1922.1,660.3 1924.2,658.5 1926.4,657.3 1928.5,655.7 1930.5,654.0 1932.6,652.7 1934.9,651.6 1937.2,650.6 1939.7,650.0 1942.2,649.4 1944.8,648.9 1947.4,648.5 1950.0,648.4 1952.6,648.8 1955.1,649.5 1957.6,650.2 1960.2,650.6 1962.7,650.8 1965.3,651.2 1967.9,650.9 1970.3,649.5 1972.7,648.3 1975.0,647.3 1977.3,645.9 1979.6,644.9 1981.7,643.6 1983.8,641.9 1986.0,640.7 1988.5,640.3 1990.8,641.3 1992.7,643.3 1994.3,645.3 1996.1,646.7 1997.9,648.8 1999.8,651.1 2001.8,652.7 2004.3,652.9 2006.8,653.1 2009.4,653.0 2012.0,652.2 2014.4,651.5 2016.9,650.7 2019.3,649.9 2021.7,649.0 2024.1,647.8 2026.3,646.5 2028.5,644.9 2030.7,643.0 2032.9,641.7 2035.1,640.6 2037.3,639.4 2039.6,638.3 2041.9,637.2 2044.2,635.6 2046.5,634.0 2048.6,632.4 2050.5,631.2 2052.4,629.2 2054.1,626.9 2055.8,625.5 2057.4,623.7 2059.0,621.5 2060.4,619.5 2061.8,616.8 2063.2,614.5 2064.7,612.5 2066.1,610.5 2067.6,608.1 2069.0,605.6 2070.5,603.9 2071.0,603.6" fill="none" stroke="#0000ff" stroke-width="12" stroke-linejoin="round" shape-rendering="crispEdges"/></g>
<line x1="1113.6" y1="299" x2="1117.2" y2="1297" stroke="#000" stroke-width="7.6"/>
<polygon points="1114.3,1300.8 1128.8,1300.8 1122,1325" fill="#000"/>
<g clip-path="url(#cl)"><polyline points="261.3,786.0 262.8,784.4 264.3,781.9 265.8,779.3 267.3,776.9 268.8,775.9 270.2,773.2 271.7,769.5 273.0,771.3 273.7,774.0 274.6,776.6 275.9,775.5 276.7,772.6 277.7,770.4 278.9,772.0 279.6,775.0 280.5,777.1 281.8,775.6 282.6,773.1 283.5,771.7 284.8,772.8 285.6,775.8 286.3,779.1 287.8,778.2 288.6,774.3 289.6,772.8 290.9,775.2 291.7,776.9 292.7,779.2 294.5,778.1 296.6,777.8 298.6,780.5 300.1,782.3 301.5,784.8 302.8,785.7 304.1,787.3 305.4,790.6 306.7,793.4 307.9,794.8 309.3,795.7 310.6,798.6 311.9,800.6 313.1,803.2 314.4,805.0 315.6,807.1 316.8,810.3 318.0,811.8 319.1,814.3 320.2,817.4 321.3,819.5 322.4,822.8 323.4,826.1 324.4,828.5 325.5,829.5 326.5,830.1 327.4,832.9 328.4,835.4 329.4,838.7 330.4,841.2 331.3,842.5 332.2,845.0 333.1,848.0 333.9,851.5 334.7,853.9 335.5,855.6 336.1,858.6 336.8,860.4 337.3,862.1 337.9,866.1 338.4,869.7 339.0,870.8 339.7,872.0 340.3,875.5 341.1,879.2 341.9,880.5 342.7,882.7 343.5,885.6 344.3,887.3 345.3,889.5 346.3,892.4 347.4,895.3 348.6,897.2 350.0,899.9 351.4,903.6 353.0,905.7 354.6,905.9 356.4,908.0 358.3,910.8 360.3,911.0 362.5,912.1 365.0,914.1 367.5,914.8 369.8,914.1 372.0,911.8 374.0,909.6 376.0,908.7 377.7,905.8 379.3,903.0 380.8,900.4 382.2,899.0 383.6,897.9 385.1,894.5 386.6,891.5 388.1,890.1 389.6,889.1 391.1,886.0 392.5,883.1 394.0,881.7 395.3,879.3 396.7,878.1 397.9,876.6 399.1,874.5 400.2,871.8 401.3,869.0 402.4,865.8 403.6,863.2 404.8,861.2 406.0,858.9 407.3,855.7 408.6,854.5 409.8,852.1 411.2,849.3 412.6,848.7 414.1,846.5 415.6,844.4 417.3,841.7 419.0,839.1 420.8,837.5 422.7,835.4 424.6,833.6 426.5,832.1 428.4,831.3 430.2,830.5 431.9,826.8 433.6,824.5 435.3,823.3 436.9,820.7 438.5,817.6 440.0,815.5 441.4,813.8 442.8,811.7 444.0,810.0 445.2,807.6 446.3,804.6 447.3,802.1 448.3,801.2 449.3,798.8 450.3,796.6 451.3,793.5 452.3,790.7 453.2,788.9 454.2,786.7 455.2,784.1 456.4,782.3 457.7,780.1 459.2,776.1 461.0,774.7 463.3,774.8 465.9,773.8 468.5,774.8 471.0,776.6 473.5,776.0 476.1,774.8 478.7,774.9 481.3,775.9 483.9,776.5 486.1,776.6 487.8,778.7 488.9,782.0 490.1,784.5 491.4,786.3 493.5,788.1 495.9,787.8 498.0,785.0 499.9,782.7 501.9,782.5 504.0,780.4 506.0,778.0 508.0,776.4 510.2,775.4 512.7,775.9 515.2,775.6 517.3,776.0 519.2,777.5 521.2,779.2 523.3,781.8 525.4,783.9 527.6,786.3 529.8,787.3 532.2,787.5 534.8,786.5 537.2,785.3 539.5,784.6 541.7,783.1 543.9,783.0 546.3,782.0 548.7,779.8 551.2,779.5 553.7,778.6 556.1,777.0 558.4,776.7 560.3,774.6 562.3,773.5 564.6,772.8 567.2,771.5 569.6,773.0 572.1,775.6 574.6,775.5 576.9,774.1 578.8,772.8 580.7,769.6 582.7,767.1 584.8,766.7 587.2,765.4 589.7,765.3 592.3,764.6 594.8,762.4 597.4,761.7 600.0,762.8 602.5,763.2 604.3,765.6 605.6,769.8 606.7,772.7 607.8,775.1 609.3,775.6 611.6,775.2 614.0,775.9 616.3,778.8 618.7,779.5 621.0,779.1 621.0,780.6" fill="none" stroke="#000080" stroke-width="11" stroke-linejoin="round" shape-rendering="auto"/><polyline points="261.3,786.0 262.8,784.4 264.3,781.9 265.8,779.3 267.3,776.9 268.8,775.9 270.2,773.2 271.7,769.5 273.0,771.3 273.7,774.0 274.6,776.6 275.9,775.5 276.7,772.6 277.7,770.4 278.9,772.0 279.6,775.0 280.5,777.1 281.8,775.6 282.6,773.1 283.5,771.7 284.8,772.8 285.6,775.8 286.3,779.1 287.8,778.2 288.6,774.3 289.6,772.8 290.9,775.2 291.7,776.9 292.7,779.2 294.5,778.1 296.6,777.8 298.6,780.5 300.1,782.3 301.5,784.8 302.8,785.7 304.1,787.3 305.4,790.6 306.7,793.4 307.9,794.8 309.3,795.7 310.6,798.6 311.9,800.6 313.1,803.2 314.4,805.0 315.6,807.1 316.8,810.3 318.0,811.8 319.1,814.3 320.2,817.4 321.3,819.5 322.4,822.8 323.4,826.1 324.4,828.5 325.5,829.5 326.5,830.1 327.4,832.9 328.4,835.4 329.4,838.7 330.4,841.2 331.3,842.5 332.2,845.0 333.1,848.0 333.9,851.5 334.7,853.9 335.5,855.6 336.1,858.6 336.8,860.4 337.3,862.1 337.9,866.1 338.4,869.7 339.0,870.8 339.7,872.0 340.3,875.5 341.1,879.2 341.9,880.5 342.7,882.7 343.5,885.6 344.3,887.3 345.3,889.5 346.3,892.4 347.4,895.3 348.6,897.2 350.0,899.9 351.4,903.6 353.0,905.7 354.6,905.9 356.4,908.0 358.3,910.8 360.3,911.0 362.5,912.1 365.0,914.1 367.5,914.8 369.8,914.1 372.0,911.8 374.0,909.6 376.0,908.7 377.7,905.8 379.3,903.0 380.8,900.4 382.2,899.0 383.6,897.9 385.1,894.5 386.6,891.5 388.1,890.1 389.6,889.1 391.1,886.0 392.5,883.1 394.0,881.7 395.3,879.3 396.7,878.1 397.9,876.6 399.1,874.5 400.2,871.8 401.3,869.0 402.4,865.8 403.6,863.2 404.8,861.2 406.0,858.9 407.3,855.7 408.6,854.5 409.8,852.1 411.2,849.3 412.6,848.7 414.1,846.5 415.6,844.4 417.3,841.7 419.0,839.1 420.8,837.5 422.7,835.4 424.6,833.6 426.5,832.1 428.4,831.3 430.2,830.5 431.9,826.8 433.6,824.5 435.3,823.3 436.9,820.7 438.5,817.6 440.0,815.5 441.4,813.8 442.8,811.7 444.0,810.0 445.2,807.6 446.3,804.6 447.3,802.1 448.3,801.2 449.3,798.8 450.3,796.6 451.3,793.5 452.3,790.7 453.2,788.9 454.2,786.7 455.2,784.1 456.4,782.3 457.7,780.1 459.2,776.1 461.0,774.7 463.3,774.8 465.9,773.8 468.5,774.8 471.0,776.6 473.5,776.0 476.1,774.8 478.7,774.9 481.3,775.9 483.9,776.5 486.1,776.6 487.8,778.7 488.9,782.0 490.1,784.5 491.4,786.3 493.5,788.1 495.9,787.8 498.0,785.0 499.9,782.7 501.9,782.5 504.0,780.4 506.0,778.0 508.0,776.4 510.2,775.4 512.7,775.9 515.2,775.6 517.3,776.0 519.2,777.5 521.2,779.2 523.3,781.8 525.4,783.9 527.6,786.3 529.8,787.3 532.2,787.5 534.8,786.5 537.2,785.3 539.5,784.6 541.7,783.1 543.9,783.0 546.3,782.0 548.7,779.8 551.2,779.5 553.7,778.6 556.1,777.0 558.4,776.7 560.3,774.6 562.3,773.5 564.6,772.8 567.2,771.5 569.6,773.0 572.1,775.6 574.6,775.5 576.9,774.1 578.8,772.8 580.7,769.6 582.7,767.1 584.8,766.7 587.2,765.4 589.7,765.3 592.3,764.6 594.8,762.4 597.4,761.7 600.0,762.8 602.5,763.2 604.3,765.6 605.6,769.8 606.7,772.7 607.8,775.1 609.3,775.6 611.6,775.2 614.0,775.9 616.3,778.8 618.7,779.5 621.0,779.1 621.0,780.6" fill="none" stroke="#000080" stroke-width="12" stroke-linejoin="round" shape-rendering="crispEdges"/></g>
<g clip-path="url(#cr)"><polyline points="635.0,791.8 637.6,791.8 640.2,791.2 642.7,791.4 645.3,789.7 647.9,789.0 650.5,790.0 653.0,790.2 655.6,789.1 658.2,787.2 660.8,786.8 663.4,788.4 666.0,787.2 668.6,785.7 671.2,787.5 673.8,787.3 676.3,785.5 678.9,785.2 681.5,786.7 684.1,786.4 686.7,785.4 689.3,786.1 691.9,787.0 694.5,786.7 697.1,785.4 699.7,786.1 702.2,786.2 704.8,785.9 707.3,786.8 709.8,788.8 712.4,789.4 714.9,790.1 717.5,789.9 720.1,789.0 722.7,788.5 725.2,789.6 727.7,790.5 730.2,788.5 732.7,786.8 735.3,786.2 737.9,787.9 740.3,789.2 742.7,789.1 745.1,791.0 747.6,792.7 750.1,792.8 752.7,791.5 755.2,791.7 757.8,791.8 760.3,790.6 762.8,789.2 765.4,790.2 768.0,791.6 770.6,791.1 773.2,791.6 775.8,791.4 778.4,790.2 781.0,789.4 783.5,790.5 786.1,791.5 788.7,791.5 791.3,793.0 793.9,794.1 796.4,792.4 799.0,793.3 801.5,793.3 804.1,793.6 806.6,794.6 809.2,794.8 811.7,795.5 813.8,793.3 815.8,791.5 818.1,789.1 820.7,788.8 823.3,788.4 825.9,788.1 828.5,788.4 831.1,787.4 833.7,788.5 836.2,787.8 838.8,786.4 841.0,784.9 842.9,784.2 844.8,782.7 847.2,780.5 849.7,780.3 852.2,781.7 854.5,783.9 857.0,784.1 859.5,783.7 862.1,785.2 864.6,785.8 867.2,783.9 869.6,782.8 872.1,782.0 874.7,781.3 877.2,781.4 879.8,781.1 882.3,781.1 884.7,782.2 886.7,784.1 888.6,786.6 890.5,789.7 892.5,791.5 894.6,792.1 896.7,792.1 898.8,793.1 901.3,795.3 903.1,793.9 904.2,792.2 905.2,790.9 906.1,787.1 907.7,783.9 909.9,783.6 912.1,785.8 914.1,786.8 916.2,787.6 918.6,790.3 921.2,790.5 923.8,790.8 926.3,790.0 928.7,788.9 930.5,787.1 931.7,783.2 932.6,781.2 933.5,778.8 935.1,777.8 937.5,778.8 939.7,779.3 941.8,781.4 943.9,782.8 946.3,784.0 948.8,784.0 951.2,781.2 953.3,779.0 955.3,778.8 956.9,776.1 957.9,774.4 958.5,771.3 959.1,768.6 960.4,767.5 962.8,767.4 964.8,769.1 966.7,771.2 968.7,772.2 970.8,773.1 973.1,773.6 975.4,775.8 977.9,778.3 980.3,777.0 982.1,775.3 983.3,772.8 984.5,769.2 985.9,768.1 988.0,768.5 990.1,768.2 991.6,770.5 993.1,772.9 994.7,774.9 996.5,776.5 998.7,778.6 1001.1,779.3 1003.6,778.3 1006.2,778.4 1008.6,779.2 1010.8,780.5 1012.8,783.9 1014.5,785.4 1016.1,786.1 1017.5,788.7 1018.8,791.0 1020.0,794.6 1020.9,796.5 1021.7,799.0 1022.4,802.1 1023.0,803.4 1023.6,805.8 1024.3,809.2 1025.0,811.6 1025.9,813.8 1027.3,816.3 1029.3,817.8 1031.8,817.9 1034.2,816.3 1036.8,815.9 1038.4,818.6 1039.3,820.2 1041.1,822.3 1043.6,821.5 1046.2,821.4 1048.7,821.9 1050.3,823.8 1051.7,826.1 1052.6,828.9 1053.5,831.2 1054.1,833.5 1054.8,836.2 1055.5,839.0 1056.1,841.4 1056.7,843.7 1057.3,846.3 1057.8,848.9 1058.4,851.4 1058.9,853.9 1059.3,856.5 1059.8,859.2 1060.1,861.7 1060.5,864.2 1060.9,866.6 1061.2,869.1 1061.5,871.7 1061.9,874.3 1062.2,876.9 1062.5,879.4 1062.8,882.2 1063.1,884.7 1063.4,887.4 1063.6,890.1 1063.9,892.7 1064.2,895.4 1064.4,897.7 1064.7,900.0 1064.9,903.0 1065.1,905.7 1065.4,907.9 1065.6,910.4 1065.9,912.9 1066.1,915.6 1066.3,918.1 1066.6,920.6 1066.8,923.2 1067.0,926.0 1067.2,928.8 1067.5,931.4 1067.7,934.0 1067.9,936.6 1068.1,939.0 1068.3,941.7 1068.5,944.4 1068.7,946.9 1069.0,949.7 1069.2,952.2 1069.4,954.7 1069.6,957.4 1069.8,959.9 1070.0,962.3 1070.2,964.8 1070.4,967.4 1070.6,970.0 1070.9,972.6 1071.1,975.2 1071.3,977.9 1071.5,980.8 1071.7,983.3 1072.0,985.6 1072.2,988.1 1072.4,991.0 1072.7,993.8 1072.9,996.3 1073.1,998.9 1073.3,1001.3 1073.6,1003.7 1073.8,1006.4 1074.0,1009.0 1074.3,1011.6 1074.5,1014.1 1074.7,1016.9 1075.0,1019.4 1075.2,1021.9 1075.5,1024.8 1075.7,1027.1 1076.0,1029.6 1076.2,1032.2 1076.5,1034.8 1076.8,1037.6 1077.1,1040.4 1077.4,1042.7 1077.7,1045.0 1078.0,1047.7 1078.3,1050.5 1078.7,1052.8 1079.1,1055.6 1079.4,1058.5 1079.8,1060.9 1080.2,1063.1 1080.6,1065.6 1081.0,1068.5 1081.4,1071.2 1081.9,1073.6 1082.3,1076.3 1082.7,1078.7 1083.1,1081.2 1083.5,1084.0 1083.9,1086.7 1084.3,1088.9 1084.6,1091.5 1085.0,1094.2 1085.3,1096.8 1085.7,1099.2 1086.0,1101.9 1086.3,1104.8 1086.5,1107.0 1086.8,1109.5 1087.1,1112.2 1087.4,1114.8 1087.6,1117.3 1087.9,1119.8 1088.1,1122.6 1088.3,1125.2 1088.5,1127.7 1088.8,1130.3 1089.0,1132.8 1089.2,1135.6 1089.4,1138.4 1089.6,1140.7 1089.9,1143.1 1090.1,1145.8 1090.3,1148.5 1090.5,1151.3 1090.7,1154.0 1090.9,1156.2 1091.1,1158.8 1091.3,1161.3 1091.6,1163.9 1091.8,1166.7 1092.0,1169.1 1092.2,1171.5 1092.4,1174.1 1092.7,1176.8 1092.9,1179.7 1093.1,1182.0 1093.3,1184.7 1093.5,1187.4 1093.7,1190.1 1094.0,1192.7 1094.2,1195.1 1094.4,1197.6 1094.6,1200.4 1094.8,1203.0 1095.1,1205.5 1095.3,1208.2 1095.5,1210.8 1095.8,1213.3 1096.0,1215.6 1096.2,1218.1 1096.5,1220.9 1096.7,1223.5 1096.9,1225.8 1097.2,1228.5 1097.4,1231.4 1097.6,1233.9 1097.9,1236.3 1098.1,1238.9 1098.4,1241.8 1098.6,1244.7 1098.8,1247.3 1099.1,1249.7 1099.3,1252.1 1099.5,1254.5 1099.8,1257.1 1100.1,1259.9 1100.3,1262.5 1100.6,1264.9 1100.8,1267.6 1101.1,1270.5 1101.3,1272.7 1101.6,1275.0 1101.9,1277.8 1102.2,1280.5 1102.5,1283.2 1102.8,1285.7 1103.1,1288.4 1103.4,1291.0 1103.8,1293.2 1104.1,1296.1 1104.4,1298.9 1104.7,1301.4 1105.1,1303.7 1105.4,1306.4 1105.8,1309.0 1106.1,1311.4 1106.4,1314.2 1106.8,1316.6 1107.2,1318.9 1107.6,1321.7 1108.0,1324.4 1108.5,1327.1 1108.9,1329.8 1109.5,1332.1 1110.2,1334.6 1110.9,1336.9 1111.6,1339.4 1112.5,1342.0 1113.5,1344.2 1114.6,1346.5 1116.1,1348.8 1118.1,1349.6 1119.9,1347.6 1120.9,1345.1 1121.8,1342.5 1122.5,1340.0 1123.3,1337.9 1124.0,1335.5 1124.7,1332.9 1125.3,1330.6 1125.8,1327.8 1126.4,1325.3 1127.0,1323.1 1127.4,1320.3 1127.8,1317.7 1128.3,1315.0 1128.7,1312.3 1129.1,1309.7 1129.4,1307.3 1129.8,1305.1 1130.1,1302.6 1130.5,1299.8 1130.8,1297.2 1131.2,1294.7 1131.5,1291.8 1131.9,1289.1 1132.2,1286.5 1132.6,1284.0 1132.9,1281.5 1133.3,1278.8 1133.7,1276.1 1134.0,1273.6 1134.4,1271.2 1134.7,1268.9 1135.1,1266.3 1135.4,1263.8 1135.8,1261.0 1136.1,1258.2 1136.4,1255.7 1136.8,1253.0 1137.1,1250.6 1137.4,1248.0 1137.8,1245.2 1138.1,1243.0 1138.4,1240.4 1138.8,1237.7 1139.1,1235.2 1139.5,1232.4 1139.8,1229.7 1140.1,1227.5 1140.5,1225.2 1140.8,1222.6 1141.2,1219.8 1141.5,1217.0 1141.9,1214.3 1142.2,1211.9 1142.6,1209.3 1142.9,1206.8 1143.3,1204.6 1143.6,1202.1 1144.0,1199.2 1144.3,1196.4 1144.7,1193.7 1145.1,1191.5 1145.4,1189.2 1145.8,1186.6 1146.2,1183.9 1146.6,1181.3 1146.9,1178.8 1147.3,1176.1 1147.7,1173.4 1148.1,1171.0 1148.5,1168.5 1148.9,1165.7 1149.3,1163.0 1149.7,1160.4 1150.1,1158.1 1150.6,1155.6 1151.0,1153.0 1151.4,1150.5 1151.8,1148.0 1152.3,1145.3 1152.7,1142.4 1153.1,1140.0 1153.6,1137.5 1154.0,1134.7 1154.5,1132.1 1154.9,1129.7 1155.4,1127.3 1155.9,1124.6 1156.4,1121.8 1156.8,1119.4 1157.4,1117.0 1157.9,1114.4 1158.4,1112.0 1158.9,1109.5 1159.4,1106.7 1159.9,1104.3 1160.4,1102.0 1160.8,1099.2 1161.1,1096.5 1161.5,1093.9 1161.8,1091.2 1162.0,1088.9 1162.3,1086.3 1162.6,1083.4 1162.9,1081.1 1163.2,1078.6 1163.5,1076.0 1163.9,1073.3 1164.4,1070.8 1164.9,1068.5 1165.6,1066.1 1166.4,1063.2 1167.1,1060.5 1168.0,1058.1 1168.9,1055.9 1169.9,1053.5 1170.9,1051.1 1171.9,1048.6 1172.9,1046.0 1173.9,1043.7 1174.8,1041.3 1175.7,1039.0 1176.5,1036.8 1177.3,1034.1 1178.0,1031.6 1178.8,1029.4 1179.8,1026.8 1180.7,1024.0 1182.6,1022.2 1184.7,1022.9 1186.3,1025.0 1187.7,1027.5 1189.0,1029.9 1190.3,1031.8 1191.9,1033.6 1193.6,1035.6 1195.4,1037.4 1197.4,1039.3 1199.5,1040.9 1202.0,1041.3 1203.9,1039.9 1205.5,1038.0 1206.4,1035.7 1207.4,1033.4 1208.3,1030.8 1209.3,1028.2 1210.5,1026.0 1212.1,1024.0 1214.4,1023.1 1216.9,1024.1 1219.3,1025.1 1221.9,1024.9 1224.3,1023.8 1226.4,1022.3 1228.2,1020.6 1229.9,1018.6 1231.3,1016.2 1232.5,1013.8 1233.3,1011.4 1234.2,1008.9 1235.0,1006.7 1235.4,1004.4 1235.9,1001.6 1236.4,998.8 1236.8,996.5 1237.2,994.1 1237.6,991.5 1237.9,988.8 1238.3,985.9 1238.7,983.4 1239.1,981.0 1239.6,978.3 1240.0,975.9 1240.5,973.5 1241.1,971.0 1241.6,968.4 1242.2,965.9 1242.7,963.5 1243.2,960.9 1243.8,958.1 1244.3,955.7 1244.9,953.3 1245.4,950.8 1246.0,948.3 1246.5,945.4 1247.1,942.9 1247.7,940.6 1248.3,937.9 1248.8,935.1 1249.4,932.7 1249.9,930.5 1250.5,927.8 1251.0,924.9 1251.5,922.3 1252.1,919.8 1252.7,917.5 1253.3,915.1 1253.9,912.4 1254.5,909.6 1255.4,907.4 1256.3,905.1 1257.4,902.7 1258.7,900.6 1260.4,898.4 1262.3,899.0 1263.4,901.4 1263.9,904.0 1264.4,906.4 1264.7,909.2 1265.0,911.8 1265.4,914.2 1265.7,916.9 1266.0,919.4 1266.3,921.8 1266.6,924.5 1266.9,927.0 1267.1,929.6 1267.4,932.4 1267.7,935.2 1267.9,937.7 1268.1,940.1 1268.3,942.8 1268.5,945.4 1268.7,947.8 1268.9,950.4 1269.1,952.9 1269.3,955.3 1269.4,958.3 1269.6,960.8 1269.8,963.1 1269.9,966.1 1270.1,968.7 1270.2,971.0 1270.4,973.5 1270.6,976.3 1270.7,979.1 1270.9,981.5 1271.1,984.3 1271.3,987.0 1271.4,989.5 1271.6,991.9 1271.8,994.3 1272.0,997.2 1272.2,999.8 1272.3,1002.5 1272.5,1005.1 1272.7,1007.7 1272.9,1010.3 1273.1,1012.8 1273.2,1015.2 1273.4,1017.7 1273.6,1020.6 1273.8,1023.4 1274.0,1026.0 1274.1,1028.7 1274.3,1031.3 1274.5,1033.8 1274.7,1036.1 1274.9,1038.5 1275.0,1041.2 1275.2,1044.1 1275.4,1046.6 1275.6,1049.0 1275.8,1051.6 1276.0,1054.4 1276.2,1056.9 1276.4,1059.3 1276.5,1062.0 1276.7,1064.6 1276.9,1066.9 1277.1,1069.7 1277.3,1072.5 1277.5,1075.2 1277.7,1077.7 1277.9,1080.0 1278.1,1082.9 1278.3,1085.5 1278.5,1088.2 1278.7,1090.8 1278.9,1093.3 1279.1,1095.7 1279.3,1098.2 1279.5,1101.1 1279.7,1103.5 1279.9,1106.0 1280.1,1108.9 1280.3,1111.5 1280.5,1114.0 1280.7,1116.5 1280.9,1119.1 1281.1,1121.6 1281.3,1124.4 1281.5,1127.2 1281.7,1129.5 1281.9,1131.7 1282.2,1134.6 1282.4,1137.3 1282.6,1139.8 1282.8,1142.3 1283.0,1145.1 1283.2,1147.9 1283.4,1150.4 1283.6,1153.0 1283.8,1155.3 1284.0,1157.8 1284.2,1160.4 1284.5,1163.1 1284.7,1165.9 1284.9,1168.4 1285.2,1171.0 1285.4,1173.3 1285.7,1175.9 1286.0,1178.6 1286.2,1181.4 1286.5,1184.1 1286.8,1186.7 1287.0,1189.2 1287.4,1191.8 1287.7,1194.2 1288.7,1195.4 1289.6,1192.9 1290.1,1190.3 1290.6,1188.0 1291.1,1185.4 1291.4,1182.6 1291.8,1180.0 1292.2,1177.4 1292.6,1174.8 1293.0,1172.3 1293.4,1169.8 1293.8,1167.2 1294.2,1164.8 1294.6,1162.4 1295.0,1159.8 1295.4,1157.1 1295.8,1154.5 1296.1,1152.2 1296.5,1149.7 1296.8,1146.9 1297.2,1144.2 1297.6,1141.7 1297.9,1139.0 1298.3,1136.5 1298.7,1134.0 1299.1,1131.3 1299.5,1128.6 1299.9,1126.2 1300.3,1123.8 1300.7,1121.3 1301.2,1118.6 1301.7,1115.7 1302.1,1113.1 1302.6,1110.5 1303.1,1108.3 1303.6,1105.8 1304.2,1103.0 1304.7,1100.5 1305.2,1098.0 1305.8,1095.7 1306.3,1093.0 1306.9,1090.5 1307.4,1088.1 1308.0,1085.7 1308.6,1082.9 1309.1,1080.3 1309.6,1077.7 1310.2,1075.2 1310.7,1072.6 1311.2,1069.8 1311.6,1067.4 1312.2,1065.2 1312.8,1062.8 1313.4,1060.2 1314.3,1057.8 1315.4,1055.3 1316.9,1053.3 1319.1,1051.6 1321.7,1051.2 1324.2,1051.8 1326.6,1052.6 1328.9,1054.2 1331.2,1055.4 1333.3,1057.0 1335.4,1058.6 1337.3,1060.2 1339.1,1062.1 1340.8,1064.1 1342.4,1066.2 1343.8,1068.2 1344.8,1070.4 1345.9,1073.1 1346.8,1075.5 1347.6,1077.9 1348.3,1080.7 1349.1,1082.9 1349.8,1085.1 1350.6,1087.7 1351.5,1090.4 1352.5,1092.7 1353.6,1094.9 1354.8,1097.4 1356.1,1099.9 1357.5,1101.9 1359.1,1104.1 1361.3,1105.2 1363.3,1103.7 1364.6,1101.6 1365.6,1099.4 1366.5,1097.2 1367.3,1094.6 1368.2,1092.0 1369.0,1089.6 1369.7,1086.8 1370.3,1084.4 1371.0,1081.8 1371.6,1079.1 1372.1,1076.9 1372.6,1074.6 1373.0,1071.9 1373.5,1069.2 1374.0,1066.5 1374.4,1063.9 1374.9,1061.2 1375.5,1058.6 1376.2,1056.1 1377.0,1053.8 1377.8,1051.5 1378.9,1049.4 1380.1,1047.1 1381.4,1044.7 1382.8,1042.2 1384.6,1040.5 1386.6,1041.1 1388.0,1043.1 1388.6,1045.4 1389.2,1048.2 1389.8,1051.0 1390.2,1053.3 1390.6,1055.9 1391.0,1058.3 1391.4,1060.7 1391.9,1063.6 1392.3,1066.2 1392.7,1068.7 1393.1,1071.4 1393.5,1074.0 1393.8,1076.4 1394.1,1078.9 1394.4,1081.5 1394.7,1084.2 1395.1,1086.8 1395.5,1089.1 1396.3,1091.5 1397.5,1094.0 1399.7,1092.8 1401.5,1090.9 1403.0,1088.8 1404.4,1086.7 1405.5,1084.5 1406.5,1081.8 1407.5,1079.2 1409.1,1077.7 1410.9,1079.7 1412.1,1081.7 1413.1,1084.1 1414.1,1086.7 1414.9,1089.4 1415.8,1091.7 1416.6,1093.8 1417.3,1096.4 1418.0,1098.9 1418.5,1101.6 1419.1,1104.1 1419.5,1106.8 1419.9,1109.2 1420.2,1111.7 1420.4,1114.7 1420.6,1117.1 1420.9,1119.4 1421.1,1122.0 1421.3,1124.7 1421.5,1127.5 1421.6,1130.0 1421.7,1132.6 1421.9,1135.3 1422.0,1137.9 1422.1,1140.6 1422.2,1143.1 1422.3,1145.6 1422.4,1148.4 1422.5,1150.8 1422.6,1153.4 1422.7,1156.2 1422.8,1158.6 1422.9,1161.0 1423.0,1163.8 1423.1,1166.7 1423.2,1169.1 1423.3,1171.6 1423.4,1174.1 1423.6,1176.5 1423.7,1179.2 1423.8,1181.8 1423.9,1184.4 1424.1,1187.1 1424.3,1189.9 1424.4,1192.5 1424.6,1195.0 1424.8,1197.3 1424.9,1200.1 1425.1,1202.9 1425.3,1205.2 1425.5,1207.7 1425.7,1210.3 1425.8,1212.7 1426.0,1215.5 1426.2,1218.3 1426.4,1221.1 1426.6,1223.5 1426.8,1225.8 1427.0,1228.4 1427.2,1231.1 1427.4,1233.6 1427.6,1236.5 1427.9,1239.1 1428.1,1241.7 1428.4,1244.2 1428.6,1246.8 1428.9,1249.4 1429.1,1251.8 1429.4,1254.5 1429.7,1257.1 1430.0,1259.6 1430.3,1262.4 1430.5,1265.0 1430.8,1267.6 1431.1,1270.3 1431.5,1272.8 1431.8,1275.4 1432.2,1278.1 1432.6,1280.3 1433.0,1282.7 1433.5,1285.5 1434.0,1288.1 1434.5,1290.4 1435.1,1293.0 1435.7,1295.8 1436.3,1298.3 1437.0,1300.5 1437.8,1303.1 1438.7,1305.7 1440.4,1306.6 1441.7,1304.4 1442.4,1302.1 1443.1,1299.3 1443.6,1296.8 1444.1,1294.4 1444.6,1291.6 1445.1,1288.8 1445.6,1286.4 1446.1,1284.2 1446.5,1281.3 1447.0,1278.8 1447.4,1276.3 1447.9,1273.6 1448.2,1270.8 1448.6,1268.2 1449.0,1266.0 1449.3,1263.3 1449.7,1260.8 1450.0,1258.2 1450.3,1255.4 1450.7,1253.1 1451.0,1250.5 1451.3,1247.8 1451.6,1245.4 1451.9,1242.6 1452.2,1239.8 1452.5,1237.4 1452.8,1235.0 1453.1,1232.3 1453.4,1229.9 1453.7,1227.2 1453.9,1224.5 1454.2,1222.0 1454.5,1219.7 1454.7,1217.2 1455.0,1214.4 1455.2,1211.9 1455.5,1209.5 1455.8,1206.8 1456.0,1204.2 1456.3,1201.6 1456.5,1198.8 1456.7,1196.1 1457.0,1193.6 1457.2,1190.9 1457.5,1188.2 1457.7,1185.5 1458.0,1182.9 1458.2,1180.4 1458.5,1178.1 1458.7,1175.8 1459.0,1173.1 1459.2,1170.4 1459.5,1167.7 1459.8,1164.9 1460.0,1162.6 1460.3,1160.2 1460.5,1157.3 1460.8,1154.7 1461.0,1152.1 1461.3,1149.4 1461.5,1146.8 1461.8,1144.5 1462.1,1142.0 1462.3,1139.4 1462.6,1136.9 1462.8,1134.4 1463.1,1131.7 1463.3,1129.2 1463.6,1126.4 1463.9,1123.8 1464.1,1121.3 1464.4,1118.5 1464.7,1116.0 1464.9,1113.4 1465.2,1110.8 1465.5,1108.2 1465.7,1105.5 1465.9,1102.8 1466.2,1100.5 1466.4,1097.9 1466.6,1095.3 1466.8,1092.7 1467.0,1090.1 1467.3,1087.6 1467.5,1085.0 1467.7,1082.5 1467.9,1080.0 1468.2,1077.3 1468.5,1074.5 1468.8,1071.8 1469.1,1069.5 1469.6,1067.0 1470.0,1064.4 1470.5,1061.7 1471.1,1059.2 1471.7,1056.6 1472.5,1054.0 1473.3,1051.6 1474.2,1049.2 1475.2,1046.7 1476.8,1046.0 1477.8,1048.3 1478.3,1051.0 1478.6,1053.6 1478.9,1056.2 1479.2,1059.0 1479.4,1061.5 1479.6,1064.0 1479.8,1066.7 1480.0,1069.3 1480.2,1071.6 1480.4,1074.3 1480.6,1076.9 1480.8,1079.6 1481.0,1082.3 1481.2,1084.9 1481.4,1087.4 1481.6,1089.8 1481.8,1092.5 1482.0,1094.9 1482.2,1097.7 1482.4,1100.3 1482.6,1102.6 1482.7,1105.2 1482.9,1108.1 1483.1,1110.9 1483.2,1113.2 1483.4,1115.9 1483.6,1118.7 1483.7,1121.1 1483.9,1123.5 1484.0,1126.3 1484.1,1128.8 1484.3,1131.2 1484.4,1134.0 1484.6,1136.5 1484.7,1139.2 1484.9,1141.9 1485.1,1144.5 1485.2,1146.9 1485.4,1149.2 1485.5,1152.2 1485.7,1154.7 1485.9,1157.2 1486.0,1159.7 1486.2,1162.4 1486.4,1165.1 1486.5,1167.8 1486.7,1170.3 1486.9,1172.7 1487.0,1175.5 1487.2,1178.0 1487.4,1180.7 1487.6,1183.5 1487.7,1186.1 1487.9,1188.6 1488.1,1191.1 1488.3,1193.6 1488.4,1196.3 1488.6,1199.1 1488.8,1201.5 1489.0,1204.0 1489.1,1206.7 1489.3,1209.5 1489.5,1211.9 1489.7,1214.2 1489.9,1216.9 1490.1,1219.7 1490.2,1222.4 1490.4,1225.0 1490.6,1227.7 1490.8,1230.1 1491.0,1232.3 1491.2,1234.8 1491.4,1237.6 1491.6,1240.3 1491.8,1243.1 1492.0,1245.8 1492.2,1248.4 1492.4,1250.6 1492.6,1253.0 1492.8,1256.0 1493.0,1258.6 1493.2,1260.8 1493.3,1263.5 1493.5,1266.2 1493.7,1268.8 1493.9,1271.6 1494.2,1274.1 1494.4,1276.6 1494.6,1279.2 1494.9,1281.8 1495.1,1284.4 1495.4,1287.1 1495.7,1289.9 1496.0,1292.4 1496.3,1294.7 1496.6,1297.1 1496.9,1299.8 1497.3,1302.3 1497.6,1305.1 1498.0,1307.8 1498.4,1310.4 1498.8,1313.0 1499.3,1315.6 1500.2,1318.0 1501.8,1318.4 1503.0,1316.1 1504.0,1313.5 1504.8,1311.1 1505.7,1308.7 1506.6,1306.2 1507.4,1303.7 1508.3,1301.4 1509.0,1298.9 1509.8,1296.3 1510.7,1293.7 1512.0,1291.6 1513.9,1292.0 1515.2,1294.4 1516.3,1296.8 1517.3,1299.1 1518.3,1301.6 1519.4,1303.8 1520.6,1306.1 1521.9,1308.4 1523.3,1310.7 1524.6,1312.7 1526.1,1314.7 1528.1,1316.4 1530.4,1316.4 1532.1,1314.6 1533.5,1312.2 1534.7,1310.0 1535.8,1307.7 1536.8,1305.1 1537.6,1302.7 1538.4,1300.1 1539.1,1297.6 1539.7,1295.1 1540.2,1292.5 1540.7,1290.2 1541.1,1287.4 1541.6,1284.6 1542.0,1282.4 1542.5,1280.1 1542.9,1277.3 1543.5,1274.4 1544.0,1272.0 1544.5,1269.7 1545.2,1267.2 1545.8,1264.7 1546.5,1262.2 1547.1,1259.8 1547.8,1257.2 1548.5,1254.5 1549.2,1251.9 1549.9,1249.2 1550.6,1247.0 1551.4,1244.7 1552.1,1242.3 1552.9,1239.7 1553.6,1237.0 1554.4,1234.6 1555.1,1232.4 1555.9,1229.5 1556.7,1226.9 1557.5,1224.8 1558.2,1222.1 1559.0,1219.7 1559.8,1217.4 1560.7,1215.0 1561.5,1212.6 1562.3,1209.8 1563.2,1207.0 1564.1,1204.7 1565.1,1202.5 1566.0,1200.1 1567.0,1197.5 1567.9,1195.2 1568.9,1193.0 1569.9,1190.7 1571.0,1188.1 1572.1,1185.4 1573.3,1183.0 1574.6,1181.0 1575.9,1178.7 1577.5,1176.5 1579.2,1174.6 1581.1,1172.7 1582.9,1170.9 1584.6,1169.0 1586.2,1167.1 1587.4,1164.9 1588.6,1162.5 1589.7,1160.1 1590.7,1158.0 1591.7,1155.6 1592.7,1153.1 1593.6,1150.7 1594.7,1148.2 1595.7,1145.7 1596.8,1143.5 1598.1,1141.5 1599.3,1139.2 1600.6,1137.0 1601.9,1134.4 1603.2,1132.1 1604.6,1129.8 1605.9,1127.5 1607.3,1125.3 1608.8,1123.3 1610.2,1121.1 1611.8,1119.0 1613.3,1116.9 1614.8,1114.9 1616.1,1112.5 1617.4,1110.4 1618.4,1108.3 1619.5,1105.8 1620.5,1103.5 1621.4,1100.9 1622.3,1098.5 1623.1,1096.2 1623.9,1093.5 1624.7,1090.8 1625.6,1088.4 1626.4,1085.9 1627.2,1083.4 1628.0,1081.1 1628.8,1078.8 1629.6,1076.3 1630.4,1073.7 1631.2,1071.0 1632.0,1068.4 1632.8,1066.2 1633.6,1063.9 1634.3,1061.5 1635.1,1059.0 1636.0,1056.2 1636.8,1053.8 1637.7,1051.6 1638.6,1049.3 1639.4,1046.8 1640.3,1044.4 1641.2,1041.8 1642.1,1039.2 1643.1,1037.0 1644.1,1034.7 1645.9,1032.6 1647.3,1034.4 1648.0,1036.9 1648.6,1039.5 1649.0,1042.0 1649.4,1044.8 1649.8,1047.7 1650.2,1049.9 1650.5,1052.5 1650.9,1055.3 1651.2,1057.8 1651.6,1060.3 1651.9,1062.8 1652.2,1065.4 1652.5,1067.8 1652.8,1070.2 1653.0,1072.9 1653.3,1075.4 1653.6,1078.2 1653.8,1080.8 1654.0,1083.2 1654.3,1086.0 1654.5,1088.5 1654.7,1091.0 1655.0,1093.8 1655.2,1096.6 1655.5,1098.9 1655.8,1101.7 1656.0,1104.2 1656.3,1106.8 1656.6,1109.4 1656.9,1111.9 1657.2,1114.7 1657.5,1117.1 1657.8,1119.4 1658.1,1122.0 1658.4,1124.9 1658.8,1127.3 1659.1,1129.9 1659.4,1132.8 1659.8,1135.1 1660.1,1137.4 1660.5,1140.1 1661.0,1142.6 1661.4,1145.2 1661.8,1147.7 1662.2,1150.4 1662.6,1153.0 1663.1,1155.6 1663.5,1158.3 1664.1,1160.9 1665.2,1163.1 1666.9,1162.0 1667.9,1159.5 1668.9,1157.0 1669.6,1154.4 1670.4,1152.2 1671.2,1149.6 1671.9,1147.1 1672.5,1144.8 1673.1,1142.0 1673.7,1139.5 1674.2,1137.1 1674.7,1134.6 1675.1,1132.0 1675.6,1129.6 1676.1,1126.8 1676.5,1124.1 1676.9,1121.8 1677.4,1119.2 1677.9,1116.4 1678.4,1113.9 1678.9,1111.4 1679.5,1108.7 1680.0,1106.3 1680.6,1104.1 1681.3,1101.5 1681.9,1098.8 1682.5,1096.4 1683.1,1094.0 1683.9,1091.5 1684.6,1089.0 1685.4,1086.4 1686.5,1084.1 1687.6,1081.9 1689.1,1079.5 1690.9,1077.4 1693.1,1077.2 1694.6,1079.3 1695.5,1082.1 1696.3,1084.5 1697.0,1086.7 1697.6,1089.4 1698.3,1092.1 1698.9,1094.5 1699.5,1097.1 1700.1,1099.6 1700.5,1102.2 1701.0,1105.0 1701.4,1107.6 1701.9,1110.0 1702.4,1112.3 1703.2,1114.6 1704.1,1117.2 1705.5,1119.7 1707.1,1121.9 1709.2,1123.2 1711.7,1123.3 1714.1,1122.1 1716.0,1120.2 1717.9,1118.5 1719.6,1116.5 1721.2,1114.4 1722.7,1112.3 1724.1,1110.5 1725.2,1108.1 1726.2,1105.4 1727.2,1102.9 1727.9,1100.5 1728.7,1097.8 1729.4,1095.3 1730.1,1093.0 1730.8,1090.7 1731.5,1088.1 1732.5,1085.9 1733.4,1083.2 1734.5,1080.7 1735.7,1078.6 1737.0,1076.3 1738.4,1074.2 1739.9,1072.2 1741.8,1070.4 1744.1,1069.9 1746.2,1071.5 1747.7,1073.8 1749.1,1075.9 1750.2,1078.3 1751.3,1080.7 1752.2,1083.1 1753.2,1085.3 1754.0,1087.7 1754.6,1090.1 1755.2,1092.9 1755.8,1095.7 1756.3,1098.2 1756.6,1100.5 1756.9,1103.1 1757.2,1105.6 1757.5,1108.1 1757.7,1110.9 1757.9,1113.3 1758.2,1115.8 1758.4,1118.5 1758.6,1121.2 1758.9,1123.7 1759.2,1126.1 1759.5,1129.0 1759.7,1131.7 1760.0,1134.4 1760.4,1137.0 1760.8,1139.3 1761.1,1141.7 1761.5,1144.5 1761.8,1147.3 1762.2,1149.7 1762.5,1152.1 1762.9,1154.7 1763.2,1157.1 1763.6,1159.9 1764.0,1162.5 1764.4,1164.9 1764.7,1167.8 1765.1,1170.1 1765.5,1172.5 1766.0,1175.1 1766.5,1177.7 1767.0,1180.5 1767.5,1183.0 1768.0,1185.5 1768.5,1188.1 1769.1,1190.4 1769.7,1192.8 1770.3,1195.8 1771.0,1198.1 1771.8,1200.6 1772.7,1203.2 1773.9,1205.4 1775.3,1207.5 1777.1,1209.5 1779.3,1211.0 1781.8,1210.5 1783.8,1209.0 1785.4,1207.1 1786.8,1204.6 1788.1,1202.6 1789.2,1200.3 1790.1,1197.5 1791.0,1195.3 1791.7,1192.8 1792.3,1190.0 1792.9,1187.4 1793.5,1184.9 1794.2,1182.7 1794.9,1180.5 1795.7,1177.7 1796.6,1175.1 1797.7,1173.0 1798.8,1170.6 1799.9,1167.9 1801.3,1165.8 1802.9,1164.0 1805.1,1163.3 1807.4,1164.5 1809.0,1166.4 1810.6,1168.7 1811.9,1171.0 1813.2,1173.1 1814.5,1175.2 1815.7,1177.6 1817.0,1180.1 1818.1,1182.3 1819.2,1184.7 1820.2,1187.0 1821.1,1189.6 1822.0,1192.2 1822.9,1194.7 1823.7,1197.1 1824.7,1199.5 1825.6,1201.6 1826.5,1203.8 1827.5,1206.3 1828.4,1208.9 1829.4,1211.3 1830.4,1213.7 1831.4,1216.2 1832.6,1218.6 1833.8,1220.6 1835.4,1222.9 1837.2,1224.9 1839.5,1224.4 1841.0,1222.1 1842.2,1219.6 1843.2,1217.3 1844.1,1215.2 1844.9,1212.5 1845.6,1210.0 1846.2,1207.7 1846.7,1204.9 1847.1,1202.1 1847.6,1199.6 1848.0,1197.0 1848.6,1194.8 1849.2,1192.1 1849.8,1189.4 1850.6,1187.0 1851.4,1184.9 1852.3,1182.3 1853.2,1179.7 1854.3,1177.5 1855.3,1175.3 1856.4,1172.7 1857.6,1170.0 1858.9,1168.1 1860.2,1166.0 1861.6,1163.8 1863.1,1161.8 1864.6,1159.4 1866.1,1157.4 1867.6,1155.6 1869.1,1153.3 1870.6,1151.1 1872.1,1149.1 1873.4,1146.9 1874.8,1144.7 1876.1,1142.3 1877.5,1139.9 1878.8,1137.6 1880.1,1135.5 1881.5,1133.5 1882.8,1131.1 1884.3,1128.8 1885.7,1126.9 1887.2,1124.7 1888.7,1122.2 1890.3,1120.2 1891.9,1118.3 1893.5,1116.3 1895.2,1114.4 1896.9,1112.5 1898.6,1110.3 1900.4,1108.3 1902.3,1106.5 1904.2,1105.1 1906.1,1103.4 1908.0,1101.7 1910.0,1099.9 1912.0,1098.1 1913.9,1096.3 1915.8,1094.3 1917.7,1092.8 1919.6,1090.9 1921.4,1088.9 1923.3,1087.3 1925.1,1085.3 1927.0,1083.5 1928.9,1081.8 1930.7,1079.9 1932.9,1078.7 1935.4,1078.7 1937.7,1080.0 1939.7,1081.7 1941.6,1083.6 1943.0,1085.5 1944.1,1088.0 1945.0,1090.6 1945.7,1092.9 1946.4,1095.3 1947.1,1097.9 1947.8,1100.4 1948.4,1102.9 1949.0,1105.7 1949.5,1108.4 1950.2,1110.8 1950.8,1113.2 1951.6,1115.5 1952.5,1118.2 1953.7,1120.6 1955.1,1122.5 1957.0,1123.9 1959.4,1123.7 1961.3,1122.1 1963.0,1119.9 1964.7,1117.8 1966.3,1116.2 1968.0,1114.4 1969.6,1112.0 1971.2,1109.8 1972.7,1107.9 1974.3,1105.8 1975.8,1103.8 1977.4,1101.7 1978.9,1099.6 1980.4,1097.6 1981.9,1095.5 1983.4,1093.2 1984.9,1090.7 1986.1,1088.7 1987.2,1086.4 1988.2,1083.8 1989.4,1081.6 1991.2,1080.1 1992.5,1082.4 1993.2,1085.0 1993.7,1087.6 1994.2,1090.3 1994.7,1092.9 1995.2,1095.1 1995.6,1097.6 1996.0,1100.3 1996.3,1103.0 1996.6,1105.4 1996.9,1107.8 1997.2,1110.6 1997.6,1113.2 1998.1,1115.9 1998.5,1118.3 1999.1,1120.7 2000.1,1122.9 2002.1,1122.2 2003.6,1120.4 2004.9,1118.2 2005.9,1115.5 2006.7,1112.8 2007.3,1110.6 2007.8,1108.0 2008.3,1105.2 2008.8,1102.8 2009.2,1100.4 2009.8,1098.1 2010.4,1095.5 2011.1,1093.0 2011.8,1090.6 2012.6,1087.8 2013.5,1085.1 2014.3,1082.9 2015.3,1080.4 2016.2,1077.9 2017.3,1075.8 2018.4,1073.4 2019.6,1070.9 2020.9,1068.9 2022.3,1066.8 2023.8,1064.5 2025.4,1062.3 2026.9,1060.2 2028.5,1058.2 2030.0,1056.0 2031.5,1053.9 2033.0,1051.6 2034.5,1049.8 2035.9,1047.6 2037.4,1045.1 2038.9,1042.9 2040.4,1041.1 2042.0,1039.1 2043.5,1037.2 2045.2,1035.0 2046.8,1032.7 2048.5,1030.8 2050.3,1029.1 2052.1,1027.3 2053.9,1025.5 2055.9,1023.7 2057.9,1022.2 2059.9,1020.8 2062.0,1019.0 2064.0,1017.3 2066.0,1015.5 2068.0,1014.0 2070.0,1012.5 2071.0,1011.5" fill="none" stroke="#000080" stroke-width="11" stroke-linejoin="round" shape-rendering="auto"/><polyline points="635.0,791.8 637.6,791.8 640.2,791.2 642.7,791.4 645.3,789.7 647.9,789.0 650.5,790.0 653.0,790.2 655.6,789.1 658.2,787.2 660.8,786.8 663.4,788.4 666.0,787.2 668.6,785.7 671.2,787.5 673.8,787.3 676.3,785.5 678.9,785.2 681.5,786.7 684.1,786.4 686.7,785.4 689.3,786.1 691.9,787.0 694.5,786.7 697.1,785.4 699.7,786.1 702.2,786.2 704.8,785.9 707.3,786.8 709.8,788.8 712.4,789.4 714.9,790.1 717.5,789.9 720.1,789.0 722.7,788.5 725.2,789.6 727.7,790.5 730.2,788.5 732.7,786.8 735.3,786.2 737.9,787.9 740.3,789.2 742.7,789.1 745.1,791.0 747.6,792.7 750.1,792.8 752.7,791.5 755.2,791.7 757.8,791.8 760.3,790.6 762.8,789.2 765.4,790.2 768.0,791.6 770.6,791.1 773.2,791.6 775.8,791.4 778.4,790.2 781.0,789.4 783.5,790.5 786.1,791.5 788.7,791.5 791.3,793.0 793.9,794.1 796.4,792.4 799.0,793.3 801.5,793.3 804.1,793.6 806.6,794.6 809.2,794.8 811.7,795.5 813.8,793.3 815.8,791.5 818.1,789.1 820.7,788.8 823.3,788.4 825.9,788.1 828.5,788.4 831.1,787.4 833.7,788.5 836.2,787.8 838.8,786.4 841.0,784.9 842.9,784.2 844.8,782.7 847.2,780.5 849.7,780.3 852.2,781.7 854.5,783.9 857.0,784.1 859.5,783.7 862.1,785.2 864.6,785.8 867.2,783.9 869.6,782.8 872.1,782.0 874.7,781.3 877.2,781.4 879.8,781.1 882.3,781.1 884.7,782.2 886.7,784.1 888.6,786.6 890.5,789.7 892.5,791.5 894.6,792.1 896.7,792.1 898.8,793.1 901.3,795.3 903.1,793.9 904.2,792.2 905.2,790.9 906.1,787.1 907.7,783.9 909.9,783.6 912.1,785.8 914.1,786.8 916.2,787.6 918.6,790.3 921.2,790.5 923.8,790.8 926.3,790.0 928.7,788.9 930.5,787.1 931.7,783.2 932.6,781.2 933.5,778.8 935.1,777.8 937.5,778.8 939.7,779.3 941.8,781.4 943.9,782.8 946.3,784.0 948.8,784.0 951.2,781.2 953.3,779.0 955.3,778.8 956.9,776.1 957.9,774.4 958.5,771.3 959.1,768.6 960.4,767.5 962.8,767.4 964.8,769.1 966.7,771.2 968.7,772.2 970.8,773.1 973.1,773.6 975.4,775.8 977.9,778.3 980.3,777.0 982.1,775.3 983.3,772.8 984.5,769.2 985.9,768.1 988.0,768.5 990.1,768.2 991.6,770.5 993.1,772.9 994.7,774.9 996.5,776.5 998.7,778.6 1001.1,779.3 1003.6,778.3 1006.2,778.4 1008.6,779.2 1010.8,780.5 1012.8,783.9 1014.5,785.4 1016.1,786.1 1017.5,788.7 1018.8,791.0 1020.0,794.6 1020.9,796.5 1021.7,799.0 1022.4,802.1 1023.0,803.4 1023.6,805.8 1024.3,809.2 1025.0,811.6 1025.9,813.8 1027.3,816.3 1029.3,817.8 1031.8,817.9 1034.2,816.3 1036.8,815.9 1038.4,818.6 1039.3,820.2 1041.1,822.3 1043.6,821.5 1046.2,821.4 1048.7,821.9 1050.3,823.8 1051.7,826.1 1052.6,828.9 1053.5,831.2 1054.1,833.5 1054.8,836.2 1055.5,839.0 1056.1,841.4 1056.7,843.7 1057.3,846.3 1057.8,848.9 1058.4,851.4 1058.9,853.9 1059.3,856.5 1059.8,859.2 1060.1,861.7 1060.5,864.2 1060.9,866.6 1061.2,869.1 1061.5,871.7 1061.9,874.3 1062.2,876.9 1062.5,879.4 1062.8,882.2 1063.1,884.7 1063.4,887.4 1063.6,890.1 1063.9,892.7 1064.2,895.4 1064.4,897.7 1064.7,900.0 1064.9,903.0 1065.1,905.7 1065.4,907.9 1065.6,910.4 1065.9,912.9 1066.1,915.6 1066.3,918.1 1066.6,920.6 1066.8,923.2 1067.0,926.0 1067.2,928.8 1067.5,931.4 1067.7,934.0 1067.9,936.6 1068.1,939.0 1068.3,941.7 1068.5,944.4 1068.7,946.9 1069.0,949.7 1069.2,952.2 1069.4,954.7 1069.6,957.4 1069.8,959.9 1070.0,962.3 1070.2,964.8 1070.4,967.4 1070.6,970.0 1070.9,972.6 1071.1,975.2 1071.3,977.9 1071.5,980.8 1071.7,983.3 1072.0,985.6 1072.2,988.1 1072.4,991.0 1072.7,993.8 1072.9,996.3 1073.1,998.9 1073.3,1001.3 1073.6,1003.7 1073.8,1006.4 1074.0,1009.0 1074.3,1011.6 1074.5,1014.1 1074.7,1016.9 1075.0,1019.4 1075.2,1021.9 1075.5,1024.8 1075.7,1027.1 1076.0,1029.6 1076.2,1032.2 1076.5,1034.8 1076.8,1037.6 1077.1,1040.4 1077.4,1042.7 1077.7,1045.0 1078.0,1047.7 1078.3,1050.5 1078.7,1052.8 1079.1,1055.6 1079.4,1058.5 1079.8,1060.9 1080.2,1063.1 1080.6,1065.6 1081.0,1068.5 1081.4,1071.2 1081.9,1073.6 1082.3,1076.3 1082.7,1078.7 1083.1,1081.2 1083.5,1084.0 1083.9,1086.7 1084.3,1088.9 1084.6,1091.5 1085.0,1094.2 1085.3,1096.8 1085.7,1099.2 1086.0,1101.9 1086.3,1104.8 1086.5,1107.0 1086.8,1109.5 1087.1,1112.2 1087.4,1114.8 1087.6,1117.3 1087.9,1119.8 1088.1,1122.6 1088.3,1125.2 1088.5,1127.7 1088.8,1130.3 1089.0,1132.8 1089.2,1135.6 1089.4,1138.4 1089.6,1140.7 1089.9,1143.1 1090.1,1145.8 1090.3,1148.5 1090.5,1151.3 1090.7,1154.0 1090.9,1156.2 1091.1,1158.8 1091.3,1161.3 1091.6,1163.9 1091.8,1166.7 1092.0,1169.1 1092.2,1171.5 1092.4,1174.1 1092.7,1176.8 1092.9,1179.7 1093.1,1182.0 1093.3,1184.7 1093.5,1187.4 1093.7,1190.1 1094.0,1192.7 1094.2,1195.1 1094.4,1197.6 1094.6,1200.4 1094.8,1203.0 1095.1,1205.5 1095.3,1208.2 1095.5,1210.8 1095.8,1213.3 1096.0,1215.6 1096.2,1218.1 1096.5,1220.9 1096.7,1223.5 1096.9,1225.8 1097.2,1228.5 1097.4,1231.4 1097.6,1233.9 1097.9,1236.3 1098.1,1238.9 1098.4,1241.8 1098.6,1244.7 1098.8,1247.3 1099.1,1249.7 1099.3,1252.1 1099.5,1254.5 1099.8,1257.1 1100.1,1259.9 1100.3,1262.5 1100.6,1264.9 1100.8,1267.6 1101.1,1270.5 1101.3,1272.7 1101.6,1275.0 1101.9,1277.8 1102.2,1280.5 1102.5,1283.2 1102.8,1285.7 1103.1,1288.4 1103.4,1291.0 1103.8,1293.2 1104.1,1296.1 1104.4,1298.9 1104.7,1301.4 1105.1,1303.7 1105.4,1306.4 1105.8,1309.0 1106.1,1311.4 1106.4,1314.2 1106.8,1316.6 1107.2,1318.9 1107.6,1321.7 1108.0,1324.4 1108.5,1327.1 1108.9,1329.8 1109.5,1332.1 1110.2,1334.6 1110.9,1336.9 1111.6,1339.4 1112.5,1342.0 1113.5,1344.2 1114.6,1346.5 1116.1,1348.8 1118.1,1349.6 1119.9,1347.6 1120.9,1345.1 1121.8,1342.5 1122.5,1340.0 1123.3,1337.9 1124.0,1335.5 1124.7,1332.9 1125.3,1330.6 1125.8,1327.8 1126.4,1325.3 1127.0,1323.1 1127.4,1320.3 1127.8,1317.7 1128.3,1315.0 1128.7,1312.3 1129.1,1309.7 1129.4,1307.3 1129.8,1305.1 1130.1,1302.6 1130.5,1299.8 1130.8,1297.2 1131.2,1294.7 1131.5,1291.8 1131.9,1289.1 1132.2,1286.5 1132.6,1284.0 1132.9,1281.5 1133.3,1278.8 1133.7,1276.1 1134.0,1273.6 1134.4,1271.2 1134.7,1268.9 1135.1,1266.3 1135.4,1263.8 1135.8,1261.0 1136.1,1258.2 1136.4,1255.7 1136.8,1253.0 1137.1,1250.6 1137.4,1248.0 1137.8,1245.2 1138.1,1243.0 1138.4,1240.4 1138.8,1237.7 1139.1,1235.2 1139.5,1232.4 1139.8,1229.7 1140.1,1227.5 1140.5,1225.2 1140.8,1222.6 1141.2,1219.8 1141.5,1217.0 1141.9,1214.3 1142.2,1211.9 1142.6,1209.3 1142.9,1206.8 1143.3,1204.6 1143.6,1202.1 1144.0,1199.2 1144.3,1196.4 1144.7,1193.7 1145.1,1191.5 1145.4,1189.2 1145.8,1186.6 1146.2,1183.9 1146.6,1181.3 1146.9,1178.8 1147.3,1176.1 1147.7,1173.4 1148.1,1171.0 1148.5,1168.5 1148.9,1165.7 1149.3,1163.0 1149.7,1160.4 1150.1,1158.1 1150.6,1155.6 1151.0,1153.0 1151.4,1150.5 1151.8,1148.0 1152.3,1145.3 1152.7,1142.4 1153.1,1140.0 1153.6,1137.5 1154.0,1134.7 1154.5,1132.1 1154.9,1129.7 1155.4,1127.3 1155.9,1124.6 1156.4,1121.8 1156.8,1119.4 1157.4,1117.0 1157.9,1114.4 1158.4,1112.0 1158.9,1109.5 1159.4,1106.7 1159.9,1104.3 1160.4,1102.0 1160.8,1099.2 1161.1,1096.5 1161.5,1093.9 1161.8,1091.2 1162.0,1088.9 1162.3,1086.3 1162.6,1083.4 1162.9,1081.1 1163.2,1078.6 1163.5,1076.0 1163.9,1073.3 1164.4,1070.8 1164.9,1068.5 1165.6,1066.1 1166.4,1063.2 1167.1,1060.5 1168.0,1058.1 1168.9,1055.9 1169.9,1053.5 1170.9,1051.1 1171.9,1048.6 1172.9,1046.0 1173.9,1043.7 1174.8,1041.3 1175.7,1039.0 1176.5,1036.8 1177.3,1034.1 1178.0,1031.6 1178.8,1029.4 1179.8,1026.8 1180.7,1024.0 1182.6,1022.2 1184.7,1022.9 1186.3,1025.0 1187.7,1027.5 1189.0,1029.9 1190.3,1031.8 1191.9,1033.6 1193.6,1035.6 1195.4,1037.4 1197.4,1039.3 1199.5,1040.9 1202.0,1041.3 1203.9,1039.9 1205.5,1038.0 1206.4,1035.7 1207.4,1033.4 1208.3,1030.8 1209.3,1028.2 1210.5,1026.0 1212.1,1024.0 1214.4,1023.1 1216.9,1024.1 1219.3,1025.1 1221.9,1024.9 1224.3,1023.8 1226.4,1022.3 1228.2,1020.6 1229.9,1018.6 1231.3,1016.2 1232.5,1013.8 1233.3,1011.4 1234.2,1008.9 1235.0,1006.7 1235.4,1004.4 1235.9,1001.6 1236.4,998.8 1236.8,996.5 1237.2,994.1 1237.6,991.5 1237.9,988.8 1238.3,985.9 1238.7,983.4 1239.1,981.0 1239.6,978.3 1240.0,975.9 1240.5,973.5 1241.1,971.0 1241.6,968.4 1242.2,965.9 1242.7,963.5 1243.2,960.9 1243.8,958.1 1244.3,955.7 1244.9,953.3 1245.4,950.8 1246.0,948.3 1246.5,945.4 1247.1,942.9 1247.7,940.6 1248.3,937.9 1248.8,935.1 1249.4,932.7 1249.9,930.5 1250.5,927.8 1251.0,924.9 1251.5,922.3 1252.1,919.8 1252.7,917.5 1253.3,915.1 1253.9,912.4 1254.5,909.6 1255.4,907.4 1256.3,905.1 1257.4,902.7 1258.7,900.6 1260.4,898.4 1262.3,899.0 1263.4,901.4 1263.9,904.0 1264.4,906.4 1264.7,909.2 1265.0,911.8 1265.4,914.2 1265.7,916.9 1266.0,919.4 1266.3,921.8 1266.6,924.5 1266.9,927.0 1267.1,929.6 1267.4,932.4 1267.7,935.2 1267.9,937.7 1268.1,940.1 1268.3,942.8 1268.5,945.4 1268.7,947.8 1268.9,950.4 1269.1,952.9 1269.3,955.3 1269.4,958.3 1269.6,960.8 1269.8,963.1 1269.9,966.1 1270.1,968.7 1270.2,971.0 1270.4,973.5 1270.6,976.3 1270.7,979.1 1270.9,981.5 1271.1,984.3 1271.3,987.0 1271.4,989.5 1271.6,991.9 1271.8,994.3 1272.0,997.2 1272.2,999.8 1272.3,1002.5 1272.5,1005.1 1272.7,1007.7 1272.9,1010.3 1273.1,1012.8 1273.2,1015.2 1273.4,1017.7 1273.6,1020.6 1273.8,1023.4 1274.0,1026.0 1274.1,1028.7 1274.3,1031.3 1274.5,1033.8 1274.7,1036.1 1274.9,1038.5 1275.0,1041.2 1275.2,1044.1 1275.4,1046.6 1275.6,1049.0 1275.8,1051.6 1276.0,1054.4 1276.2,1056.9 1276.4,1059.3 1276.5,1062.0 1276.7,1064.6 1276.9,1066.9 1277.1,1069.7 1277.3,1072.5 1277.5,1075.2 1277.7,1077.7 1277.9,1080.0 1278.1,1082.9 1278.3,1085.5 1278.5,1088.2 1278.7,1090.8 1278.9,1093.3 1279.1,1095.7 1279.3,1098.2 1279.5,1101.1 1279.7,1103.5 1279.9,1106.0 1280.1,1108.9 1280.3,1111.5 1280.5,1114.0 1280.7,1116.5 1280.9,1119.1 1281.1,1121.6 1281.3,1124.4 1281.5,1127.2 1281.7,1129.5 1281.9,1131.7 1282.2,1134.6 1282.4,1137.3 1282.6,1139.8 1282.8,1142.3 1283.0,1145.1 1283.2,1147.9 1283.4,1150.4 1283.6,1153.0 1283.8,1155.3 1284.0,1157.8 1284.2,1160.4 1284.5,1163.1 1284.7,1165.9 1284.9,1168.4 1285.2,1171.0 1285.4,1173.3 1285.7,1175.9 1286.0,1178.6 1286.2,1181.4 1286.5,1184.1 1286.8,1186.7 1287.0,1189.2 1287.4,1191.8 1287.7,1194.2 1288.7,1195.4 1289.6,1192.9 1290.1,1190.3 1290.6,1188.0 1291.1,1185.4 1291.4,1182.6 1291.8,1180.0 1292.2,1177.4 1292.6,1174.8 1293.0,1172.3 1293.4,1169.8 1293.8,1167.2 1294.2,1164.8 1294.6,1162.4 1295.0,1159.8 1295.4,1157.1 1295.8,1154.5 1296.1,1152.2 1296.5,1149.7 1296.8,1146.9 1297.2,1144.2 1297.6,1141.7 1297.9,1139.0 1298.3,1136.5 1298.7,1134.0 1299.1,1131.3 1299.5,1128.6 1299.9,1126.2 1300.3,1123.8 1300.7,1121.3 1301.2,1118.6 1301.7,1115.7 1302.1,1113.1 1302.6,1110.5 1303.1,1108.3 1303.6,1105.8 1304.2,1103.0 1304.7,1100.5 1305.2,1098.0 1305.8,1095.7 1306.3,1093.0 1306.9,1090.5 1307.4,1088.1 1308.0,1085.7 1308.6,1082.9 1309.1,1080.3 1309.6,1077.7 1310.2,1075.2 1310.7,1072.6 1311.2,1069.8 1311.6,1067.4 1312.2,1065.2 1312.8,1062.8 1313.4,1060.2 1314.3,1057.8 1315.4,1055.3 1316.9,1053.3 1319.1,1051.6 1321.7,1051.2 1324.2,1051.8 1326.6,1052.6 1328.9,1054.2 1331.2,1055.4 1333.3,1057.0 1335.4,1058.6 1337.3,1060.2 1339.1,1062.1 1340.8,1064.1 1342.4,1066.2 1343.8,1068.2 1344.8,1070.4 1345.9,1073.1 1346.8,1075.5 1347.6,1077.9 1348.3,1080.7 1349.1,1082.9 1349.8,1085.1 1350.6,1087.7 1351.5,1090.4 1352.5,1092.7 1353.6,1094.9 1354.8,1097.4 1356.1,1099.9 1357.5,1101.9 1359.1,1104.1 1361.3,1105.2 1363.3,1103.7 1364.6,1101.6 1365.6,1099.4 1366.5,1097.2 1367.3,1094.6 1368.2,1092.0 1369.0,1089.6 1369.7,1086.8 1370.3,1084.4 1371.0,1081.8 1371.6,1079.1 1372.1,1076.9 1372.6,1074.6 1373.0,1071.9 1373.5,1069.2 1374.0,1066.5 1374.4,1063.9 1374.9,1061.2 1375.5,1058.6 1376.2,1056.1 1377.0,1053.8 1377.8,1051.5 1378.9,1049.4 1380.1,1047.1 1381.4,1044.7 1382.8,1042.2 1384.6,1040.5 1386.6,1041.1 1388.0,1043.1 1388.6,1045.4 1389.2,1048.2 1389.8,1051.0 1390.2,1053.3 1390.6,1055.9 1391.0,1058.3 1391.4,1060.7 1391.9,1063.6 1392.3,1066.2 1392.7,1068.7 1393.1,1071.4 1393.5,1074.0 1393.8,1076.4 1394.1,1078.9 1394.4,1081.5 1394.7,1084.2 1395.1,1086.8 1395.5,1089.1 1396.3,1091.5 1397.5,1094.0 1399.7,1092.8 1401.5,1090.9 1403.0,1088.8 1404.4,1086.7 1405.5,1084.5 1406.5,1081.8 1407.5,1079.2 1409.1,1077.7 1410.9,1079.7 1412.1,1081.7 1413.1,1084.1 1414.1,1086.7 1414.9,1089.4 1415.8,1091.7 1416.6,1093.8 1417.3,1096.4 1418.0,1098.9 1418.5,1101.6 1419.1,1104.1 1419.5,1106.8 1419.9,1109.2 1420.2,1111.7 1420.4,1114.7 1420.6,1117.1 1420.9,1119.4 1421.1,1122.0 1421.3,1124.7 1421.5,1127.5 1421.6,1130.0 1421.7,1132.6 1421.9,1135.3 1422.0,1137.9 1422.1,1140.6 1422.2,1143.1 1422.3,1145.6 1422.4,1148.4 1422.5,1150.8 1422.6,1153.4 1422.7,1156.2 1422.8,1158.6 1422.9,1161.0 1423.0,1163.8 1423.1,1166.7 1423.2,1169.1 1423.3,1171.6 1423.4,1174.1 1423.6,1176.5 1423.7,1179.2 1423.8,1181.8 1423.9,1184.4 1424.1,1187.1 1424.3,1189.9 1424.4,1192.5 1424.6,1195.0 1424.8,1197.3 1424.9,1200.1 1425.1,1202.9 1425.3,1205.2 1425.5,1207.7 1425.7,1210.3 1425.8,1212.7 1426.0,1215.5 1426.2,1218.3 1426.4,1221.1 1426.6,1223.5 1426.8,1225.8 1427.0,1228.4 1427.2,1231.1 1427.4,1233.6 1427.6,1236.5 1427.9,1239.1 1428.1,1241.7 1428.4,1244.2 1428.6,1246.8 1428.9,1249.4 1429.1,1251.8 1429.4,1254.5 1429.7,1257.1 1430.0,1259.6 1430.3,1262.4 1430.5,1265.0 1430.8,1267.6 1431.1,1270.3 1431.5,1272.8 1431.8,1275.4 1432.2,1278.1 1432.6,1280.3 1433.0,1282.7 1433.5,1285.5 1434.0,1288.1 1434.5,1290.4 1435.1,1293.0 1435.7,1295.8 1436.3,1298.3 1437.0,1300.5 1437.8,1303.1 1438.7,1305.7 1440.4,1306.6 1441.7,1304.4 1442.4,1302.1 1443.1,1299.3 1443.6,1296.8 1444.1,1294.4 1444.6,1291.6 1445.1,1288.8 1445.6,1286.4 1446.1,1284.2 1446.5,1281.3 1447.0,1278.8 1447.4,1276.3 1447.9,1273.6 1448.2,1270.8 1448.6,1268.2 1449.0,1266.0 1449.3,1263.3 1449.7,1260.8 1450.0,1258.2 1450.3,1255.4 1450.7,1253.1 1451.0,1250.5 1451.3,1247.8 1451.6,1245.4 1451.9,1242.6 1452.2,1239.8 1452.5,1237.4 1452.8,1235.0 1453.1,1232.3 1453.4,1229.9 1453.7,1227.2 1453.9,1224.5 1454.2,1222.0 1454.5,1219.7 1454.7,1217.2 1455.0,1214.4 1455.2,1211.9 1455.5,1209.5 1455.8,1206.8 1456.0,1204.2 1456.3,1201.6 1456.5,1198.8 1456.7,1196.1 1457.0,1193.6 1457.2,1190.9 1457.5,1188.2 1457.7,1185.5 1458.0,1182.9 1458.2,1180.4 1458.5,1178.1 1458.7,1175.8 1459.0,1173.1 1459.2,1170.4 1459.5,1167.7 1459.8,1164.9 1460.0,1162.6 1460.3,1160.2 1460.5,1157.3 1460.8,1154.7 1461.0,1152.1 1461.3,1149.4 1461.5,1146.8 1461.8,1144.5 1462.1,1142.0 1462.3,1139.4 1462.6,1136.9 1462.8,1134.4 1463.1,1131.7 1463.3,1129.2 1463.6,1126.4 1463.9,1123.8 1464.1,1121.3 1464.4,1118.5 1464.7,1116.0 1464.9,1113.4 1465.2,1110.8 1465.5,1108.2 1465.7,1105.5 1465.9,1102.8 1466.2,1100.5 1466.4,1097.9 1466.6,1095.3 1466.8,1092.7 1467.0,1090.1 1467.3,1087.6 1467.5,1085.0 1467.7,1082.5 1467.9,1080.0 1468.2,1077.3 1468.5,1074.5 1468.8,1071.8 1469.1,1069.5 1469.6,1067.0 1470.0,1064.4 1470.5,1061.7 1471.1,1059.2 1471.7,1056.6 1472.5,1054.0 1473.3,1051.6 1474.2,1049.2 1475.2,1046.7 1476.8,1046.0 1477.8,1048.3 1478.3,1051.0 1478.6,1053.6 1478.9,1056.2 1479.2,1059.0 1479.4,1061.5 1479.6,1064.0 1479.8,1066.7 1480.0,1069.3 1480.2,1071.6 1480.4,1074.3 1480.6,1076.9 1480.8,1079.6 1481.0,1082.3 1481.2,1084.9 1481.4,1087.4 1481.6,1089.8 1481.8,1092.5 1482.0,1094.9 1482.2,1097.7 1482.4,1100.3 1482.6,1102.6 1482.7,1105.2 1482.9,1108.1 1483.1,1110.9 1483.2,1113.2 1483.4,1115.9 1483.6,1118.7 1483.7,1121.1 1483.9,1123.5 1484.0,1126.3 1484.1,1128.8 1484.3,1131.2 1484.4,1134.0 1484.6,1136.5 1484.7,1139.2 1484.9,1141.9 1485.1,1144.5 1485.2,1146.9 1485.4,1149.2 1485.5,1152.2 1485.7,1154.7 1485.9,1157.2 1486.0,1159.7 1486.2,1162.4 1486.4,1165.1 1486.5,1167.8 1486.7,1170.3 1486.9,1172.7 1487.0,1175.5 1487.2,1178.0 1487.4,1180.7 1487.6,1183.5 1487.7,1186.1 1487.9,1188.6 1488.1,1191.1 1488.3,1193.6 1488.4,1196.3 1488.6,1199.1 1488.8,1201.5 1489.0,1204.0 1489.1,1206.7 1489.3,1209.5 1489.5,1211.9 1489.7,1214.2 1489.9,1216.9 1490.1,1219.7 1490.2,1222.4 1490.4,1225.0 1490.6,1227.7 1490.8,1230.1 1491.0,1232.3 1491.2,1234.8 1491.4,1237.6 1491.6,1240.3 1491.8,1243.1 1492.0,1245.8 1492.2,1248.4 1492.4,1250.6 1492.6,1253.0 1492.8,1256.0 1493.0,1258.6 1493.2,1260.8 1493.3,1263.5 1493.5,1266.2 1493.7,1268.8 1493.9,1271.6 1494.2,1274.1 1494.4,1276.6 1494.6,1279.2 1494.9,1281.8 1495.1,1284.4 1495.4,1287.1 1495.7,1289.9 1496.0,1292.4 1496.3,1294.7 1496.6,1297.1 1496.9,1299.8 1497.3,1302.3 1497.6,1305.1 1498.0,1307.8 1498.4,1310.4 1498.8,1313.0 1499.3,1315.6 1500.2,1318.0 1501.8,1318.4 1503.0,1316.1 1504.0,1313.5 1504.8,1311.1 1505.7,1308.7 1506.6,1306.2 1507.4,1303.7 1508.3,1301.4 1509.0,1298.9 1509.8,1296.3 1510.7,1293.7 1512.0,1291.6 1513.9,1292.0 1515.2,1294.4 1516.3,1296.8 1517.3,1299.1 1518.3,1301.6 1519.4,1303.8 1520.6,1306.1 1521.9,1308.4 1523.3,1310.7 1524.6,1312.7 1526.1,1314.7 1528.1,1316.4 1530.4,1316.4 1532.1,1314.6 1533.5,1312.2 1534.7,1310.0 1535.8,1307.7 1536.8,1305.1 1537.6,1302.7 1538.4,1300.1 1539.1,1297.6 1539.7,1295.1 1540.2,1292.5 1540.7,1290.2 1541.1,1287.4 1541.6,1284.6 1542.0,1282.4 1542.5,1280.1 1542.9,1277.3 1543.5,1274.4 1544.0,1272.0 1544.5,1269.7 1545.2,1267.2 1545.8,1264.7 1546.5,1262.2 1547.1,1259.8 1547.8,1257.2 1548.5,1254.5 1549.2,1251.9 1549.9,1249.2 1550.6,1247.0 1551.4,1244.7 1552.1,1242.3 1552.9,1239.7 1553.6,1237.0 1554.4,1234.6 1555.1,1232.4 1555.9,1229.5 1556.7,1226.9 1557.5,1224.8 1558.2,1222.1 1559.0,1219.7 1559.8,1217.4 1560.7,1215.0 1561.5,1212.6 1562.3,1209.8 1563.2,1207.0 1564.1,1204.7 1565.1,1202.5 1566.0,1200.1 1567.0,1197.5 1567.9,1195.2 1568.9,1193.0 1569.9,1190.7 1571.0,1188.1 1572.1,1185.4 1573.3,1183.0 1574.6,1181.0 1575.9,1178.7 1577.5,1176.5 1579.2,1174.6 1581.1,1172.7 1582.9,1170.9 1584.6,1169.0 1586.2,1167.1 1587.4,1164.9 1588.6,1162.5 1589.7,1160.1 1590.7,1158.0 1591.7,1155.6 1592.7,1153.1 1593.6,1150.7 1594.7,1148.2 1595.7,1145.7 1596.8,1143.5 1598.1,1141.5 1599.3,1139.2 1600.6,1137.0 1601.9,1134.4 1603.2,1132.1 1604.6,1129.8 1605.9,1127.5 1607.3,1125.3 1608.8,1123.3 1610.2,1121.1 1611.8,1119.0 1613.3,1116.9 1614.8,1114.9 1616.1,1112.5 1617.4,1110.4 1618.4,1108.3 1619.5,1105.8 1620.5,1103.5 1621.4,1100.9 1622.3,1098.5 1623.1,1096.2 1623.9,1093.5 1624.7,1090.8 1625.6,1088.4 1626.4,1085.9 1627.2,1083.4 1628.0,1081.1 1628.8,1078.8 1629.6,1076.3 1630.4,1073.7 1631.2,1071.0 1632.0,1068.4 1632.8,1066.2 1633.6,1063.9 1634.3,1061.5 1635.1,1059.0 1636.0,1056.2 1636.8,1053.8 1637.7,1051.6 1638.6,1049.3 1639.4,1046.8 1640.3,1044.4 1641.2,1041.8 1642.1,1039.2 1643.1,1037.0 1644.1,1034.7 1645.9,1032.6 1647.3,1034.4 1648.0,1036.9 1648.6,1039.5 1649.0,1042.0 1649.4,1044.8 1649.8,1047.7 1650.2,1049.9 1650.5,1052.5 1650.9,1055.3 1651.2,1057.8 1651.6,1060.3 1651.9,1062.8 1652.2,1065.4 1652.5,1067.8 1652.8,1070.2 1653.0,1072.9 1653.3,1075.4 1653.6,1078.2 1653.8,1080.8 1654.0,1083.2 1654.3,1086.0 1654.5,1088.5 1654.7,1091.0 1655.0,1093.8 1655.2,1096.6 1655.5,1098.9 1655.8,1101.7 1656.0,1104.2 1656.3,1106.8 1656.6,1109.4 1656.9,1111.9 1657.2,1114.7 1657.5,1117.1 1657.8,1119.4 1658.1,1122.0 1658.4,1124.9 1658.8,1127.3 1659.1,1129.9 1659.4,1132.8 1659.8,1135.1 1660.1,1137.4 1660.5,1140.1 1661.0,1142.6 1661.4,1145.2 1661.8,1147.7 1662.2,1150.4 1662.6,1153.0 1663.1,1155.6 1663.5,1158.3 1664.1,1160.9 1665.2,1163.1 1666.9,1162.0 1667.9,1159.5 1668.9,1157.0 1669.6,1154.4 1670.4,1152.2 1671.2,1149.6 1671.9,1147.1 1672.5,1144.8 1673.1,1142.0 1673.7,1139.5 1674.2,1137.1 1674.7,1134.6 1675.1,1132.0 1675.6,1129.6 1676.1,1126.8 1676.5,1124.1 1676.9,1121.8 1677.4,1119.2 1677.9,1116.4 1678.4,1113.9 1678.9,1111.4 1679.5,1108.7 1680.0,1106.3 1680.6,1104.1 1681.3,1101.5 1681.9,1098.8 1682.5,1096.4 1683.1,1094.0 1683.9,1091.5 1684.6,1089.0 1685.4,1086.4 1686.5,1084.1 1687.6,1081.9 1689.1,1079.5 1690.9,1077.4 1693.1,1077.2 1694.6,1079.3 1695.5,1082.1 1696.3,1084.5 1697.0,1086.7 1697.6,1089.4 1698.3,1092.1 1698.9,1094.5 1699.5,1097.1 1700.1,1099.6 1700.5,1102.2 1701.0,1105.0 1701.4,1107.6 1701.9,1110.0 1702.4,1112.3 1703.2,1114.6 1704.1,1117.2 1705.5,1119.7 1707.1,1121.9 1709.2,1123.2 1711.7,1123.3 1714.1,1122.1 1716.0,1120.2 1717.9,1118.5 1719.6,1116.5 1721.2,1114.4 1722.7,1112.3 1724.1,1110.5 1725.2,1108.1 1726.2,1105.4 1727.2,1102.9 1727.9,1100.5 1728.7,1097.8 1729.4,1095.3 1730.1,1093.0 1730.8,1090.7 1731.5,1088.1 1732.5,1085.9 1733.4,1083.2 1734.5,1080.7 1735.7,1078.6 1737.0,1076.3 1738.4,1074.2 1739.9,1072.2 1741.8,1070.4 1744.1,1069.9 1746.2,1071.5 1747.7,1073.8 1749.1,1075.9 1750.2,1078.3 1751.3,1080.7 1752.2,1083.1 1753.2,1085.3 1754.0,1087.7 1754.6,1090.1 1755.2,1092.9 1755.8,1095.7 1756.3,1098.2 1756.6,1100.5 1756.9,1103.1 1757.2,1105.6 1757.5,1108.1 1757.7,1110.9 1757.9,1113.3 1758.2,1115.8 1758.4,1118.5 1758.6,1121.2 1758.9,1123.7 1759.2,1126.1 1759.5,1129.0 1759.7,1131.7 1760.0,1134.4 1760.4,1137.0 1760.8,1139.3 1761.1,1141.7 1761.5,1144.5 1761.8,1147.3 1762.2,1149.7 1762.5,1152.1 1762.9,1154.7 1763.2,1157.1 1763.6,1159.9 1764.0,1162.5 1764.4,1164.9 1764.7,1167.8 1765.1,1170.1 1765.5,1172.5 1766.0,1175.1 1766.5,1177.7 1767.0,1180.5 1767.5,1183.0 1768.0,1185.5 1768.5,1188.1 1769.1,1190.4 1769.7,1192.8 1770.3,1195.8 1771.0,1198.1 1771.8,1200.6 1772.7,1203.2 1773.9,1205.4 1775.3,1207.5 1777.1,1209.5 1779.3,1211.0 1781.8,1210.5 1783.8,1209.0 1785.4,1207.1 1786.8,1204.6 1788.1,1202.6 1789.2,1200.3 1790.1,1197.5 1791.0,1195.3 1791.7,1192.8 1792.3,1190.0 1792.9,1187.4 1793.5,1184.9 1794.2,1182.7 1794.9,1180.5 1795.7,1177.7 1796.6,1175.1 1797.7,1173.0 1798.8,1170.6 1799.9,1167.9 1801.3,1165.8 1802.9,1164.0 1805.1,1163.3 1807.4,1164.5 1809.0,1166.4 1810.6,1168.7 1811.9,1171.0 1813.2,1173.1 1814.5,1175.2 1815.7,1177.6 1817.0,1180.1 1818.1,1182.3 1819.2,1184.7 1820.2,1187.0 1821.1,1189.6 1822.0,1192.2 1822.9,1194.7 1823.7,1197.1 1824.7,1199.5 1825.6,1201.6 1826.5,1203.8 1827.5,1206.3 1828.4,1208.9 1829.4,1211.3 1830.4,1213.7 1831.4,1216.2 1832.6,1218.6 1833.8,1220.6 1835.4,1222.9 1837.2,1224.9 1839.5,1224.4 1841.0,1222.1 1842.2,1219.6 1843.2,1217.3 1844.1,1215.2 1844.9,1212.5 1845.6,1210.0 1846.2,1207.7 1846.7,1204.9 1847.1,1202.1 1847.6,1199.6 1848.0,1197.0 1848.6,1194.8 1849.2,1192.1 1849.8,1189.4 1850.6,1187.0 1851.4,1184.9 1852.3,1182.3 1853.2,1179.7 1854.3,1177.5 1855.3,1175.3 1856.4,1172.7 1857.6,1170.0 1858.9,1168.1 1860.2,1166.0 1861.6,1163.8 1863.1,1161.8 1864.6,1159.4 1866.1,1157.4 1867.6,1155.6 1869.1,1153.3 1870.6,1151.1 1872.1,1149.1 1873.4,1146.9 1874.8,1144.7 1876.1,1142.3 1877.5,1139.9 1878.8,1137.6 1880.1,1135.5 1881.5,1133.5 1882.8,1131.1 1884.3,1128.8 1885.7,1126.9 1887.2,1124.7 1888.7,1122.2 1890.3,1120.2 1891.9,1118.3 1893.5,1116.3 1895.2,1114.4 1896.9,1112.5 1898.6,1110.3 1900.4,1108.3 1902.3,1106.5 1904.2,1105.1 1906.1,1103.4 1908.0,1101.7 1910.0,1099.9 1912.0,1098.1 1913.9,1096.3 1915.8,1094.3 1917.7,1092.8 1919.6,1090.9 1921.4,1088.9 1923.3,1087.3 1925.1,1085.3 1927.0,1083.5 1928.9,1081.8 1930.7,1079.9 1932.9,1078.7 1935.4,1078.7 1937.7,1080.0 1939.7,1081.7 1941.6,1083.6 1943.0,1085.5 1944.1,1088.0 1945.0,1090.6 1945.7,1092.9 1946.4,1095.3 1947.1,1097.9 1947.8,1100.4 1948.4,1102.9 1949.0,1105.7 1949.5,1108.4 1950.2,1110.8 1950.8,1113.2 1951.6,1115.5 1952.5,1118.2 1953.7,1120.6 1955.1,1122.5 1957.0,1123.9 1959.4,1123.7 1961.3,1122.1 1963.0,1119.9 1964.7,1117.8 1966.3,1116.2 1968.0,1114.4 1969.6,1112.0 1971.2,1109.8 1972.7,1107.9 1974.3,1105.8 1975.8,1103.8 1977.4,1101.7 1978.9,1099.6 1980.4,1097.6 1981.9,1095.5 1983.4,1093.2 1984.9,1090.7 1986.1,1088.7 1987.2,1086.4 1988.2,1083.8 1989.4,1081.6 1991.2,1080.1 1992.5,1082.4 1993.2,1085.0 1993.7,1087.6 1994.2,1090.3 1994.7,1092.9 1995.2,1095.1 1995.6,1097.6 1996.0,1100.3 1996.3,1103.0 1996.6,1105.4 1996.9,1107.8 1997.2,1110.6 1997.6,1113.2 1998.1,1115.9 1998.5,1118.3 1999.1,1120.7 2000.1,1122.9 2002.1,1122.2 2003.6,1120.4 2004.9,1118.2 2005.9,1115.5 2006.7,1112.8 2007.3,1110.6 2007.8,1108.0 2008.3,1105.2 2008.8,1102.8 2009.2,1100.4 2009.8,1098.1 2010.4,1095.5 2011.1,1093.0 2011.8,1090.6 2012.6,1087.8 2013.5,1085.1 2014.3,1082.9 2015.3,1080.4 2016.2,1077.9 2017.3,1075.8 2018.4,1073.4 2019.6,1070.9 2020.9,1068.9 2022.3,1066.8 2023.8,1064.5 2025.4,1062.3 2026.9,1060.2 2028.5,1058.2 2030.0,1056.0 2031.5,1053.9 2033.0,1051.6 2034.5,1049.8 2035.9,1047.6 2037.4,1045.1 2038.9,1042.9 2040.4,1041.1 2042.0,1039.1 2043.5,1037.2 2045.2,1035.0 2046.8,1032.7 2048.5,1030.8 2050.3,1029.1 2052.1,1027.3 2053.9,1025.5 2055.9,1023.7 2057.9,1022.2 2059.9,1020.8 2062.0,1019.0 2064.0,1017.3 2066.0,1015.5 2068.0,1014.0 2070.0,1012.5 2071.0,1011.5" fill="none" stroke="#000080" stroke-width="12" stroke-linejoin="round" shape-rendering="crispEdges"/></g>
</g>
<g id="labels" class="b" font-size="72">
<text x="338" y="1674" text-anchor="middle">3500</text>
<text x="510" y="1674" text-anchor="middle">3000</text>
<text x="801" y="1674" text-anchor="middle">1800</text>
<text x="1117" y="1674" text-anchor="middle">1600</text>
<text x="1433" y="1674" text-anchor="middle">1400</text>
<text x="1748" y="1674" text-anchor="middle">1200</text>
<text x="2063" y="1674" text-anchor="middle">1000</text>
<text x="1821.5" y="156" fill="#000000">MNS-4</text>
<text x="1721.5" y="359.4" fill="#ff0000">MNS-4MB</text>
<text x="1721" y="485" fill="#00ff00">MNS-4W</text>
<text x="1718.5" y="764.3" fill="#0000ff">MNS-4R</text>
<text x="1817.7" y="1027.9" fill="#000080">MB</text>
</g>
<g id="titles" class="b">
<text transform="translate(105,1255.3) rotate(-90)" font-size="110" letter-spacing="-0.1">Transmittance (%)</text>
<text x="610" y="1799" font-size="110.3">Wavenumber (cm<tspan x="1528" y="1747.7" dx="0 -3.5" font-size="74">-1</tspan><tspan x="1585.5" y="1799">)</tspan></text>
</g>
<g id="annot" font-size="67.6" stroke="#000" stroke-width="1.8" stroke-linejoin="round">
<text x="469" y="1151.5">-CH</text>
<text x="469" y="1234">-CH<tspan font-size="39" dy="27.5" dx="-2">2</tspan></text>
<text x="469" y="1324.4">-CH<tspan font-size="39" dy="27.5" dx="-2">3</tspan></text>
<text x="810" y="1175.5" letter-spacing="-1.3">-C=O</text>
<text transform="translate(1146,1525) rotate(-90)" font-size="66" stroke-width="2">1600</text>
</g>
<g id="patches" fill="#fff">
<rect x="723.5" y="1665" width="13.8" height="10.5"/>
<rect x="748.0" y="1665" width="12" height="10.5"/>
<rect x="1039.5" y="1665" width="13.8" height="10.5"/>
<rect x="1064.0" y="1665" width="12" height="10.5"/>
<rect x="1355.5" y="1665" width="13.8" height="10.5"/>
<rect x="1380.0" y="1665" width="12" height="10.5"/>
<rect x="1670.5" y="1665" width="13.8" height="10.5"/>
<rect x="1695.0" y="1665" width="12" height="10.5"/>
<rect x="1985.5" y="1665" width="13.8" height="10.5"/>
<rect x="2010.0" y="1665" width="12" height="10.5"/>
<rect x="1551" y="1739" width="15.2" height="10"/>
<rect x="1577" y="1739" width="14.5" height="10"/>
<rect x="1138.5" y="1488" width="9.5" height="12.6"/>
<rect x="1138.5" y="1509.6" width="9.5" height="12"/>
</g>
</svg></body></html>
